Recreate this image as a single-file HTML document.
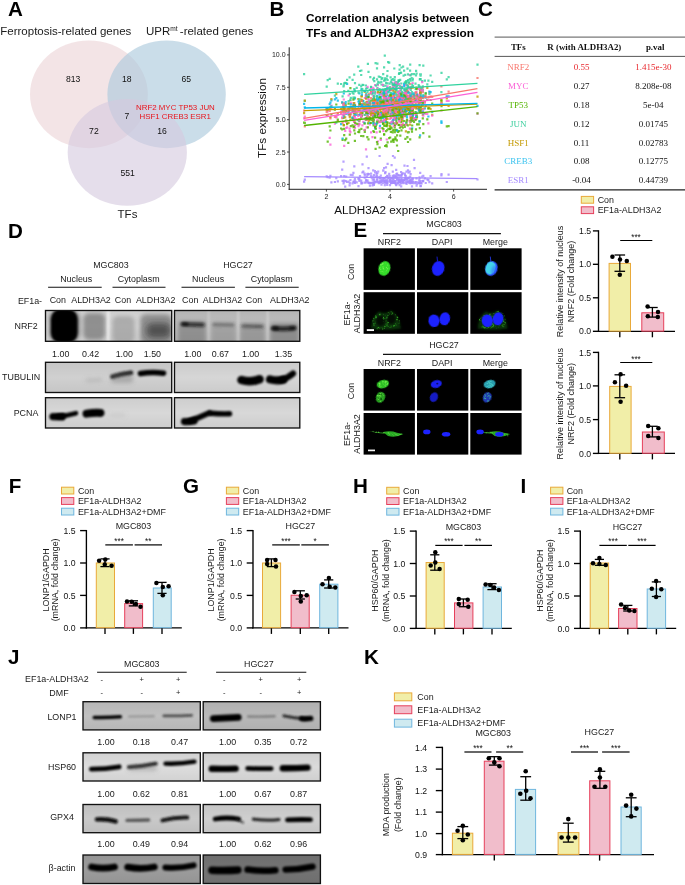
<!DOCTYPE html>
<html><head><meta charset="utf-8"><title>Figure</title>
<style>
html,body{margin:0;padding:0;background:#fff;}
body{width:685px;height:885px;overflow:hidden;font-family:"Liberation Sans",sans-serif;}
svg{display:block;font-family:"Liberation Sans",sans-serif;will-change:transform;-webkit-font-smoothing:antialiased;}
</style></head><body>
<svg width="685" height="885" viewBox="0 0 685 885">
<rect width="685" height="885" fill="#fff"/>
<g>
<ellipse cx="88.9" cy="94.3" rx="58.9" ry="53.9" fill="#ecd4d6" fill-opacity="0.62"/>
<ellipse cx="166.6" cy="94.3" rx="59.2" ry="53.9" fill="#a9c8dc" fill-opacity="0.62"/>
<ellipse cx="127.3" cy="152.4" rx="59.6" ry="53.4" fill="#d5c9de" fill-opacity="0.62"/>
<text x="65.80" y="35.12" font-size="11.5" text-anchor="middle" fill="#1a1a1a">Ferroptosis-related genes</text>
<text x="146" y="35.1" font-size="11.5" fill="#1a1a1a">UPR<tspan font-size="6.6" dy="-4.2">mt</tspan><tspan dy="4.2" dx="2.2">-related genes</tspan></text>
<text x="127.50" y="217.72" font-size="11.5" text-anchor="middle" fill="#1a1a1a">TFs</text>
<text x="73.20" y="82.08" font-size="8.6" text-anchor="middle" fill="#111">813</text>
<text x="126.80" y="82.08" font-size="8.6" text-anchor="middle" fill="#111">18</text>
<text x="186.30" y="82.08" font-size="8.6" text-anchor="middle" fill="#111">65</text>
<text x="126.90" y="118.78" font-size="8.6" text-anchor="middle" fill="#111">7</text>
<text x="93.90" y="134.28" font-size="8.6" text-anchor="middle" fill="#111">72</text>
<text x="162.00" y="134.28" font-size="8.6" text-anchor="middle" fill="#111">16</text>
<text x="127.60" y="176.48" font-size="8.6" text-anchor="middle" fill="#111">551</text>
<text x="175.40" y="109.73" font-size="7.9" text-anchor="middle" fill="#e8141c">NRF2 MYC TP53 JUN</text>
<text x="175.20" y="119.13" font-size="7.9" text-anchor="middle" fill="#e8141c">HSF1 CREB3 ESR1</text>
</g>
<text x="8" y="16" font-size="20.6" font-weight="bold" fill="#000">A</text>
<text x="269.5" y="16" font-size="20.6" font-weight="bold" fill="#000">B</text>
<text x="478" y="16.3" font-size="20.6" font-weight="bold" fill="#000">C</text>
<text x="8" y="237.6" font-size="20.6" font-weight="bold" fill="#000">D</text>
<text x="353.5" y="237.3" font-size="20.6" font-weight="bold" fill="#000">E</text>
<text x="8.8" y="493" font-size="20.6" font-weight="bold" fill="#000">F</text>
<text x="183" y="493" font-size="20.6" font-weight="bold" fill="#000">G</text>
<text x="353" y="493" font-size="20.6" font-weight="bold" fill="#000">H</text>
<text x="520.6" y="493" font-size="20.6" font-weight="bold" fill="#000">I</text>
<text x="8" y="664.2" font-size="20.6" font-weight="bold" fill="#000">J</text>
<text x="364" y="663.6" font-size="20.6" font-weight="bold" fill="#000">K</text>
<text x="306" y="21.9" font-size="11.8" font-weight="bold" fill="#000">Correlation analysis between</text>
<text x="306" y="36.6" font-size="11.8" font-weight="bold" fill="#000">TFs and ALDH3A2 expression</text>
<path d="M342.4 105.5h2.2v2.2h-2.2zM397.9 107.8h2.2v2.2h-2.2zM394.4 98.5h2.2v2.2h-2.2zM418.1 97.5h2.2v2.2h-2.2zM440.4 102.4h2.2v2.2h-2.2zM397.6 90.4h2.2v2.2h-2.2zM410.3 86.6h2.2v2.2h-2.2zM394.3 102.8h2.2v2.2h-2.2zM404.3 98.9h2.2v2.2h-2.2zM404.0 110.8h2.2v2.2h-2.2zM374.5 99.3h2.2v2.2h-2.2zM411.6 102.5h2.2v2.2h-2.2zM366.8 95.7h2.2v2.2h-2.2zM417.7 101.7h2.2v2.2h-2.2zM382.4 94.9h2.2v2.2h-2.2zM377.1 104.8h2.2v2.2h-2.2zM381.9 102.0h2.2v2.2h-2.2zM418.7 97.7h2.2v2.2h-2.2zM375.9 108.8h2.2v2.2h-2.2zM404.1 93.4h2.2v2.2h-2.2zM382.0 111.6h2.2v2.2h-2.2zM369.2 111.0h2.2v2.2h-2.2zM440.3 85.3h2.2v2.2h-2.2zM385.0 118.5h2.2v2.2h-2.2zM341.1 117.0h2.2v2.2h-2.2zM398.1 100.8h2.2v2.2h-2.2zM421.8 91.1h2.2v2.2h-2.2zM413.0 93.8h2.2v2.2h-2.2zM365.7 104.8h2.2v2.2h-2.2zM389.5 100.9h2.2v2.2h-2.2zM344.6 110.5h2.2v2.2h-2.2zM391.3 99.1h2.2v2.2h-2.2zM411.5 102.3h2.2v2.2h-2.2zM431.1 95.7h2.2v2.2h-2.2zM366.3 117.4h2.2v2.2h-2.2zM353.2 109.7h2.2v2.2h-2.2zM419.5 95.5h2.2v2.2h-2.2zM364.8 97.0h2.2v2.2h-2.2zM400.8 112.2h2.2v2.2h-2.2zM417.6 108.6h2.2v2.2h-2.2zM394.9 103.3h2.2v2.2h-2.2zM422.2 100.4h2.2v2.2h-2.2zM372.5 105.0h2.2v2.2h-2.2zM411.7 102.5h2.2v2.2h-2.2zM428.3 91.4h2.2v2.2h-2.2zM376.5 109.8h2.2v2.2h-2.2zM380.5 99.4h2.2v2.2h-2.2zM328.6 109.7h2.2v2.2h-2.2zM398.0 102.1h2.2v2.2h-2.2zM405.4 95.4h2.2v2.2h-2.2zM345.1 120.2h2.2v2.2h-2.2zM347.2 109.7h2.2v2.2h-2.2zM367.4 104.8h2.2v2.2h-2.2zM379.7 98.8h2.2v2.2h-2.2zM410.6 101.6h2.2v2.2h-2.2zM389.3 99.5h2.2v2.2h-2.2zM396.0 96.2h2.2v2.2h-2.2zM420.5 95.6h2.2v2.2h-2.2zM384.1 111.3h2.2v2.2h-2.2zM400.4 101.2h2.2v2.2h-2.2zM388.1 95.8h2.2v2.2h-2.2zM401.3 102.6h2.2v2.2h-2.2zM401.0 103.6h2.2v2.2h-2.2zM363.7 113.9h2.2v2.2h-2.2zM398.5 99.7h2.2v2.2h-2.2zM401.6 97.3h2.2v2.2h-2.2zM397.1 107.9h2.2v2.2h-2.2zM401.2 105.5h2.2v2.2h-2.2zM385.0 105.0h2.2v2.2h-2.2zM388.6 100.0h2.2v2.2h-2.2zM380.4 98.4h2.2v2.2h-2.2zM384.0 108.8h2.2v2.2h-2.2zM391.6 102.7h2.2v2.2h-2.2zM393.2 99.1h2.2v2.2h-2.2zM378.9 105.4h2.2v2.2h-2.2zM387.0 111.1h2.2v2.2h-2.2zM353.8 114.6h2.2v2.2h-2.2zM386.4 105.9h2.2v2.2h-2.2zM355.6 109.3h2.2v2.2h-2.2zM361.4 100.0h2.2v2.2h-2.2zM415.9 100.5h2.2v2.2h-2.2zM366.9 106.5h2.2v2.2h-2.2zM360.1 113.5h2.2v2.2h-2.2zM398.2 106.4h2.2v2.2h-2.2zM396.8 111.5h2.2v2.2h-2.2zM405.5 107.8h2.2v2.2h-2.2zM403.0 99.9h2.2v2.2h-2.2zM389.1 89.2h2.2v2.2h-2.2zM373.2 100.7h2.2v2.2h-2.2zM393.6 98.0h2.2v2.2h-2.2zM421.1 96.9h2.2v2.2h-2.2zM409.0 92.4h2.2v2.2h-2.2zM348.7 114.5h2.2v2.2h-2.2zM375.9 109.1h2.2v2.2h-2.2zM447.5 90.6h2.2v2.2h-2.2zM383.7 104.2h2.2v2.2h-2.2zM336.7 119.7h2.2v2.2h-2.2zM382.3 105.1h2.2v2.2h-2.2z" fill="#F8766D" fill-opacity="0.8"/>
<path d="M375.5 111.3h2.2v2.2h-2.2zM372.7 98.3h2.2v2.2h-2.2zM353.2 109.8h2.2v2.2h-2.2zM369.2 112.0h2.2v2.2h-2.2zM400.9 86.5h2.2v2.2h-2.2zM335.2 97.0h2.2v2.2h-2.2zM405.5 114.9h2.2v2.2h-2.2zM353.9 97.3h2.2v2.2h-2.2zM348.7 107.0h2.2v2.2h-2.2zM384.0 108.6h2.2v2.2h-2.2zM367.4 111.8h2.2v2.2h-2.2zM408.3 108.7h2.2v2.2h-2.2zM412.9 92.2h2.2v2.2h-2.2zM390.3 92.5h2.2v2.2h-2.2zM400.4 106.7h2.2v2.2h-2.2zM371.6 108.1h2.2v2.2h-2.2zM392.5 112.8h2.2v2.2h-2.2zM399.1 100.9h2.2v2.2h-2.2zM399.2 107.5h2.2v2.2h-2.2zM370.7 108.4h2.2v2.2h-2.2zM392.9 104.3h2.2v2.2h-2.2zM388.1 94.6h2.2v2.2h-2.2zM365.1 106.8h2.2v2.2h-2.2zM361.3 105.4h2.2v2.2h-2.2zM391.9 108.7h2.2v2.2h-2.2zM408.8 101.0h2.2v2.2h-2.2zM342.5 110.7h2.2v2.2h-2.2zM405.9 116.3h2.2v2.2h-2.2zM353.6 89.6h2.2v2.2h-2.2zM409.7 108.4h2.2v2.2h-2.2zM419.1 110.4h2.2v2.2h-2.2zM340.0 123.0h2.2v2.2h-2.2zM398.8 114.2h2.2v2.2h-2.2zM407.6 102.6h2.2v2.2h-2.2zM393.2 110.5h2.2v2.2h-2.2zM395.2 88.3h2.2v2.2h-2.2zM376.1 94.7h2.2v2.2h-2.2zM378.8 97.5h2.2v2.2h-2.2zM372.1 105.7h2.2v2.2h-2.2zM405.1 121.7h2.2v2.2h-2.2zM386.1 107.2h2.2v2.2h-2.2zM395.8 104.2h2.2v2.2h-2.2zM407.6 102.0h2.2v2.2h-2.2zM377.1 110.2h2.2v2.2h-2.2zM476.4 104.8h2.2v2.2h-2.2zM371.4 91.8h2.2v2.2h-2.2zM398.0 100.3h2.2v2.2h-2.2zM414.4 99.5h2.2v2.2h-2.2zM387.4 91.0h2.2v2.2h-2.2zM381.9 89.8h2.2v2.2h-2.2zM373.2 107.2h2.2v2.2h-2.2zM366.6 114.2h2.2v2.2h-2.2zM376.3 121.7h2.2v2.2h-2.2zM416.0 107.0h2.2v2.2h-2.2zM376.8 112.7h2.2v2.2h-2.2zM383.7 100.1h2.2v2.2h-2.2zM400.2 105.7h2.2v2.2h-2.2zM374.0 106.5h2.2v2.2h-2.2zM401.3 117.4h2.2v2.2h-2.2zM384.2 101.5h2.2v2.2h-2.2zM421.1 110.9h2.2v2.2h-2.2zM409.1 106.1h2.2v2.2h-2.2zM401.6 107.1h2.2v2.2h-2.2zM343.1 103.2h2.2v2.2h-2.2zM411.9 114.1h2.2v2.2h-2.2zM386.5 107.6h2.2v2.2h-2.2zM427.3 115.4h2.2v2.2h-2.2zM393.6 96.8h2.2v2.2h-2.2zM402.5 96.7h2.2v2.2h-2.2zM347.2 111.6h2.2v2.2h-2.2zM409.5 115.6h2.2v2.2h-2.2zM381.3 104.4h2.2v2.2h-2.2zM400.5 109.5h2.2v2.2h-2.2zM374.0 127.2h2.2v2.2h-2.2zM404.8 94.7h2.2v2.2h-2.2zM375.9 108.1h2.2v2.2h-2.2zM383.4 109.0h2.2v2.2h-2.2zM333.8 98.2h2.2v2.2h-2.2zM366.2 101.0h2.2v2.2h-2.2zM382.3 108.0h2.2v2.2h-2.2zM396.8 105.7h2.2v2.2h-2.2z" fill="#00B6EB" fill-opacity="0.8"/>
<path d="M404.9 91.5h2.2v2.2h-2.2zM413.5 97.3h2.2v2.2h-2.2zM398.8 126.5h2.2v2.2h-2.2zM404.3 137.7h2.2v2.2h-2.2zM393.6 116.7h2.2v2.2h-2.2zM372.1 116.2h2.2v2.2h-2.2zM389.0 122.2h2.2v2.2h-2.2zM395.3 120.0h2.2v2.2h-2.2zM379.7 137.5h2.2v2.2h-2.2zM400.1 87.1h2.2v2.2h-2.2zM389.8 130.9h2.2v2.2h-2.2zM384.0 92.8h2.2v2.2h-2.2zM397.9 130.0h2.2v2.2h-2.2zM393.4 111.9h2.2v2.2h-2.2zM382.0 122.2h2.2v2.2h-2.2zM341.1 128.2h2.2v2.2h-2.2zM363.5 109.1h2.2v2.2h-2.2zM406.9 140.9h2.2v2.2h-2.2zM352.4 126.1h2.2v2.2h-2.2zM340.0 127.4h2.2v2.2h-2.2zM388.1 137.1h2.2v2.2h-2.2zM397.5 123.9h2.2v2.2h-2.2zM380.5 117.2h2.2v2.2h-2.2zM400.5 118.3h2.2v2.2h-2.2zM329.3 129.4h2.2v2.2h-2.2zM358.1 131.1h2.2v2.2h-2.2zM342.7 124.1h2.2v2.2h-2.2zM376.1 104.7h2.2v2.2h-2.2zM382.4 107.4h2.2v2.2h-2.2zM393.6 108.4h2.2v2.2h-2.2zM376.8 102.7h2.2v2.2h-2.2zM372.8 118.9h2.2v2.2h-2.2zM360.8 114.9h2.2v2.2h-2.2zM383.4 111.5h2.2v2.2h-2.2zM385.0 116.9h2.2v2.2h-2.2zM343.1 127.8h2.2v2.2h-2.2zM371.6 117.1h2.2v2.2h-2.2zM394.3 136.2h2.2v2.2h-2.2zM352.8 112.0h2.2v2.2h-2.2zM395.1 102.9h2.2v2.2h-2.2zM363.6 128.9h2.2v2.2h-2.2zM386.5 141.2h2.2v2.2h-2.2zM418.7 127.0h2.2v2.2h-2.2zM376.8 106.6h2.2v2.2h-2.2zM389.3 125.6h2.2v2.2h-2.2zM395.2 128.7h2.2v2.2h-2.2zM368.4 118.3h2.2v2.2h-2.2zM402.5 94.0h2.2v2.2h-2.2zM388.9 127.7h2.2v2.2h-2.2zM348.7 133.5h2.2v2.2h-2.2zM397.4 114.5h2.2v2.2h-2.2zM393.7 131.1h2.2v2.2h-2.2zM408.8 120.1h2.2v2.2h-2.2zM382.3 127.9h2.2v2.2h-2.2zM414.9 128.3h2.2v2.2h-2.2zM393.2 128.7h2.2v2.2h-2.2zM360.1 116.6h2.2v2.2h-2.2zM366.2 136.0h2.2v2.2h-2.2zM349.3 87.1h2.2v2.2h-2.2zM418.1 106.9h2.2v2.2h-2.2zM409.0 111.9h2.2v2.2h-2.2zM404.0 107.8h2.2v2.2h-2.2zM393.6 116.1h2.2v2.2h-2.2zM385.6 145.4h2.2v2.2h-2.2zM416.0 123.3h2.2v2.2h-2.2z" fill="#53B400" fill-opacity="0.8"/>
<path d="M347.2 180.9h2.2v2.2h-2.2zM405.5 182.2h2.2v2.2h-2.2zM385.0 178.5h2.2v2.2h-2.2zM386.4 181.7h2.2v2.2h-2.2zM357.4 185.1h2.2v2.2h-2.2zM410.6 180.2h2.2v2.2h-2.2zM383.0 166.9h2.2v2.2h-2.2zM409.0 178.8h2.2v2.2h-2.2zM413.0 182.1h2.2v2.2h-2.2zM386.1 179.0h2.2v2.2h-2.2zM394.5 182.0h2.2v2.2h-2.2zM418.4 176.3h2.2v2.2h-2.2zM408.1 181.5h2.2v2.2h-2.2zM326.6 176.0h2.2v2.2h-2.2zM368.8 184.5h2.2v2.2h-2.2zM373.0 178.2h2.2v2.2h-2.2zM399.2 179.5h2.2v2.2h-2.2zM353.8 181.7h2.2v2.2h-2.2zM373.8 169.9h2.2v2.2h-2.2zM382.4 178.1h2.2v2.2h-2.2zM391.8 180.6h2.2v2.2h-2.2zM379.7 180.7h2.2v2.2h-2.2zM406.4 164.9h2.2v2.2h-2.2zM330.3 181.3h2.2v2.2h-2.2zM393.4 181.8h2.2v2.2h-2.2zM366.9 181.4h2.2v2.2h-2.2zM349.7 173.8h2.2v2.2h-2.2zM365.5 180.0h2.2v2.2h-2.2zM383.4 177.4h2.2v2.2h-2.2zM329.3 174.7h2.2v2.2h-2.2zM351.5 174.0h2.2v2.2h-2.2zM391.8 181.9h2.2v2.2h-2.2zM388.1 172.7h2.2v2.2h-2.2zM358.9 174.9h2.2v2.2h-2.2zM348.7 182.1h2.2v2.2h-2.2zM387.0 180.2h2.2v2.2h-2.2zM418.5 177.0h2.2v2.2h-2.2zM414.4 181.2h2.2v2.2h-2.2zM376.8 181.1h2.2v2.2h-2.2zM361.3 171.4h2.2v2.2h-2.2zM378.8 180.5h2.2v2.2h-2.2zM410.9 185.3h2.2v2.2h-2.2zM404.0 173.7h2.2v2.2h-2.2zM363.6 176.5h2.2v2.2h-2.2zM411.7 181.2h2.2v2.2h-2.2zM389.9 177.0h2.2v2.2h-2.2zM376.5 176.6h2.2v2.2h-2.2zM393.6 180.7h2.2v2.2h-2.2zM376.8 181.1h2.2v2.2h-2.2zM391.7 170.5h2.2v2.2h-2.2zM384.1 181.4h2.2v2.2h-2.2zM445.7 180.9h2.2v2.2h-2.2zM364.8 181.4h2.2v2.2h-2.2zM361.0 181.8h2.2v2.2h-2.2zM404.3 177.5h2.2v2.2h-2.2zM347.5 180.6h2.2v2.2h-2.2zM386.5 162.8h2.2v2.2h-2.2zM303.0 180.6h2.2v2.2h-2.2zM360.8 182.0h2.2v2.2h-2.2zM393.6 156.5h2.2v2.2h-2.2zM409.5 181.3h2.2v2.2h-2.2zM346.0 180.7h2.2v2.2h-2.2zM417.7 182.0h2.2v2.2h-2.2zM447.5 173.6h2.2v2.2h-2.2zM398.1 180.8h2.2v2.2h-2.2zM406.7 177.4h2.2v2.2h-2.2zM379.7 174.5h2.2v2.2h-2.2zM401.2 181.4h2.2v2.2h-2.2zM382.0 177.1h2.2v2.2h-2.2zM395.1 168.7h2.2v2.2h-2.2zM419.5 185.1h2.2v2.2h-2.2zM407.6 180.8h2.2v2.2h-2.2zM393.6 180.1h2.2v2.2h-2.2zM418.1 179.3h2.2v2.2h-2.2zM363.5 172.6h2.2v2.2h-2.2zM365.1 180.4h2.2v2.2h-2.2zM374.8 171.1h2.2v2.2h-2.2zM340.0 175.0h2.2v2.2h-2.2zM374.0 171.2h2.2v2.2h-2.2zM398.2 181.2h2.2v2.2h-2.2zM374.7 181.1h2.2v2.2h-2.2zM387.4 177.0h2.2v2.2h-2.2zM405.4 182.9h2.2v2.2h-2.2zM372.3 175.4h2.2v2.2h-2.2zM391.9 154.9h2.2v2.2h-2.2zM372.1 169.2h2.2v2.2h-2.2zM403.4 178.8h2.2v2.2h-2.2zM411.5 178.0h2.2v2.2h-2.2zM345.1 175.4h2.2v2.2h-2.2zM393.2 180.4h2.2v2.2h-2.2zM397.9 179.3h2.2v2.2h-2.2zM369.9 175.1h2.2v2.2h-2.2zM408.8 182.1h2.2v2.2h-2.2zM388.9 184.0h2.2v2.2h-2.2z" fill="#A58AFF" fill-opacity="0.8"/>
<path d="M326.6 108.8h2.2v2.2h-2.2zM400.2 115.5h2.2v2.2h-2.2zM403.4 103.2h2.2v2.2h-2.2zM373.0 110.6h2.2v2.2h-2.2zM409.4 109.7h2.2v2.2h-2.2zM352.8 103.9h2.2v2.2h-2.2zM394.5 103.7h2.2v2.2h-2.2zM346.0 123.1h2.2v2.2h-2.2zM368.8 101.6h2.2v2.2h-2.2zM394.3 102.8h2.2v2.2h-2.2zM411.6 108.9h2.2v2.2h-2.2zM335.2 93.0h2.2v2.2h-2.2zM380.2 111.9h2.2v2.2h-2.2zM377.7 106.1h2.2v2.2h-2.2zM358.2 102.9h2.2v2.2h-2.2zM400.0 106.2h2.2v2.2h-2.2zM419.1 107.1h2.2v2.2h-2.2zM360.3 95.2h2.2v2.2h-2.2zM353.9 104.1h2.2v2.2h-2.2zM402.5 113.1h2.2v2.2h-2.2zM363.6 90.7h2.2v2.2h-2.2zM354.1 105.5h2.2v2.2h-2.2zM366.9 111.5h2.2v2.2h-2.2zM403.4 96.9h2.2v2.2h-2.2zM365.7 100.7h2.2v2.2h-2.2zM476.4 95.5h2.2v2.2h-2.2zM366.3 103.3h2.2v2.2h-2.2zM342.7 124.1h2.2v2.2h-2.2zM375.5 101.4h2.2v2.2h-2.2zM333.8 108.2h2.2v2.2h-2.2zM413.0 106.5h2.2v2.2h-2.2zM411.5 110.4h2.2v2.2h-2.2zM399.2 107.0h2.2v2.2h-2.2zM353.1 120.9h2.2v2.2h-2.2zM345.1 119.6h2.2v2.2h-2.2zM361.4 99.6h2.2v2.2h-2.2zM398.0 103.3h2.2v2.2h-2.2zM386.1 110.5h2.2v2.2h-2.2zM378.8 102.9h2.2v2.2h-2.2zM422.2 99.8h2.2v2.2h-2.2zM343.1 111.0h2.2v2.2h-2.2zM370.7 110.4h2.2v2.2h-2.2zM421.7 113.7h2.2v2.2h-2.2zM358.1 118.5h2.2v2.2h-2.2zM393.4 118.4h2.2v2.2h-2.2zM361.0 102.9h2.2v2.2h-2.2zM362.2 102.7h2.2v2.2h-2.2zM406.9 112.6h2.2v2.2h-2.2zM419.6 96.7h2.2v2.2h-2.2zM388.1 97.3h2.2v2.2h-2.2zM410.6 118.5h2.2v2.2h-2.2zM413.5 98.1h2.2v2.2h-2.2zM380.5 111.4h2.2v2.2h-2.2zM351.5 106.2h2.2v2.2h-2.2zM379.8 112.4h2.2v2.2h-2.2zM405.1 105.9h2.2v2.2h-2.2zM440.3 98.9h2.2v2.2h-2.2zM398.7 99.9h2.2v2.2h-2.2zM445.7 97.2h2.2v2.2h-2.2zM364.8 106.9h2.2v2.2h-2.2zM414.5 99.0h2.2v2.2h-2.2zM369.8 91.2h2.2v2.2h-2.2zM384.0 94.6h2.2v2.2h-2.2zM389.1 102.7h2.2v2.2h-2.2zM396.8 100.8h2.2v2.2h-2.2zM384.4 118.7h2.2v2.2h-2.2zM393.6 88.4h2.2v2.2h-2.2zM409.0 123.6h2.2v2.2h-2.2zM397.9 117.0h2.2v2.2h-2.2zM352.3 110.0h2.2v2.2h-2.2zM366.8 106.3h2.2v2.2h-2.2zM398.5 99.0h2.2v2.2h-2.2zM411.7 86.5h2.2v2.2h-2.2zM336.7 112.5h2.2v2.2h-2.2zM408.8 97.1h2.2v2.2h-2.2zM389.5 100.1h2.2v2.2h-2.2zM404.1 96.4h2.2v2.2h-2.2zM415.5 117.6h2.2v2.2h-2.2zM378.5 106.9h2.2v2.2h-2.2zM386.1 101.2h2.2v2.2h-2.2zM385.7 123.9h2.2v2.2h-2.2zM383.7 121.5h2.2v2.2h-2.2zM400.8 100.6h2.2v2.2h-2.2zM393.7 108.1h2.2v2.2h-2.2zM386.5 117.7h2.2v2.2h-2.2zM399.2 108.7h2.2v2.2h-2.2zM405.5 109.6h2.2v2.2h-2.2zM384.4 100.2h2.2v2.2h-2.2zM393.2 102.7h2.2v2.2h-2.2zM390.1 104.1h2.2v2.2h-2.2z" fill="#C49A00" fill-opacity="0.8"/>
<path d="M378.8 101.7h2.2v2.2h-2.2zM378.7 88.9h2.2v2.2h-2.2zM343.1 82.3h2.2v2.2h-2.2zM411.6 95.7h2.2v2.2h-2.2zM348.7 92.7h2.2v2.2h-2.2zM403.4 88.8h2.2v2.2h-2.2zM382.0 83.9h2.2v2.2h-2.2zM416.0 96.1h2.2v2.2h-2.2zM384.9 89.5h2.2v2.2h-2.2zM403.0 92.1h2.2v2.2h-2.2zM358.1 99.8h2.2v2.2h-2.2zM303.0 73.1h2.2v2.2h-2.2zM373.8 92.6h2.2v2.2h-2.2zM389.0 88.7h2.2v2.2h-2.2zM374.7 98.5h2.2v2.2h-2.2zM368.8 88.7h2.2v2.2h-2.2zM414.4 82.5h2.2v2.2h-2.2zM386.1 89.2h2.2v2.2h-2.2zM379.7 99.9h2.2v2.2h-2.2zM383.7 89.6h2.2v2.2h-2.2zM384.9 92.8h2.2v2.2h-2.2zM383.0 66.3h2.2v2.2h-2.2zM362.2 83.9h2.2v2.2h-2.2zM360.1 73.9h2.2v2.2h-2.2zM414.5 87.8h2.2v2.2h-2.2zM411.9 85.0h2.2v2.2h-2.2zM411.5 79.4h2.2v2.2h-2.2zM353.2 87.9h2.2v2.2h-2.2zM351.4 91.5h2.2v2.2h-2.2zM419.5 74.6h2.2v2.2h-2.2zM342.4 85.2h2.2v2.2h-2.2zM410.9 90.9h2.2v2.2h-2.2zM395.1 85.6h2.2v2.2h-2.2zM382.4 84.7h2.2v2.2h-2.2zM346.0 78.8h2.2v2.2h-2.2zM343.1 89.9h2.2v2.2h-2.2zM426.2 83.2h2.2v2.2h-2.2zM400.2 82.4h2.2v2.2h-2.2zM355.6 86.8h2.2v2.2h-2.2zM429.5 74.4h2.2v2.2h-2.2zM399.0 94.7h2.2v2.2h-2.2zM396.8 81.8h2.2v2.2h-2.2zM381.6 88.4h2.2v2.2h-2.2zM393.6 91.5h2.2v2.2h-2.2zM419.1 73.3h2.2v2.2h-2.2zM418.1 85.4h2.2v2.2h-2.2zM379.2 97.3h2.2v2.2h-2.2zM377.1 80.8h2.2v2.2h-2.2zM344.6 103.3h2.2v2.2h-2.2zM389.5 76.3h2.2v2.2h-2.2zM390.6 78.9h2.2v2.2h-2.2zM369.9 85.8h2.2v2.2h-2.2zM417.7 98.6h2.2v2.2h-2.2zM401.7 91.8h2.2v2.2h-2.2zM419.7 73.3h2.2v2.2h-2.2zM365.7 116.5h2.2v2.2h-2.2zM392.8 102.9h2.2v2.2h-2.2zM415.9 93.2h2.2v2.2h-2.2zM400.2 104.0h2.2v2.2h-2.2zM400.4 86.6h2.2v2.2h-2.2zM342.7 84.4h2.2v2.2h-2.2zM373.2 80.0h2.2v2.2h-2.2zM406.7 84.5h2.2v2.2h-2.2zM394.4 81.0h2.2v2.2h-2.2zM341.1 109.0h2.2v2.2h-2.2zM374.5 62.0h2.2v2.2h-2.2zM424.6 92.1h2.2v2.2h-2.2zM421.1 80.0h2.2v2.2h-2.2zM396.0 83.5h2.2v2.2h-2.2zM393.6 84.0h2.2v2.2h-2.2zM398.1 79.6h2.2v2.2h-2.2z" fill="#2fd29e" fill-opacity="0.8"/>
<path d="M411.9 111.6h2.2v2.2h-2.2zM370.0 131.2h2.2v2.2h-2.2zM380.4 90.6h2.2v2.2h-2.2zM405.4 94.0h2.2v2.2h-2.2zM365.5 126.2h2.2v2.2h-2.2zM419.6 96.1h2.2v2.2h-2.2zM447.5 99.7h2.2v2.2h-2.2zM409.7 116.0h2.2v2.2h-2.2zM418.1 103.0h2.2v2.2h-2.2zM344.1 129.7h2.2v2.2h-2.2zM400.4 109.2h2.2v2.2h-2.2zM405.9 109.3h2.2v2.2h-2.2zM395.1 104.7h2.2v2.2h-2.2zM394.5 100.6h2.2v2.2h-2.2zM404.0 84.3h2.2v2.2h-2.2zM329.3 143.5h2.2v2.2h-2.2zM390.6 116.7h2.2v2.2h-2.2zM378.5 105.6h2.2v2.2h-2.2zM404.7 107.2h2.2v2.2h-2.2zM382.1 113.6h2.2v2.2h-2.2zM325.6 107.6h2.2v2.2h-2.2zM349.3 131.0h2.2v2.2h-2.2zM383.0 95.7h2.2v2.2h-2.2zM379.7 113.6h2.2v2.2h-2.2zM404.3 92.3h2.2v2.2h-2.2zM418.7 93.6h2.2v2.2h-2.2zM386.1 115.7h2.2v2.2h-2.2zM401.6 104.0h2.2v2.2h-2.2zM363.6 117.2h2.2v2.2h-2.2zM406.7 99.4h2.2v2.2h-2.2zM394.0 100.4h2.2v2.2h-2.2zM398.8 103.4h2.2v2.2h-2.2zM397.6 92.8h2.2v2.2h-2.2zM352.4 109.0h2.2v2.2h-2.2zM373.2 114.4h2.2v2.2h-2.2zM353.6 118.1h2.2v2.2h-2.2zM371.6 115.2h2.2v2.2h-2.2zM409.0 99.0h2.2v2.2h-2.2zM402.5 114.8h2.2v2.2h-2.2zM398.2 105.6h2.2v2.2h-2.2zM397.4 100.4h2.2v2.2h-2.2zM406.9 90.4h2.2v2.2h-2.2zM346.0 126.3h2.2v2.2h-2.2zM351.5 110.0h2.2v2.2h-2.2zM419.1 109.3h2.2v2.2h-2.2zM399.1 97.6h2.2v2.2h-2.2zM396.0 83.7h2.2v2.2h-2.2zM395.9 100.5h2.2v2.2h-2.2zM405.5 103.3h2.2v2.2h-2.2zM400.4 104.7h2.2v2.2h-2.2zM395.8 96.3h2.2v2.2h-2.2zM391.7 84.2h2.2v2.2h-2.2zM400.0 98.3h2.2v2.2h-2.2zM401.7 117.5h2.2v2.2h-2.2zM353.9 126.9h2.2v2.2h-2.2zM361.4 108.1h2.2v2.2h-2.2zM372.9 95.9h2.2v2.2h-2.2zM355.6 117.8h2.2v2.2h-2.2zM408.6 73.9h2.2v2.2h-2.2zM400.6 85.6h2.2v2.2h-2.2zM367.4 116.7h2.2v2.2h-2.2zM383.7 110.4h2.2v2.2h-2.2zM387.0 101.9h2.2v2.2h-2.2zM369.9 87.8h2.2v2.2h-2.2zM372.8 108.7h2.2v2.2h-2.2zM381.3 94.9h2.2v2.2h-2.2zM405.1 83.9h2.2v2.2h-2.2zM410.7 96.8h2.2v2.2h-2.2zM406.9 99.6h2.2v2.2h-2.2zM401.2 111.3h2.2v2.2h-2.2zM419.5 110.7h2.2v2.2h-2.2zM368.8 123.3h2.2v2.2h-2.2zM358.1 123.2h2.2v2.2h-2.2zM387.3 97.2h2.2v2.2h-2.2zM384.0 113.7h2.2v2.2h-2.2zM375.9 100.4h2.2v2.2h-2.2zM363.7 96.9h2.2v2.2h-2.2zM394.4 81.4h2.2v2.2h-2.2zM413.0 119.1h2.2v2.2h-2.2zM413.5 117.0h2.2v2.2h-2.2zM382.0 90.9h2.2v2.2h-2.2zM389.3 97.8h2.2v2.2h-2.2zM328.6 136.8h2.2v2.2h-2.2zM376.8 83.9h2.2v2.2h-2.2zM391.9 111.9h2.2v2.2h-2.2zM342.5 104.4h2.2v2.2h-2.2zM410.2 110.7h2.2v2.2h-2.2zM405.4 97.1h2.2v2.2h-2.2zM369.2 108.1h2.2v2.2h-2.2zM397.5 95.8h2.2v2.2h-2.2zM383.0 118.8h2.2v2.2h-2.2zM426.2 112.8h2.2v2.2h-2.2zM392.9 105.3h2.2v2.2h-2.2zM377.1 115.6h2.2v2.2h-2.2zM422.2 114.6h2.2v2.2h-2.2zM374.0 111.1h2.2v2.2h-2.2z" fill="#FB61D7" fill-opacity="0.8"/>
<path d="M426.2 118.2h2.2v2.2h-2.2zM403.7 125.9h2.2v2.2h-2.2zM393.2 138.5h2.2v2.2h-2.2zM394.3 111.5h2.2v2.2h-2.2zM370.0 99.6h2.2v2.2h-2.2zM398.7 104.5h2.2v2.2h-2.2zM364.9 117.3h2.2v2.2h-2.2zM357.2 130.9h2.2v2.2h-2.2zM365.7 109.6h2.2v2.2h-2.2zM386.4 121.8h2.2v2.2h-2.2zM369.2 118.4h2.2v2.2h-2.2zM384.9 124.7h2.2v2.2h-2.2zM414.4 110.9h2.2v2.2h-2.2zM349.7 125.1h2.2v2.2h-2.2zM390.5 126.7h2.2v2.2h-2.2zM353.2 129.3h2.2v2.2h-2.2zM401.6 113.2h2.2v2.2h-2.2zM348.5 113.3h2.2v2.2h-2.2zM423.8 112.1h2.2v2.2h-2.2zM400.8 116.2h2.2v2.2h-2.2zM407.6 105.3h2.2v2.2h-2.2zM398.1 109.3h2.2v2.2h-2.2zM409.1 138.2h2.2v2.2h-2.2zM388.6 107.4h2.2v2.2h-2.2zM389.9 112.5h2.2v2.2h-2.2zM440.4 105.1h2.2v2.2h-2.2zM384.0 144.9h2.2v2.2h-2.2zM383.0 133.3h2.2v2.2h-2.2zM420.5 88.8h2.2v2.2h-2.2zM399.0 108.5h2.2v2.2h-2.2zM360.3 127.8h2.2v2.2h-2.2zM406.3 136.4h2.2v2.2h-2.2zM406.2 136.1h2.2v2.2h-2.2zM391.6 131.2h2.2v2.2h-2.2zM374.0 136.6h2.2v2.2h-2.2zM419.1 89.0h2.2v2.2h-2.2zM393.6 126.3h2.2v2.2h-2.2zM401.0 107.5h2.2v2.2h-2.2zM379.8 99.8h2.2v2.2h-2.2zM409.5 120.8h2.2v2.2h-2.2zM422.2 132.0h2.2v2.2h-2.2zM396.4 110.6h2.2v2.2h-2.2zM397.1 149.9h2.2v2.2h-2.2zM369.8 92.3h2.2v2.2h-2.2zM391.9 104.2h2.2v2.2h-2.2zM379.3 106.3h2.2v2.2h-2.2zM372.7 98.3h2.2v2.2h-2.2zM371.4 118.4h2.2v2.2h-2.2zM421.1 104.2h2.2v2.2h-2.2zM409.7 97.4h2.2v2.2h-2.2zM395.9 99.9h2.2v2.2h-2.2zM355.6 122.7h2.2v2.2h-2.2zM364.8 118.9h2.2v2.2h-2.2zM411.6 116.2h2.2v2.2h-2.2zM345.1 137.6h2.2v2.2h-2.2zM381.3 127.0h2.2v2.2h-2.2zM395.5 129.3h2.2v2.2h-2.2zM421.7 117.2h2.2v2.2h-2.2zM353.6 104.9h2.2v2.2h-2.2zM361.0 99.6h2.2v2.2h-2.2zM410.6 104.3h2.2v2.2h-2.2zM371.6 114.3h2.2v2.2h-2.2zM408.8 100.5h2.2v2.2h-2.2zM397.6 111.1h2.2v2.2h-2.2zM399.2 134.6h2.2v2.2h-2.2zM389.5 104.5h2.2v2.2h-2.2zM325.6 114.1h2.2v2.2h-2.2zM447.5 125.1h2.2v2.2h-2.2zM365.5 109.1h2.2v2.2h-2.2zM372.3 129.9h2.2v2.2h-2.2zM400.4 98.6h2.2v2.2h-2.2zM370.7 118.7h2.2v2.2h-2.2zM384.1 124.6h2.2v2.2h-2.2zM374.8 127.6h2.2v2.2h-2.2zM389.0 128.1h2.2v2.2h-2.2zM358.2 120.0h2.2v2.2h-2.2zM383.7 113.3h2.2v2.2h-2.2zM429.5 98.9h2.2v2.2h-2.2zM366.8 126.2h2.2v2.2h-2.2z" fill="#53B400" fill-opacity="0.8"/>
<path d="M376.5 83.1h2.2v2.2h-2.2zM402.5 74.5h2.2v2.2h-2.2zM407.4 85.8h2.2v2.2h-2.2zM407.6 81.5h2.2v2.2h-2.2zM387.0 61.0h2.2v2.2h-2.2zM372.1 107.4h2.2v2.2h-2.2zM409.7 88.8h2.2v2.2h-2.2zM384.1 88.1h2.2v2.2h-2.2zM361.4 83.7h2.2v2.2h-2.2zM385.6 77.4h2.2v2.2h-2.2zM366.3 90.8h2.2v2.2h-2.2zM411.7 77.7h2.2v2.2h-2.2zM399.2 91.5h2.2v2.2h-2.2zM400.6 86.1h2.2v2.2h-2.2zM395.8 85.2h2.2v2.2h-2.2zM397.1 102.5h2.2v2.2h-2.2zM427.3 79.6h2.2v2.2h-2.2zM358.2 83.8h2.2v2.2h-2.2zM400.5 97.6h2.2v2.2h-2.2zM370.0 85.9h2.2v2.2h-2.2zM352.4 92.6h2.2v2.2h-2.2zM393.6 85.2h2.2v2.2h-2.2zM371.4 93.3h2.2v2.2h-2.2zM418.5 64.0h2.2v2.2h-2.2zM415.0 69.8h2.2v2.2h-2.2zM347.2 89.7h2.2v2.2h-2.2zM376.8 89.3h2.2v2.2h-2.2zM325.6 85.5h2.2v2.2h-2.2zM349.7 96.7h2.2v2.2h-2.2zM380.5 77.9h2.2v2.2h-2.2zM405.5 99.2h2.2v2.2h-2.2zM344.1 81.7h2.2v2.2h-2.2zM422.2 93.9h2.2v2.2h-2.2zM372.1 78.2h2.2v2.2h-2.2zM386.1 74.7h2.2v2.2h-2.2zM413.0 94.0h2.2v2.2h-2.2zM404.1 73.8h2.2v2.2h-2.2zM363.5 89.7h2.2v2.2h-2.2zM408.6 93.7h2.2v2.2h-2.2zM387.3 90.0h2.2v2.2h-2.2zM406.3 84.3h2.2v2.2h-2.2zM394.0 82.6h2.2v2.2h-2.2zM397.5 83.7h2.2v2.2h-2.2zM409.5 110.1h2.2v2.2h-2.2zM415.4 113.7h2.2v2.2h-2.2zM412.9 73.1h2.2v2.2h-2.2zM395.1 93.1h2.2v2.2h-2.2zM398.7 85.0h2.2v2.2h-2.2zM417.6 83.9h2.2v2.2h-2.2zM403.4 100.6h2.2v2.2h-2.2zM406.9 78.9h2.2v2.2h-2.2zM386.1 91.8h2.2v2.2h-2.2zM369.8 111.1h2.2v2.2h-2.2zM410.6 77.0h2.2v2.2h-2.2zM404.6 111.1h2.2v2.2h-2.2zM383.0 89.6h2.2v2.2h-2.2zM388.9 86.1h2.2v2.2h-2.2zM401.0 95.6h2.2v2.2h-2.2zM393.2 67.4h2.2v2.2h-2.2zM447.5 76.0h2.2v2.2h-2.2zM375.9 67.2h2.2v2.2h-2.2zM391.7 99.5h2.2v2.2h-2.2zM365.1 92.4h2.2v2.2h-2.2zM369.2 76.1h2.2v2.2h-2.2zM374.0 114.3h2.2v2.2h-2.2zM371.6 89.3h2.2v2.2h-2.2zM406.4 67.5h2.2v2.2h-2.2zM392.6 83.7h2.2v2.2h-2.2zM409.4 99.8h2.2v2.2h-2.2zM360.8 91.3h2.2v2.2h-2.2zM336.7 82.6h2.2v2.2h-2.2zM400.0 71.5h2.2v2.2h-2.2zM371.6 99.1h2.2v2.2h-2.2zM409.4 79.5h2.2v2.2h-2.2zM392.5 90.4h2.2v2.2h-2.2zM391.8 114.7h2.2v2.2h-2.2zM360.3 69.4h2.2v2.2h-2.2zM380.2 80.7h2.2v2.2h-2.2zM392.9 78.9h2.2v2.2h-2.2zM397.9 72.8h2.2v2.2h-2.2zM340.0 82.9h2.2v2.2h-2.2zM385.0 95.2h2.2v2.2h-2.2zM419.0 78.1h2.2v2.2h-2.2zM366.5 90.4h2.2v2.2h-2.2zM397.6 80.0h2.2v2.2h-2.2zM382.1 73.0h2.2v2.2h-2.2zM384.4 102.4h2.2v2.2h-2.2zM393.4 78.6h2.2v2.2h-2.2zM370.7 106.9h2.2v2.2h-2.2zM391.6 110.2h2.2v2.2h-2.2zM353.1 73.5h2.2v2.2h-2.2zM342.5 110.2h2.2v2.2h-2.2zM391.7 77.9h2.2v2.2h-2.2zM348.5 76.3h2.2v2.2h-2.2zM376.4 86.8h2.2v2.2h-2.2z" fill="#2fd29e" fill-opacity="0.8"/>
<path d="M378.5 100.4h2.2v2.2h-2.2zM395.9 114.2h2.2v2.2h-2.2zM407.4 86.4h2.2v2.2h-2.2zM360.1 105.6h2.2v2.2h-2.2zM352.3 118.2h2.2v2.2h-2.2zM394.4 114.4h2.2v2.2h-2.2zM411.1 127.3h2.2v2.2h-2.2zM410.3 118.3h2.2v2.2h-2.2zM360.3 88.2h2.2v2.2h-2.2zM344.1 102.0h2.2v2.2h-2.2zM398.1 99.1h2.2v2.2h-2.2zM396.4 104.7h2.2v2.2h-2.2zM367.6 107.1h2.2v2.2h-2.2zM352.4 103.8h2.2v2.2h-2.2zM386.1 111.9h2.2v2.2h-2.2zM423.8 107.3h2.2v2.2h-2.2zM408.6 108.3h2.2v2.2h-2.2zM355.6 113.8h2.2v2.2h-2.2zM403.0 84.8h2.2v2.2h-2.2zM382.0 120.5h2.2v2.2h-2.2zM349.3 112.6h2.2v2.2h-2.2zM342.7 92.4h2.2v2.2h-2.2zM389.0 98.1h2.2v2.2h-2.2zM410.9 93.1h2.2v2.2h-2.2zM399.2 112.3h2.2v2.2h-2.2zM383.0 108.8h2.2v2.2h-2.2zM388.9 96.8h2.2v2.2h-2.2zM391.7 112.1h2.2v2.2h-2.2zM382.4 106.6h2.2v2.2h-2.2zM345.1 112.7h2.2v2.2h-2.2zM379.7 101.2h2.2v2.2h-2.2zM366.9 103.2h2.2v2.2h-2.2zM419.0 134.3h2.2v2.2h-2.2zM376.8 113.5h2.2v2.2h-2.2zM348.5 109.4h2.2v2.2h-2.2zM372.9 108.4h2.2v2.2h-2.2zM415.9 93.7h2.2v2.2h-2.2zM378.1 102.2h2.2v2.2h-2.2zM400.1 113.8h2.2v2.2h-2.2zM378.4 93.6h2.2v2.2h-2.2zM410.2 101.6h2.2v2.2h-2.2zM389.5 104.1h2.2v2.2h-2.2zM379.2 112.7h2.2v2.2h-2.2zM303.7 106.3h2.2v2.2h-2.2zM344.6 100.9h2.2v2.2h-2.2zM397.5 101.5h2.2v2.2h-2.2zM385.6 109.5h2.2v2.2h-2.2zM419.7 105.8h2.2v2.2h-2.2zM393.6 108.4h2.2v2.2h-2.2zM368.2 106.4h2.2v2.2h-2.2zM372.1 109.4h2.2v2.2h-2.2zM347.5 113.2h2.2v2.2h-2.2zM342.4 114.3h2.2v2.2h-2.2zM383.7 99.3h2.2v2.2h-2.2zM384.1 104.2h2.2v2.2h-2.2zM386.1 86.8h2.2v2.2h-2.2zM393.4 105.5h2.2v2.2h-2.2zM406.9 97.9h2.2v2.2h-2.2zM413.0 94.6h2.2v2.2h-2.2zM358.9 109.8h2.2v2.2h-2.2zM400.1 110.5h2.2v2.2h-2.2zM410.6 112.8h2.2v2.2h-2.2zM404.1 101.6h2.2v2.2h-2.2zM406.9 97.8h2.2v2.2h-2.2zM346.0 82.8h2.2v2.2h-2.2zM393.7 118.1h2.2v2.2h-2.2zM385.0 95.8h2.2v2.2h-2.2zM360.1 103.5h2.2v2.2h-2.2zM419.6 90.7h2.2v2.2h-2.2zM405.4 104.0h2.2v2.2h-2.2zM363.7 106.1h2.2v2.2h-2.2zM386.4 98.5h2.2v2.2h-2.2zM395.3 115.8h2.2v2.2h-2.2zM365.5 105.5h2.2v2.2h-2.2zM406.2 91.5h2.2v2.2h-2.2zM419.5 98.3h2.2v2.2h-2.2zM382.1 116.2h2.2v2.2h-2.2zM406.3 105.0h2.2v2.2h-2.2zM383.0 101.0h2.2v2.2h-2.2zM369.8 108.1h2.2v2.2h-2.2zM429.5 91.0h2.2v2.2h-2.2zM409.0 101.7h2.2v2.2h-2.2zM398.7 97.1h2.2v2.2h-2.2zM395.5 105.4h2.2v2.2h-2.2zM413.5 95.1h2.2v2.2h-2.2zM365.7 104.1h2.2v2.2h-2.2zM385.7 97.8h2.2v2.2h-2.2zM357.2 119.0h2.2v2.2h-2.2zM431.1 110.8h2.2v2.2h-2.2zM325.6 107.6h2.2v2.2h-2.2zM384.4 106.8h2.2v2.2h-2.2zM378.9 124.8h2.2v2.2h-2.2zM394.3 118.3h2.2v2.2h-2.2zM420.5 101.4h2.2v2.2h-2.2zM397.1 99.9h2.2v2.2h-2.2z" fill="#00B6EB" fill-opacity="0.8"/>
<path d="M371.6 98.2h2.2v2.2h-2.2zM358.9 101.0h2.2v2.2h-2.2zM416.0 95.5h2.2v2.2h-2.2zM385.0 111.2h2.2v2.2h-2.2zM360.8 95.0h2.2v2.2h-2.2zM347.5 121.9h2.2v2.2h-2.2zM421.1 103.8h2.2v2.2h-2.2zM398.2 108.3h2.2v2.2h-2.2zM385.3 100.1h2.2v2.2h-2.2zM395.1 106.6h2.2v2.2h-2.2zM392.5 94.9h2.2v2.2h-2.2zM418.5 100.4h2.2v2.2h-2.2zM389.0 106.3h2.2v2.2h-2.2zM400.4 116.9h2.2v2.2h-2.2zM373.2 105.7h2.2v2.2h-2.2zM407.6 108.6h2.2v2.2h-2.2zM376.3 111.2h2.2v2.2h-2.2zM387.3 113.1h2.2v2.2h-2.2zM403.0 105.3h2.2v2.2h-2.2zM376.8 106.9h2.2v2.2h-2.2zM397.5 103.3h2.2v2.2h-2.2zM404.0 110.6h2.2v2.2h-2.2zM391.8 121.1h2.2v2.2h-2.2zM371.4 112.7h2.2v2.2h-2.2zM373.8 107.6h2.2v2.2h-2.2zM390.6 103.1h2.2v2.2h-2.2zM365.1 107.0h2.2v2.2h-2.2zM372.1 99.9h2.2v2.2h-2.2zM392.6 108.0h2.2v2.2h-2.2zM341.5 106.6h2.2v2.2h-2.2zM391.7 107.2h2.2v2.2h-2.2zM376.5 111.5h2.2v2.2h-2.2zM386.4 103.8h2.2v2.2h-2.2zM419.0 88.1h2.2v2.2h-2.2zM409.4 94.7h2.2v2.2h-2.2zM391.9 108.9h2.2v2.2h-2.2zM372.9 97.5h2.2v2.2h-2.2zM391.7 113.5h2.2v2.2h-2.2zM415.9 104.4h2.2v2.2h-2.2zM384.9 100.4h2.2v2.2h-2.2zM395.3 110.9h2.2v2.2h-2.2zM348.7 115.8h2.2v2.2h-2.2zM426.2 86.7h2.2v2.2h-2.2zM349.3 118.4h2.2v2.2h-2.2zM384.1 109.3h2.2v2.2h-2.2zM368.2 104.4h2.2v2.2h-2.2zM406.3 104.6h2.2v2.2h-2.2zM382.3 109.5h2.2v2.2h-2.2zM355.6 111.6h2.2v2.2h-2.2zM414.4 101.5h2.2v2.2h-2.2zM368.4 115.9h2.2v2.2h-2.2zM408.3 112.7h2.2v2.2h-2.2zM372.5 104.7h2.2v2.2h-2.2zM424.6 105.1h2.2v2.2h-2.2zM400.6 99.2h2.2v2.2h-2.2zM374.5 106.3h2.2v2.2h-2.2zM408.8 104.4h2.2v2.2h-2.2zM341.1 101.5h2.2v2.2h-2.2zM420.5 108.0h2.2v2.2h-2.2zM411.9 105.1h2.2v2.2h-2.2zM422.2 107.6h2.2v2.2h-2.2zM400.2 102.2h2.2v2.2h-2.2zM391.6 102.7h2.2v2.2h-2.2zM410.7 102.2h2.2v2.2h-2.2zM398.6 106.8h2.2v2.2h-2.2zM389.8 105.7h2.2v2.2h-2.2zM387.4 101.9h2.2v2.2h-2.2zM404.7 105.9h2.2v2.2h-2.2zM405.4 123.3h2.2v2.2h-2.2zM357.2 97.9h2.2v2.2h-2.2zM406.7 102.4h2.2v2.2h-2.2zM375.9 104.9h2.2v2.2h-2.2zM400.9 119.6h2.2v2.2h-2.2zM429.5 108.1h2.2v2.2h-2.2zM367.6 120.1h2.2v2.2h-2.2zM395.5 102.9h2.2v2.2h-2.2zM388.9 109.4h2.2v2.2h-2.2zM369.2 103.3h2.2v2.2h-2.2zM384.2 100.8h2.2v2.2h-2.2zM388.6 124.9h2.2v2.2h-2.2z" fill="#C49A00" fill-opacity="0.8"/>
<path d="M391.7 105.9h2.2v2.2h-2.2zM370.0 90.9h2.2v2.2h-2.2zM415.5 96.1h2.2v2.2h-2.2zM382.1 106.5h2.2v2.2h-2.2zM445.7 95.8h2.2v2.2h-2.2zM352.4 101.9h2.2v2.2h-2.2zM391.8 95.9h2.2v2.2h-2.2zM368.2 101.8h2.2v2.2h-2.2zM326.6 113.9h2.2v2.2h-2.2zM395.1 108.4h2.2v2.2h-2.2zM400.1 100.5h2.2v2.2h-2.2zM403.4 106.2h2.2v2.2h-2.2zM406.2 89.7h2.2v2.2h-2.2zM400.9 116.3h2.2v2.2h-2.2zM399.2 96.6h2.2v2.2h-2.2zM384.4 107.7h2.2v2.2h-2.2zM343.1 108.6h2.2v2.2h-2.2zM371.4 105.4h2.2v2.2h-2.2zM357.4 106.9h2.2v2.2h-2.2zM391.7 97.8h2.2v2.2h-2.2zM397.5 96.3h2.2v2.2h-2.2zM404.9 109.2h2.2v2.2h-2.2zM365.1 105.6h2.2v2.2h-2.2zM378.4 102.4h2.2v2.2h-2.2zM398.8 98.2h2.2v2.2h-2.2zM347.5 108.1h2.2v2.2h-2.2zM358.3 104.8h2.2v2.2h-2.2zM342.5 102.2h2.2v2.2h-2.2zM378.7 107.9h2.2v2.2h-2.2zM367.6 93.1h2.2v2.2h-2.2zM351.4 106.8h2.2v2.2h-2.2zM381.3 105.3h2.2v2.2h-2.2zM385.0 103.5h2.2v2.2h-2.2zM393.7 98.0h2.2v2.2h-2.2zM341.5 121.7h2.2v2.2h-2.2zM396.4 100.4h2.2v2.2h-2.2zM363.5 108.2h2.2v2.2h-2.2zM386.4 99.5h2.2v2.2h-2.2zM346.0 109.5h2.2v2.2h-2.2zM395.5 97.2h2.2v2.2h-2.2zM360.3 112.4h2.2v2.2h-2.2zM378.8 106.4h2.2v2.2h-2.2zM400.0 99.1h2.2v2.2h-2.2zM366.6 118.9h2.2v2.2h-2.2zM390.6 101.5h2.2v2.2h-2.2zM388.9 105.5h2.2v2.2h-2.2zM385.7 93.9h2.2v2.2h-2.2zM389.0 99.6h2.2v2.2h-2.2zM423.8 94.8h2.2v2.2h-2.2zM392.5 95.1h2.2v2.2h-2.2zM418.5 99.1h2.2v2.2h-2.2zM409.1 95.0h2.2v2.2h-2.2zM391.9 95.9h2.2v2.2h-2.2zM370.7 106.1h2.2v2.2h-2.2zM397.4 107.4h2.2v2.2h-2.2zM335.2 115.5h2.2v2.2h-2.2zM410.9 98.2h2.2v2.2h-2.2zM400.4 106.7h2.2v2.2h-2.2zM387.4 100.1h2.2v2.2h-2.2zM378.1 113.6h2.2v2.2h-2.2zM352.3 108.8h2.2v2.2h-2.2zM405.4 93.9h2.2v2.2h-2.2zM392.6 107.6h2.2v2.2h-2.2zM416.0 87.0h2.2v2.2h-2.2zM376.1 107.8h2.2v2.2h-2.2zM379.3 108.0h2.2v2.2h-2.2zM369.8 96.9h2.2v2.2h-2.2zM419.0 91.0h2.2v2.2h-2.2zM383.7 109.4h2.2v2.2h-2.2zM383.4 114.1h2.2v2.2h-2.2zM377.7 104.7h2.2v2.2h-2.2zM391.9 101.1h2.2v2.2h-2.2zM403.0 95.7h2.2v2.2h-2.2zM414.4 94.4h2.2v2.2h-2.2zM395.3 105.5h2.2v2.2h-2.2zM361.3 103.1h2.2v2.2h-2.2zM429.5 95.6h2.2v2.2h-2.2zM357.2 114.1h2.2v2.2h-2.2zM386.5 105.9h2.2v2.2h-2.2zM384.2 99.4h2.2v2.2h-2.2zM398.6 100.8h2.2v2.2h-2.2zM402.5 97.2h2.2v2.2h-2.2zM413.5 105.6h2.2v2.2h-2.2zM382.4 106.1h2.2v2.2h-2.2zM399.1 108.4h2.2v2.2h-2.2z" fill="#F8766D" fill-opacity="0.8"/>
<path d="M395.5 174.9h2.2v2.2h-2.2zM399.0 178.8h2.2v2.2h-2.2zM413.5 167.0h2.2v2.2h-2.2zM440.3 174.4h2.2v2.2h-2.2zM390.6 176.8h2.2v2.2h-2.2zM395.2 184.1h2.2v2.2h-2.2zM381.9 181.8h2.2v2.2h-2.2zM370.7 176.6h2.2v2.2h-2.2zM366.3 173.0h2.2v2.2h-2.2zM381.6 180.7h2.2v2.2h-2.2zM387.3 177.0h2.2v2.2h-2.2zM406.9 169.2h2.2v2.2h-2.2zM357.2 177.6h2.2v2.2h-2.2zM372.1 178.4h2.2v2.2h-2.2zM389.3 178.9h2.2v2.2h-2.2zM366.8 172.8h2.2v2.2h-2.2zM325.6 175.2h2.2v2.2h-2.2zM397.5 180.9h2.2v2.2h-2.2zM393.2 174.3h2.2v2.2h-2.2zM343.1 175.0h2.2v2.2h-2.2zM411.6 177.4h2.2v2.2h-2.2zM373.2 182.0h2.2v2.2h-2.2zM384.0 172.0h2.2v2.2h-2.2zM386.4 175.3h2.2v2.2h-2.2zM367.6 181.7h2.2v2.2h-2.2zM336.7 180.2h2.2v2.2h-2.2zM378.1 182.1h2.2v2.2h-2.2zM403.7 172.4h2.2v2.2h-2.2zM401.3 179.6h2.2v2.2h-2.2zM365.7 155.6h2.2v2.2h-2.2zM355.6 181.2h2.2v2.2h-2.2zM391.8 181.5h2.2v2.2h-2.2zM396.8 182.1h2.2v2.2h-2.2zM408.8 181.5h2.2v2.2h-2.2zM398.0 180.1h2.2v2.2h-2.2zM395.8 176.6h2.2v2.2h-2.2zM419.1 171.8h2.2v2.2h-2.2zM429.5 175.1h2.2v2.2h-2.2zM341.5 179.8h2.2v2.2h-2.2zM404.7 175.1h2.2v2.2h-2.2zM328.6 176.5h2.2v2.2h-2.2zM389.1 179.4h2.2v2.2h-2.2zM409.4 180.2h2.2v2.2h-2.2zM418.7 181.3h2.2v2.2h-2.2zM374.0 180.4h2.2v2.2h-2.2zM394.0 182.0h2.2v2.2h-2.2zM390.5 164.0h2.2v2.2h-2.2zM406.2 178.1h2.2v2.2h-2.2zM384.9 166.3h2.2v2.2h-2.2zM392.6 175.6h2.2v2.2h-2.2zM405.1 177.6h2.2v2.2h-2.2zM400.2 179.1h2.2v2.2h-2.2zM394.3 176.8h2.2v2.2h-2.2zM400.2 174.9h2.2v2.2h-2.2zM352.4 180.5h2.2v2.2h-2.2zM403.0 178.7h2.2v2.2h-2.2zM393.7 175.0h2.2v2.2h-2.2zM363.5 181.5h2.2v2.2h-2.2zM409.5 173.1h2.2v2.2h-2.2zM390.1 181.8h2.2v2.2h-2.2zM421.8 180.4h2.2v2.2h-2.2zM383.0 180.1h2.2v2.2h-2.2zM398.7 179.5h2.2v2.2h-2.2zM375.9 175.1h2.2v2.2h-2.2zM398.8 181.2h2.2v2.2h-2.2zM378.5 154.9h2.2v2.2h-2.2zM335.2 177.1h2.2v2.2h-2.2zM371.6 178.5h2.2v2.2h-2.2zM383.7 181.5h2.2v2.2h-2.2zM361.4 163.3h2.2v2.2h-2.2zM401.6 172.3h2.2v2.2h-2.2zM377.7 182.1h2.2v2.2h-2.2zM385.7 182.0h2.2v2.2h-2.2zM402.0 181.0h2.2v2.2h-2.2zM400.1 185.3h2.2v2.2h-2.2zM419.7 182.1h2.2v2.2h-2.2zM407.6 176.9h2.2v2.2h-2.2zM382.3 180.1h2.2v2.2h-2.2zM358.2 178.4h2.2v2.2h-2.2zM398.5 184.0h2.2v2.2h-2.2zM399.2 174.4h2.2v2.2h-2.2zM394.3 175.8h2.2v2.2h-2.2zM365.7 175.5h2.2v2.2h-2.2zM410.7 181.3h2.2v2.2h-2.2z" fill="#A58AFF" fill-opacity="0.8"/>
<path d="M393.2 115.2h2.2v2.2h-2.2zM399.2 97.8h2.2v2.2h-2.2zM385.0 107.5h2.2v2.2h-2.2zM363.5 128.7h2.2v2.2h-2.2zM366.3 101.9h2.2v2.2h-2.2zM408.8 127.6h2.2v2.2h-2.2zM399.2 99.0h2.2v2.2h-2.2zM419.5 96.3h2.2v2.2h-2.2zM419.7 111.3h2.2v2.2h-2.2zM409.1 120.4h2.2v2.2h-2.2zM363.5 107.2h2.2v2.2h-2.2zM422.2 108.6h2.2v2.2h-2.2zM404.1 106.2h2.2v2.2h-2.2zM400.8 98.7h2.2v2.2h-2.2zM347.5 94.4h2.2v2.2h-2.2zM391.9 105.4h2.2v2.2h-2.2zM372.1 110.5h2.2v2.2h-2.2zM376.8 140.4h2.2v2.2h-2.2zM398.1 82.9h2.2v2.2h-2.2zM368.4 112.9h2.2v2.2h-2.2zM372.7 120.4h2.2v2.2h-2.2zM404.6 123.9h2.2v2.2h-2.2zM393.6 117.7h2.2v2.2h-2.2zM375.5 131.3h2.2v2.2h-2.2zM398.7 90.0h2.2v2.2h-2.2zM427.3 122.2h2.2v2.2h-2.2zM409.4 95.0h2.2v2.2h-2.2zM341.5 113.5h2.2v2.2h-2.2zM380.5 114.8h2.2v2.2h-2.2zM352.8 117.4h2.2v2.2h-2.2zM428.3 95.7h2.2v2.2h-2.2zM354.1 124.0h2.2v2.2h-2.2zM393.2 124.4h2.2v2.2h-2.2zM351.4 118.6h2.2v2.2h-2.2zM364.9 148.3h2.2v2.2h-2.2zM379.3 98.9h2.2v2.2h-2.2zM393.6 97.7h2.2v2.2h-2.2zM393.4 86.3h2.2v2.2h-2.2zM414.9 113.8h2.2v2.2h-2.2zM414.5 117.6h2.2v2.2h-2.2zM395.3 100.0h2.2v2.2h-2.2zM383.7 118.6h2.2v2.2h-2.2zM377.7 102.8h2.2v2.2h-2.2zM378.7 127.0h2.2v2.2h-2.2zM303.7 115.6h2.2v2.2h-2.2zM365.1 112.4h2.2v2.2h-2.2zM415.9 105.8h2.2v2.2h-2.2zM417.6 87.9h2.2v2.2h-2.2zM406.3 119.4h2.2v2.2h-2.2zM391.3 81.5h2.2v2.2h-2.2zM410.6 113.2h2.2v2.2h-2.2zM398.5 99.3h2.2v2.2h-2.2zM445.7 99.9h2.2v2.2h-2.2zM429.5 95.8h2.2v2.2h-2.2zM381.9 114.8h2.2v2.2h-2.2zM403.7 102.3h2.2v2.2h-2.2zM362.2 120.8h2.2v2.2h-2.2zM391.8 121.3h2.2v2.2h-2.2zM403.0 110.9h2.2v2.2h-2.2zM333.8 122.5h2.2v2.2h-2.2zM373.0 99.6h2.2v2.2h-2.2zM410.3 100.4h2.2v2.2h-2.2zM390.5 105.2h2.2v2.2h-2.2zM366.9 98.4h2.2v2.2h-2.2zM385.0 97.3h2.2v2.2h-2.2zM345.1 126.9h2.2v2.2h-2.2zM411.6 113.9h2.2v2.2h-2.2zM387.4 97.2h2.2v2.2h-2.2zM383.0 110.8h2.2v2.2h-2.2zM403.4 91.6h2.2v2.2h-2.2zM326.6 110.2h2.2v2.2h-2.2zM374.0 83.9h2.2v2.2h-2.2zM358.9 108.1h2.2v2.2h-2.2zM360.8 112.8h2.2v2.2h-2.2zM392.6 125.0h2.2v2.2h-2.2zM340.0 110.6h2.2v2.2h-2.2zM386.4 85.3h2.2v2.2h-2.2z" fill="#FB61D7" fill-opacity="0.8"/>
<path d="M363.7 174.0h2.2v2.2h-2.2zM383.7 184.0h2.2v2.2h-2.2zM333.8 180.9h2.2v2.2h-2.2zM344.6 180.1h2.2v2.2h-2.2zM352.3 171.8h2.2v2.2h-2.2zM371.6 181.5h2.2v2.2h-2.2zM380.5 179.1h2.2v2.2h-2.2zM372.5 183.2h2.2v2.2h-2.2zM395.9 178.1h2.2v2.2h-2.2zM408.6 170.6h2.2v2.2h-2.2zM419.6 184.9h2.2v2.2h-2.2zM368.2 173.0h2.2v2.2h-2.2zM389.5 179.7h2.2v2.2h-2.2zM403.0 179.4h2.2v2.2h-2.2zM401.0 172.7h2.2v2.2h-2.2zM380.2 177.4h2.2v2.2h-2.2zM384.4 171.1h2.2v2.2h-2.2zM406.3 181.0h2.2v2.2h-2.2zM368.4 182.0h2.2v2.2h-2.2zM415.4 177.2h2.2v2.2h-2.2zM383.0 177.3h2.2v2.2h-2.2zM375.9 178.2h2.2v2.2h-2.2zM422.2 174.7h2.2v2.2h-2.2zM353.2 165.3h2.2v2.2h-2.2zM384.0 180.3h2.2v2.2h-2.2zM397.1 174.1h2.2v2.2h-2.2zM424.6 181.9h2.2v2.2h-2.2zM476.4 178.4h2.2v2.2h-2.2zM369.2 181.8h2.2v2.2h-2.2zM386.1 183.7h2.2v2.2h-2.2zM421.7 179.9h2.2v2.2h-2.2zM370.0 172.6h2.2v2.2h-2.2zM375.5 173.0h2.2v2.2h-2.2zM391.9 180.6h2.2v2.2h-2.2zM428.3 181.0h2.2v2.2h-2.2zM349.3 179.1h2.2v2.2h-2.2zM385.3 180.5h2.2v2.2h-2.2zM419.0 182.2h2.2v2.2h-2.2zM404.1 176.4h2.2v2.2h-2.2zM389.0 178.4h2.2v2.2h-2.2zM385.0 180.8h2.2v2.2h-2.2zM395.3 173.1h2.2v2.2h-2.2zM344.1 185.5h2.2v2.2h-2.2zM412.9 158.8h2.2v2.2h-2.2zM389.0 180.6h2.2v2.2h-2.2zM405.4 170.6h2.2v2.2h-2.2zM395.1 175.8h2.2v2.2h-2.2zM421.1 175.6h2.2v2.2h-2.2zM378.9 181.4h2.2v2.2h-2.2zM409.4 180.4h2.2v2.2h-2.2zM392.9 181.2h2.2v2.2h-2.2zM364.9 178.8h2.2v2.2h-2.2zM392.5 178.0h2.2v2.2h-2.2zM372.9 173.9h2.2v2.2h-2.2zM379.3 177.1h2.2v2.2h-2.2zM409.1 175.5h2.2v2.2h-2.2zM388.6 175.1h2.2v2.2h-2.2zM427.3 179.0h2.2v2.2h-2.2zM403.4 164.6h2.2v2.2h-2.2zM372.7 180.6h2.2v2.2h-2.2zM400.9 179.6h2.2v2.2h-2.2zM397.6 177.7h2.2v2.2h-2.2zM407.4 176.4h2.2v2.2h-2.2zM431.1 182.2h2.2v2.2h-2.2zM400.4 177.7h2.2v2.2h-2.2zM420.5 182.2h2.2v2.2h-2.2zM384.9 176.1h2.2v2.2h-2.2zM378.4 175.9h2.2v2.2h-2.2zM389.8 181.5h2.2v2.2h-2.2zM392.8 180.4h2.2v2.2h-2.2zM348.5 184.3h2.2v2.2h-2.2zM399.1 180.9h2.2v2.2h-2.2zM386.1 174.7h2.2v2.2h-2.2zM400.0 171.1h2.2v2.2h-2.2zM440.4 173.0h2.2v2.2h-2.2zM367.4 167.1h2.2v2.2h-2.2z" fill="#A58AFF" fill-opacity="0.8"/>
<path d="M404.7 113.3h2.2v2.2h-2.2zM412.9 120.8h2.2v2.2h-2.2zM403.0 123.9h2.2v2.2h-2.2zM384.4 111.0h2.2v2.2h-2.2zM362.2 135.0h2.2v2.2h-2.2zM402.0 111.5h2.2v2.2h-2.2zM391.8 120.1h2.2v2.2h-2.2zM419.7 99.5h2.2v2.2h-2.2zM410.3 116.6h2.2v2.2h-2.2zM387.4 108.5h2.2v2.2h-2.2zM390.1 140.5h2.2v2.2h-2.2zM386.1 123.8h2.2v2.2h-2.2zM417.6 95.2h2.2v2.2h-2.2zM389.1 136.4h2.2v2.2h-2.2zM374.7 124.8h2.2v2.2h-2.2zM408.3 96.9h2.2v2.2h-2.2zM378.4 116.1h2.2v2.2h-2.2zM386.1 129.0h2.2v2.2h-2.2zM378.1 117.0h2.2v2.2h-2.2zM385.0 130.0h2.2v2.2h-2.2zM385.3 144.1h2.2v2.2h-2.2zM398.5 111.4h2.2v2.2h-2.2zM398.6 105.3h2.2v2.2h-2.2zM391.8 138.5h2.2v2.2h-2.2zM333.8 108.2h2.2v2.2h-2.2zM407.6 131.1h2.2v2.2h-2.2zM406.9 131.3h2.2v2.2h-2.2zM417.7 123.2h2.2v2.2h-2.2zM372.5 124.3h2.2v2.2h-2.2zM422.2 123.1h2.2v2.2h-2.2zM341.5 138.7h2.2v2.2h-2.2zM392.9 106.3h2.2v2.2h-2.2zM390.6 105.3h2.2v2.2h-2.2zM351.4 116.9h2.2v2.2h-2.2zM372.1 120.5h2.2v2.2h-2.2zM401.3 115.9h2.2v2.2h-2.2zM380.2 120.6h2.2v2.2h-2.2zM378.5 146.4h2.2v2.2h-2.2zM400.2 121.1h2.2v2.2h-2.2zM418.4 120.3h2.2v2.2h-2.2zM415.0 103.8h2.2v2.2h-2.2zM410.2 119.3h2.2v2.2h-2.2zM353.9 132.4h2.2v2.2h-2.2zM361.4 112.0h2.2v2.2h-2.2zM398.2 112.6h2.2v2.2h-2.2zM328.6 125.3h2.2v2.2h-2.2zM394.5 110.6h2.2v2.2h-2.2zM392.8 101.7h2.2v2.2h-2.2zM398.0 118.6h2.2v2.2h-2.2zM335.2 103.4h2.2v2.2h-2.2zM373.2 122.5h2.2v2.2h-2.2zM400.6 124.3h2.2v2.2h-2.2zM415.9 115.7h2.2v2.2h-2.2zM382.4 92.8h2.2v2.2h-2.2zM342.4 116.7h2.2v2.2h-2.2zM411.7 119.7h2.2v2.2h-2.2zM399.1 107.6h2.2v2.2h-2.2zM401.7 126.5h2.2v2.2h-2.2zM385.0 104.5h2.2v2.2h-2.2zM404.8 108.7h2.2v2.2h-2.2zM419.0 92.2h2.2v2.2h-2.2zM366.5 111.6h2.2v2.2h-2.2zM405.1 101.0h2.2v2.2h-2.2zM383.0 133.4h2.2v2.2h-2.2zM376.4 143.1h2.2v2.2h-2.2zM361.3 105.7h2.2v2.2h-2.2zM415.4 114.8h2.2v2.2h-2.2zM377.1 114.0h2.2v2.2h-2.2zM384.4 101.4h2.2v2.2h-2.2zM379.7 119.5h2.2v2.2h-2.2zM375.5 123.3h2.2v2.2h-2.2zM410.7 128.3h2.2v2.2h-2.2zM363.7 130.8h2.2v2.2h-2.2zM404.1 110.0h2.2v2.2h-2.2zM406.7 124.3h2.2v2.2h-2.2zM376.3 114.8h2.2v2.2h-2.2zM408.1 112.0h2.2v2.2h-2.2zM357.4 123.1h2.2v2.2h-2.2zM373.0 104.3h2.2v2.2h-2.2zM385.7 125.0h2.2v2.2h-2.2zM384.2 97.7h2.2v2.2h-2.2zM395.9 144.4h2.2v2.2h-2.2zM391.7 129.3h2.2v2.2h-2.2zM405.4 88.4h2.2v2.2h-2.2zM367.4 138.3h2.2v2.2h-2.2zM330.3 113.4h2.2v2.2h-2.2zM387.3 127.7h2.2v2.2h-2.2zM396.8 130.7h2.2v2.2h-2.2zM408.6 109.7h2.2v2.2h-2.2zM358.3 128.7h2.2v2.2h-2.2zM414.5 118.9h2.2v2.2h-2.2zM351.5 124.2h2.2v2.2h-2.2zM372.1 113.7h2.2v2.2h-2.2zM407.4 108.7h2.2v2.2h-2.2zM365.1 111.8h2.2v2.2h-2.2zM404.6 81.3h2.2v2.2h-2.2zM395.8 139.2h2.2v2.2h-2.2zM403.4 95.4h2.2v2.2h-2.2z" fill="#53B400" fill-opacity="0.8"/>
<path d="M380.5 92.8h2.2v2.2h-2.2zM421.8 96.6h2.2v2.2h-2.2zM415.5 100.1h2.2v2.2h-2.2zM368.4 102.4h2.2v2.2h-2.2zM418.7 111.0h2.2v2.2h-2.2zM387.3 111.6h2.2v2.2h-2.2zM401.2 104.3h2.2v2.2h-2.2zM409.4 105.1h2.2v2.2h-2.2zM363.6 89.9h2.2v2.2h-2.2zM418.1 109.7h2.2v2.2h-2.2zM410.7 108.2h2.2v2.2h-2.2zM403.4 106.2h2.2v2.2h-2.2zM368.8 121.9h2.2v2.2h-2.2zM366.3 106.7h2.2v2.2h-2.2zM372.5 108.5h2.2v2.2h-2.2zM391.8 104.4h2.2v2.2h-2.2zM372.1 122.3h2.2v2.2h-2.2zM357.4 100.4h2.2v2.2h-2.2zM396.0 129.4h2.2v2.2h-2.2zM395.9 117.5h2.2v2.2h-2.2zM411.5 116.5h2.2v2.2h-2.2zM363.5 121.7h2.2v2.2h-2.2zM391.3 120.8h2.2v2.2h-2.2zM394.9 115.9h2.2v2.2h-2.2zM365.7 112.2h2.2v2.2h-2.2zM403.0 82.8h2.2v2.2h-2.2zM328.6 103.0h2.2v2.2h-2.2zM385.0 106.6h2.2v2.2h-2.2zM400.8 104.1h2.2v2.2h-2.2zM381.6 116.8h2.2v2.2h-2.2zM417.7 107.8h2.2v2.2h-2.2zM398.0 97.7h2.2v2.2h-2.2zM364.9 93.7h2.2v2.2h-2.2zM370.0 107.4h2.2v2.2h-2.2zM389.0 97.5h2.2v2.2h-2.2zM404.6 96.1h2.2v2.2h-2.2zM380.4 100.9h2.2v2.2h-2.2zM389.1 88.8h2.2v2.2h-2.2zM397.4 108.0h2.2v2.2h-2.2zM403.4 88.4h2.2v2.2h-2.2zM385.0 113.0h2.2v2.2h-2.2zM414.9 104.8h2.2v2.2h-2.2zM362.2 100.0h2.2v2.2h-2.2zM341.5 137.4h2.2v2.2h-2.2zM411.6 114.0h2.2v2.2h-2.2zM447.5 95.2h2.2v2.2h-2.2zM376.5 111.1h2.2v2.2h-2.2zM343.1 115.6h2.2v2.2h-2.2zM379.7 95.9h2.2v2.2h-2.2zM415.0 115.8h2.2v2.2h-2.2zM404.3 95.9h2.2v2.2h-2.2zM390.5 122.6h2.2v2.2h-2.2zM382.3 106.6h2.2v2.2h-2.2zM351.4 116.3h2.2v2.2h-2.2zM384.9 104.2h2.2v2.2h-2.2zM408.8 110.8h2.2v2.2h-2.2zM372.3 114.1h2.2v2.2h-2.2zM445.7 95.2h2.2v2.2h-2.2zM426.2 98.9h2.2v2.2h-2.2zM398.6 109.2h2.2v2.2h-2.2zM417.6 103.6h2.2v2.2h-2.2zM388.6 107.1h2.2v2.2h-2.2zM352.8 110.6h2.2v2.2h-2.2zM409.4 112.6h2.2v2.2h-2.2zM392.6 101.4h2.2v2.2h-2.2zM394.5 104.2h2.2v2.2h-2.2zM391.6 111.1h2.2v2.2h-2.2zM374.5 107.3h2.2v2.2h-2.2zM379.3 105.5h2.2v2.2h-2.2zM393.6 96.8h2.2v2.2h-2.2zM373.0 104.4h2.2v2.2h-2.2zM360.8 93.6h2.2v2.2h-2.2zM404.7 106.9h2.2v2.2h-2.2zM374.8 122.8h2.2v2.2h-2.2zM399.0 92.9h2.2v2.2h-2.2zM364.8 95.1h2.2v2.2h-2.2zM329.3 101.5h2.2v2.2h-2.2zM394.0 103.2h2.2v2.2h-2.2zM405.4 109.7h2.2v2.2h-2.2zM440.4 121.7h2.2v2.2h-2.2zM378.7 97.9h2.2v2.2h-2.2zM411.7 100.9h2.2v2.2h-2.2zM386.4 109.3h2.2v2.2h-2.2zM326.6 108.0h2.2v2.2h-2.2zM415.4 111.5h2.2v2.2h-2.2z" fill="#00B6EB" fill-opacity="0.8"/>
<path d="M376.8 105.6h2.2v2.2h-2.2zM410.7 105.2h2.2v2.2h-2.2zM351.5 110.3h2.2v2.2h-2.2zM402.0 101.1h2.2v2.2h-2.2zM376.4 104.7h2.2v2.2h-2.2zM395.9 98.8h2.2v2.2h-2.2zM376.8 101.7h2.2v2.2h-2.2zM419.5 92.5h2.2v2.2h-2.2zM358.2 104.3h2.2v2.2h-2.2zM390.1 101.4h2.2v2.2h-2.2zM349.3 99.4h2.2v2.2h-2.2zM411.9 95.2h2.2v2.2h-2.2zM365.5 105.0h2.2v2.2h-2.2zM383.0 112.0h2.2v2.2h-2.2zM400.6 106.8h2.2v2.2h-2.2zM476.4 76.9h2.2v2.2h-2.2zM411.1 101.0h2.2v2.2h-2.2zM360.1 105.1h2.2v2.2h-2.2zM384.9 104.0h2.2v2.2h-2.2zM414.9 91.4h2.2v2.2h-2.2zM342.7 107.7h2.2v2.2h-2.2zM340.0 111.8h2.2v2.2h-2.2zM372.8 112.4h2.2v2.2h-2.2zM400.1 91.9h2.2v2.2h-2.2zM353.1 111.1h2.2v2.2h-2.2zM372.1 106.1h2.2v2.2h-2.2zM389.0 106.5h2.2v2.2h-2.2zM406.7 95.0h2.2v2.2h-2.2zM303.7 125.3h2.2v2.2h-2.2zM407.6 99.7h2.2v2.2h-2.2zM393.4 93.8h2.2v2.2h-2.2zM384.0 103.3h2.2v2.2h-2.2zM407.6 94.7h2.2v2.2h-2.2zM419.7 89.4h2.2v2.2h-2.2zM333.8 115.8h2.2v2.2h-2.2zM375.5 101.2h2.2v2.2h-2.2zM406.9 99.1h2.2v2.2h-2.2zM354.1 107.9h2.2v2.2h-2.2zM395.8 107.0h2.2v2.2h-2.2zM374.7 104.7h2.2v2.2h-2.2zM408.1 100.5h2.2v2.2h-2.2zM415.4 103.6h2.2v2.2h-2.2zM393.2 102.1h2.2v2.2h-2.2zM419.1 102.0h2.2v2.2h-2.2zM394.0 101.4h2.2v2.2h-2.2zM405.9 108.0h2.2v2.2h-2.2zM378.5 112.2h2.2v2.2h-2.2zM399.0 107.0h2.2v2.2h-2.2zM330.3 107.3h2.2v2.2h-2.2zM383.0 97.1h2.2v2.2h-2.2zM398.7 102.7h2.2v2.2h-2.2zM362.2 105.3h2.2v2.2h-2.2zM363.5 107.2h2.2v2.2h-2.2zM386.1 111.7h2.2v2.2h-2.2zM409.4 86.6h2.2v2.2h-2.2zM427.3 96.3h2.2v2.2h-2.2zM393.6 102.4h2.2v2.2h-2.2zM390.5 110.1h2.2v2.2h-2.2zM379.2 103.8h2.2v2.2h-2.2zM407.4 96.3h2.2v2.2h-2.2zM419.6 97.9h2.2v2.2h-2.2zM365.7 101.2h2.2v2.2h-2.2zM391.8 104.0h2.2v2.2h-2.2zM379.7 98.6h2.2v2.2h-2.2zM363.6 106.9h2.2v2.2h-2.2zM329.3 117.2h2.2v2.2h-2.2zM394.3 100.4h2.2v2.2h-2.2zM372.1 103.2h2.2v2.2h-2.2zM408.6 101.2h2.2v2.2h-2.2zM389.9 87.2h2.2v2.2h-2.2zM358.1 118.1h2.2v2.2h-2.2zM372.7 101.2h2.2v2.2h-2.2zM373.0 105.1h2.2v2.2h-2.2zM385.6 109.0h2.2v2.2h-2.2zM399.2 94.5h2.2v2.2h-2.2zM400.5 97.4h2.2v2.2h-2.2z" fill="#F8766D" fill-opacity="0.8"/>
<path d="M440.4 101.1h2.2v2.2h-2.2zM383.0 114.0h2.2v2.2h-2.2zM409.5 104.0h2.2v2.2h-2.2zM385.0 116.3h2.2v2.2h-2.2zM401.3 100.0h2.2v2.2h-2.2zM400.1 109.4h2.2v2.2h-2.2zM421.8 103.6h2.2v2.2h-2.2zM390.3 100.5h2.2v2.2h-2.2zM382.4 101.0h2.2v2.2h-2.2zM394.9 101.3h2.2v2.2h-2.2zM372.8 98.7h2.2v2.2h-2.2zM381.3 106.9h2.2v2.2h-2.2zM347.2 107.3h2.2v2.2h-2.2zM399.1 105.9h2.2v2.2h-2.2zM353.8 110.3h2.2v2.2h-2.2zM401.7 101.6h2.2v2.2h-2.2zM409.7 100.3h2.2v2.2h-2.2zM383.4 102.9h2.2v2.2h-2.2zM363.5 109.2h2.2v2.2h-2.2zM403.7 115.1h2.2v2.2h-2.2zM391.8 103.8h2.2v2.2h-2.2zM378.9 99.8h2.2v2.2h-2.2zM369.9 111.7h2.2v2.2h-2.2zM427.3 106.8h2.2v2.2h-2.2zM340.0 107.8h2.2v2.2h-2.2zM303.0 112.0h2.2v2.2h-2.2zM357.4 109.3h2.2v2.2h-2.2zM404.3 97.9h2.2v2.2h-2.2zM342.4 103.2h2.2v2.2h-2.2zM380.4 107.7h2.2v2.2h-2.2zM407.6 103.1h2.2v2.2h-2.2zM401.6 97.3h2.2v2.2h-2.2zM372.1 111.2h2.2v2.2h-2.2zM410.3 111.1h2.2v2.2h-2.2zM363.5 110.0h2.2v2.2h-2.2zM382.4 102.6h2.2v2.2h-2.2zM385.0 115.2h2.2v2.2h-2.2zM367.4 108.6h2.2v2.2h-2.2zM391.3 104.8h2.2v2.2h-2.2zM329.3 116.0h2.2v2.2h-2.2zM406.2 90.8h2.2v2.2h-2.2zM372.3 109.5h2.2v2.2h-2.2zM370.0 113.8h2.2v2.2h-2.2zM379.7 110.9h2.2v2.2h-2.2zM423.8 101.0h2.2v2.2h-2.2zM372.7 112.8h2.2v2.2h-2.2zM349.7 105.8h2.2v2.2h-2.2zM396.0 99.7h2.2v2.2h-2.2zM383.7 106.6h2.2v2.2h-2.2zM397.4 94.1h2.2v2.2h-2.2zM379.2 104.8h2.2v2.2h-2.2zM381.6 111.9h2.2v2.2h-2.2zM410.2 107.6h2.2v2.2h-2.2zM389.5 107.8h2.2v2.2h-2.2zM418.7 109.8h2.2v2.2h-2.2zM378.4 107.8h2.2v2.2h-2.2zM407.4 108.2h2.2v2.2h-2.2zM387.0 106.9h2.2v2.2h-2.2zM360.1 98.5h2.2v2.2h-2.2zM384.9 112.0h2.2v2.2h-2.2zM419.7 111.4h2.2v2.2h-2.2zM366.6 106.8h2.2v2.2h-2.2zM389.3 114.4h2.2v2.2h-2.2zM393.6 108.4h2.2v2.2h-2.2zM391.9 89.3h2.2v2.2h-2.2zM379.7 103.1h2.2v2.2h-2.2zM396.4 111.2h2.2v2.2h-2.2zM401.0 104.4h2.2v2.2h-2.2zM366.2 108.4h2.2v2.2h-2.2zM374.7 109.9h2.2v2.2h-2.2zM431.1 113.8h2.2v2.2h-2.2zM418.4 98.6h2.2v2.2h-2.2zM402.0 111.4h2.2v2.2h-2.2zM397.1 108.1h2.2v2.2h-2.2zM417.7 107.6h2.2v2.2h-2.2zM395.1 117.2h2.2v2.2h-2.2zM364.9 97.5h2.2v2.2h-2.2zM415.4 86.6h2.2v2.2h-2.2zM404.9 104.6h2.2v2.2h-2.2zM398.0 107.9h2.2v2.2h-2.2zM390.5 104.8h2.2v2.2h-2.2zM382.0 106.7h2.2v2.2h-2.2zM378.1 120.8h2.2v2.2h-2.2zM384.0 99.8h2.2v2.2h-2.2zM401.2 113.0h2.2v2.2h-2.2z" fill="#C49A00" fill-opacity="0.8"/>
<path d="M367.6 94.0h2.2v2.2h-2.2zM383.4 90.6h2.2v2.2h-2.2zM329.3 105.9h2.2v2.2h-2.2zM381.9 92.3h2.2v2.2h-2.2zM408.8 78.0h2.2v2.2h-2.2zM378.9 102.4h2.2v2.2h-2.2zM386.4 69.9h2.2v2.2h-2.2zM401.6 95.0h2.2v2.2h-2.2zM352.8 97.4h2.2v2.2h-2.2zM400.9 91.0h2.2v2.2h-2.2zM385.0 81.8h2.2v2.2h-2.2zM440.3 91.1h2.2v2.2h-2.2zM403.7 81.4h2.2v2.2h-2.2zM352.3 96.6h2.2v2.2h-2.2zM398.0 106.4h2.2v2.2h-2.2zM397.4 79.2h2.2v2.2h-2.2zM363.6 113.8h2.2v2.2h-2.2zM401.2 101.3h2.2v2.2h-2.2zM363.5 102.0h2.2v2.2h-2.2zM411.1 83.2h2.2v2.2h-2.2zM395.9 100.1h2.2v2.2h-2.2zM413.5 104.1h2.2v2.2h-2.2zM394.3 107.0h2.2v2.2h-2.2zM345.1 82.0h2.2v2.2h-2.2zM335.2 121.5h2.2v2.2h-2.2zM394.3 97.6h2.2v2.2h-2.2zM398.5 68.6h2.2v2.2h-2.2zM404.7 95.9h2.2v2.2h-2.2zM398.2 93.0h2.2v2.2h-2.2zM398.8 92.9h2.2v2.2h-2.2zM400.1 88.7h2.2v2.2h-2.2zM401.3 94.1h2.2v2.2h-2.2zM357.2 65.5h2.2v2.2h-2.2zM431.1 80.8h2.2v2.2h-2.2zM385.3 88.7h2.2v2.2h-2.2zM364.8 84.4h2.2v2.2h-2.2zM390.5 109.8h2.2v2.2h-2.2zM379.8 89.0h2.2v2.2h-2.2zM404.8 80.8h2.2v2.2h-2.2zM385.7 94.4h2.2v2.2h-2.2zM358.3 98.2h2.2v2.2h-2.2zM421.7 85.2h2.2v2.2h-2.2zM361.0 87.9h2.2v2.2h-2.2zM409.5 74.3h2.2v2.2h-2.2zM391.9 84.4h2.2v2.2h-2.2zM376.8 99.2h2.2v2.2h-2.2zM353.9 82.0h2.2v2.2h-2.2zM384.0 77.3h2.2v2.2h-2.2zM428.3 92.8h2.2v2.2h-2.2zM366.2 86.9h2.2v2.2h-2.2zM476.4 63.5h2.2v2.2h-2.2zM389.5 91.7h2.2v2.2h-2.2zM398.6 64.0h2.2v2.2h-2.2zM377.7 75.6h2.2v2.2h-2.2zM388.1 61.6h2.2v2.2h-2.2zM375.9 78.3h2.2v2.2h-2.2zM382.4 94.0h2.2v2.2h-2.2zM408.3 91.9h2.2v2.2h-2.2zM366.8 62.7h2.2v2.2h-2.2zM400.1 101.5h2.2v2.2h-2.2zM378.1 97.1h2.2v2.2h-2.2zM366.9 102.8h2.2v2.2h-2.2zM389.0 97.3h2.2v2.2h-2.2zM415.5 72.4h2.2v2.2h-2.2zM398.0 72.3h2.2v2.2h-2.2zM421.8 89.1h2.2v2.2h-2.2zM389.8 80.8h2.2v2.2h-2.2zM383.0 79.6h2.2v2.2h-2.2zM372.1 91.0h2.2v2.2h-2.2zM353.8 90.3h2.2v2.2h-2.2zM391.8 83.6h2.2v2.2h-2.2zM361.3 88.3h2.2v2.2h-2.2zM374.0 90.8h2.2v2.2h-2.2zM372.3 97.8h2.2v2.2h-2.2zM405.4 114.1h2.2v2.2h-2.2zM333.8 94.6h2.2v2.2h-2.2zM385.0 88.0h2.2v2.2h-2.2zM395.5 94.4h2.2v2.2h-2.2zM393.7 76.1h2.2v2.2h-2.2zM403.0 69.5h2.2v2.2h-2.2zM351.5 78.8h2.2v2.2h-2.2zM326.6 79.1h2.2v2.2h-2.2zM445.7 78.3h2.2v2.2h-2.2zM372.7 96.4h2.2v2.2h-2.2zM374.8 84.6h2.2v2.2h-2.2zM376.1 95.9h2.2v2.2h-2.2zM390.3 102.0h2.2v2.2h-2.2zM386.5 78.9h2.2v2.2h-2.2zM388.6 82.6h2.2v2.2h-2.2zM400.8 94.1h2.2v2.2h-2.2zM368.2 99.8h2.2v2.2h-2.2zM396.4 90.6h2.2v2.2h-2.2zM410.2 85.7h2.2v2.2h-2.2z" fill="#2fd29e" fill-opacity="0.8"/>
<path d="M358.2 119.2h2.2v2.2h-2.2zM419.0 98.1h2.2v2.2h-2.2zM407.4 95.7h2.2v2.2h-2.2zM388.9 100.4h2.2v2.2h-2.2zM385.3 93.6h2.2v2.2h-2.2zM399.0 87.5h2.2v2.2h-2.2zM411.7 106.7h2.2v2.2h-2.2zM389.0 117.8h2.2v2.2h-2.2zM374.8 102.1h2.2v2.2h-2.2zM393.6 111.0h2.2v2.2h-2.2zM372.3 94.7h2.2v2.2h-2.2zM347.2 109.3h2.2v2.2h-2.2zM378.8 98.1h2.2v2.2h-2.2zM392.5 98.8h2.2v2.2h-2.2zM418.5 88.1h2.2v2.2h-2.2zM368.2 98.4h2.2v2.2h-2.2zM385.0 91.0h2.2v2.2h-2.2zM476.4 112.6h2.2v2.2h-2.2zM391.8 86.3h2.2v2.2h-2.2zM423.8 101.6h2.2v2.2h-2.2zM415.4 90.9h2.2v2.2h-2.2zM361.3 124.3h2.2v2.2h-2.2zM383.4 109.5h2.2v2.2h-2.2zM348.7 129.9h2.2v2.2h-2.2zM376.5 92.1h2.2v2.2h-2.2zM384.4 101.8h2.2v2.2h-2.2zM415.0 100.8h2.2v2.2h-2.2zM391.8 96.2h2.2v2.2h-2.2zM371.4 136.0h2.2v2.2h-2.2zM400.2 100.3h2.2v2.2h-2.2zM348.5 127.5h2.2v2.2h-2.2zM341.1 116.2h2.2v2.2h-2.2zM376.3 107.3h2.2v2.2h-2.2zM395.2 100.2h2.2v2.2h-2.2zM395.9 122.6h2.2v2.2h-2.2zM371.6 113.9h2.2v2.2h-2.2zM409.4 92.5h2.2v2.2h-2.2zM382.3 119.9h2.2v2.2h-2.2zM374.7 104.6h2.2v2.2h-2.2zM353.8 116.1h2.2v2.2h-2.2zM386.4 88.9h2.2v2.2h-2.2zM361.0 106.8h2.2v2.2h-2.2zM385.7 138.4h2.2v2.2h-2.2zM366.6 95.3h2.2v2.2h-2.2zM384.1 103.0h2.2v2.2h-2.2zM360.3 115.5h2.2v2.2h-2.2zM353.2 120.5h2.2v2.2h-2.2zM408.8 105.0h2.2v2.2h-2.2zM384.9 99.5h2.2v2.2h-2.2zM411.5 81.9h2.2v2.2h-2.2zM390.1 105.9h2.2v2.2h-2.2zM343.1 144.7h2.2v2.2h-2.2zM414.4 113.4h2.2v2.2h-2.2zM401.0 106.0h2.2v2.2h-2.2zM389.9 96.0h2.2v2.2h-2.2zM389.5 105.7h2.2v2.2h-2.2zM392.8 104.6h2.2v2.2h-2.2zM385.6 101.4h2.2v2.2h-2.2zM412.9 116.9h2.2v2.2h-2.2zM384.9 109.2h2.2v2.2h-2.2zM440.4 109.2h2.2v2.2h-2.2zM402.0 122.2h2.2v2.2h-2.2zM369.8 92.1h2.2v2.2h-2.2zM335.2 116.2h2.2v2.2h-2.2zM330.3 104.4h2.2v2.2h-2.2zM353.1 114.8h2.2v2.2h-2.2zM389.8 121.3h2.2v2.2h-2.2zM418.4 93.8h2.2v2.2h-2.2zM389.5 107.6h2.2v2.2h-2.2zM364.8 118.2h2.2v2.2h-2.2zM349.7 102.0h2.2v2.2h-2.2zM365.7 109.6h2.2v2.2h-2.2zM342.7 98.4h2.2v2.2h-2.2zM416.0 98.6h2.2v2.2h-2.2zM420.5 89.4h2.2v2.2h-2.2zM384.0 109.4h2.2v2.2h-2.2zM384.4 104.7h2.2v2.2h-2.2zM373.8 123.5h2.2v2.2h-2.2zM403.4 97.5h2.2v2.2h-2.2zM382.4 110.3h2.2v2.2h-2.2zM398.6 120.2h2.2v2.2h-2.2zM358.3 122.7h2.2v2.2h-2.2z" fill="#FB61D7" fill-opacity="0.8"/>
<path d="M409.7 95.4h2.2v2.2h-2.2zM401.7 110.5h2.2v2.2h-2.2zM325.6 110.7h2.2v2.2h-2.2zM364.9 94.3h2.2v2.2h-2.2zM415.0 92.0h2.2v2.2h-2.2zM404.7 103.1h2.2v2.2h-2.2zM372.9 108.0h2.2v2.2h-2.2zM366.2 115.1h2.2v2.2h-2.2zM424.6 95.1h2.2v2.2h-2.2zM369.9 110.6h2.2v2.2h-2.2zM379.8 90.4h2.2v2.2h-2.2zM372.3 102.2h2.2v2.2h-2.2zM414.5 91.3h2.2v2.2h-2.2zM408.8 99.3h2.2v2.2h-2.2zM394.5 97.9h2.2v2.2h-2.2zM387.3 106.9h2.2v2.2h-2.2zM374.0 104.2h2.2v2.2h-2.2zM382.3 101.8h2.2v2.2h-2.2zM403.7 100.5h2.2v2.2h-2.2zM384.9 110.8h2.2v2.2h-2.2zM426.2 98.8h2.2v2.2h-2.2zM384.4 104.5h2.2v2.2h-2.2zM381.6 102.7h2.2v2.2h-2.2zM406.9 99.5h2.2v2.2h-2.2zM349.7 113.3h2.2v2.2h-2.2zM373.8 100.6h2.2v2.2h-2.2zM374.8 105.7h2.2v2.2h-2.2zM422.2 103.1h2.2v2.2h-2.2zM405.1 98.5h2.2v2.2h-2.2zM395.9 99.9h2.2v2.2h-2.2zM386.1 102.1h2.2v2.2h-2.2zM371.6 102.2h2.2v2.2h-2.2zM374.0 101.7h2.2v2.2h-2.2zM408.8 82.8h2.2v2.2h-2.2zM393.6 101.7h2.2v2.2h-2.2zM358.9 112.9h2.2v2.2h-2.2zM389.5 116.2h2.2v2.2h-2.2zM392.8 99.2h2.2v2.2h-2.2zM407.4 107.3h2.2v2.2h-2.2zM366.5 96.6h2.2v2.2h-2.2zM371.6 101.7h2.2v2.2h-2.2zM393.6 104.2h2.2v2.2h-2.2zM403.4 104.5h2.2v2.2h-2.2zM409.5 100.8h2.2v2.2h-2.2zM391.8 99.9h2.2v2.2h-2.2zM352.8 114.6h2.2v2.2h-2.2zM412.9 100.2h2.2v2.2h-2.2zM353.6 108.4h2.2v2.2h-2.2zM348.5 113.7h2.2v2.2h-2.2zM408.3 97.6h2.2v2.2h-2.2zM400.2 104.9h2.2v2.2h-2.2zM368.8 116.6h2.2v2.2h-2.2zM383.0 99.0h2.2v2.2h-2.2zM410.2 100.2h2.2v2.2h-2.2zM380.2 104.6h2.2v2.2h-2.2zM368.4 103.6h2.2v2.2h-2.2zM400.2 106.5h2.2v2.2h-2.2zM390.3 88.7h2.2v2.2h-2.2zM376.3 104.8h2.2v2.2h-2.2zM406.4 97.3h2.2v2.2h-2.2zM392.9 93.1h2.2v2.2h-2.2zM343.1 113.5h2.2v2.2h-2.2zM398.0 105.2h2.2v2.2h-2.2zM421.7 86.6h2.2v2.2h-2.2zM386.1 110.2h2.2v2.2h-2.2zM361.0 103.2h2.2v2.2h-2.2zM372.1 101.0h2.2v2.2h-2.2zM409.5 100.3h2.2v2.2h-2.2zM395.1 99.2h2.2v2.2h-2.2zM385.3 100.1h2.2v2.2h-2.2zM418.4 101.9h2.2v2.2h-2.2zM360.8 99.9h2.2v2.2h-2.2zM389.8 98.7h2.2v2.2h-2.2zM404.8 90.6h2.2v2.2h-2.2zM353.9 109.4h2.2v2.2h-2.2zM409.4 96.3h2.2v2.2h-2.2zM344.1 106.7h2.2v2.2h-2.2zM395.2 101.9h2.2v2.2h-2.2zM406.3 90.5h2.2v2.2h-2.2zM404.6 89.4h2.2v2.2h-2.2zM303.0 109.5h2.2v2.2h-2.2z" fill="#F8766D" fill-opacity="0.8"/>
<path d="M402.0 108.4h2.2v2.2h-2.2zM389.5 97.7h2.2v2.2h-2.2zM404.0 99.1h2.2v2.2h-2.2zM389.3 102.2h2.2v2.2h-2.2zM373.8 115.0h2.2v2.2h-2.2zM414.5 98.2h2.2v2.2h-2.2zM358.2 113.8h2.2v2.2h-2.2zM389.9 113.2h2.2v2.2h-2.2zM385.3 99.4h2.2v2.2h-2.2zM351.5 109.3h2.2v2.2h-2.2zM341.1 101.2h2.2v2.2h-2.2zM422.2 95.3h2.2v2.2h-2.2zM390.1 97.0h2.2v2.2h-2.2zM418.5 120.3h2.2v2.2h-2.2zM330.3 99.2h2.2v2.2h-2.2zM398.2 108.4h2.2v2.2h-2.2zM387.0 104.5h2.2v2.2h-2.2zM393.6 108.7h2.2v2.2h-2.2zM418.4 108.8h2.2v2.2h-2.2zM400.2 106.2h2.2v2.2h-2.2zM390.6 99.1h2.2v2.2h-2.2zM391.8 92.7h2.2v2.2h-2.2zM392.8 92.3h2.2v2.2h-2.2zM404.9 98.2h2.2v2.2h-2.2zM401.0 112.9h2.2v2.2h-2.2zM358.1 102.2h2.2v2.2h-2.2zM397.6 114.0h2.2v2.2h-2.2zM375.9 97.7h2.2v2.2h-2.2zM397.9 100.3h2.2v2.2h-2.2zM376.4 99.1h2.2v2.2h-2.2zM380.2 114.7h2.2v2.2h-2.2zM366.5 95.5h2.2v2.2h-2.2zM374.7 112.1h2.2v2.2h-2.2zM403.7 99.3h2.2v2.2h-2.2zM408.1 104.5h2.2v2.2h-2.2zM353.8 113.2h2.2v2.2h-2.2zM384.4 104.6h2.2v2.2h-2.2zM394.3 87.7h2.2v2.2h-2.2zM369.9 107.1h2.2v2.2h-2.2zM358.3 92.2h2.2v2.2h-2.2zM395.1 104.5h2.2v2.2h-2.2zM382.4 99.8h2.2v2.2h-2.2zM419.5 95.1h2.2v2.2h-2.2zM395.1 100.6h2.2v2.2h-2.2zM361.0 104.0h2.2v2.2h-2.2zM372.8 101.9h2.2v2.2h-2.2zM400.4 94.8h2.2v2.2h-2.2zM409.5 95.1h2.2v2.2h-2.2zM398.5 98.2h2.2v2.2h-2.2zM353.1 103.7h2.2v2.2h-2.2zM336.7 99.5h2.2v2.2h-2.2zM377.7 97.6h2.2v2.2h-2.2zM421.7 110.6h2.2v2.2h-2.2zM391.8 101.9h2.2v2.2h-2.2zM361.4 109.7h2.2v2.2h-2.2zM401.7 111.5h2.2v2.2h-2.2zM424.6 96.6h2.2v2.2h-2.2zM363.5 109.6h2.2v2.2h-2.2zM366.8 106.5h2.2v2.2h-2.2zM384.0 115.7h2.2v2.2h-2.2zM383.0 91.8h2.2v2.2h-2.2zM407.4 91.2h2.2v2.2h-2.2zM422.2 112.3h2.2v2.2h-2.2zM371.6 102.0h2.2v2.2h-2.2zM379.8 112.0h2.2v2.2h-2.2zM406.4 99.5h2.2v2.2h-2.2zM406.7 98.2h2.2v2.2h-2.2zM440.3 120.3h2.2v2.2h-2.2zM354.1 107.4h2.2v2.2h-2.2zM400.6 98.3h2.2v2.2h-2.2zM393.2 114.4h2.2v2.2h-2.2zM391.9 119.0h2.2v2.2h-2.2zM384.9 120.8h2.2v2.2h-2.2zM389.8 103.6h2.2v2.2h-2.2zM349.7 103.2h2.2v2.2h-2.2zM391.7 104.8h2.2v2.2h-2.2zM303.0 102.8h2.2v2.2h-2.2zM400.0 113.1h2.2v2.2h-2.2zM428.3 90.4h2.2v2.2h-2.2z" fill="#00B6EB" fill-opacity="0.8"/>
<path d="M389.9 92.4h2.2v2.2h-2.2zM365.5 102.9h2.2v2.2h-2.2zM408.1 98.5h2.2v2.2h-2.2zM380.4 83.4h2.2v2.2h-2.2zM409.0 69.6h2.2v2.2h-2.2zM410.7 73.1h2.2v2.2h-2.2zM384.4 84.5h2.2v2.2h-2.2zM399.1 78.7h2.2v2.2h-2.2zM353.6 96.6h2.2v2.2h-2.2zM372.9 76.7h2.2v2.2h-2.2zM402.0 65.5h2.2v2.2h-2.2zM387.4 87.1h2.2v2.2h-2.2zM394.5 83.1h2.2v2.2h-2.2zM349.3 98.7h2.2v2.2h-2.2zM303.7 99.8h2.2v2.2h-2.2zM364.9 87.6h2.2v2.2h-2.2zM395.9 81.3h2.2v2.2h-2.2zM406.2 80.3h2.2v2.2h-2.2zM376.3 62.6h2.2v2.2h-2.2zM393.6 83.6h2.2v2.2h-2.2zM330.3 105.3h2.2v2.2h-2.2zM373.0 95.0h2.2v2.2h-2.2zM358.9 69.9h2.2v2.2h-2.2zM391.8 87.0h2.2v2.2h-2.2zM393.2 110.1h2.2v2.2h-2.2zM422.2 64.5h2.2v2.2h-2.2zM382.3 98.7h2.2v2.2h-2.2zM395.2 88.7h2.2v2.2h-2.2zM367.4 70.7h2.2v2.2h-2.2zM382.3 100.3h2.2v2.2h-2.2zM363.7 107.1h2.2v2.2h-2.2zM379.3 75.9h2.2v2.2h-2.2zM354.1 111.4h2.2v2.2h-2.2zM386.4 82.3h2.2v2.2h-2.2zM418.4 85.5h2.2v2.2h-2.2zM368.4 109.6h2.2v2.2h-2.2zM405.4 97.6h2.2v2.2h-2.2zM404.9 82.2h2.2v2.2h-2.2zM366.6 96.0h2.2v2.2h-2.2zM381.3 77.1h2.2v2.2h-2.2zM341.5 95.2h2.2v2.2h-2.2zM399.2 71.9h2.2v2.2h-2.2zM372.8 109.6h2.2v2.2h-2.2zM414.9 74.3h2.2v2.2h-2.2zM357.4 91.5h2.2v2.2h-2.2zM419.5 78.1h2.2v2.2h-2.2zM378.5 88.1h2.2v2.2h-2.2zM423.8 79.5h2.2v2.2h-2.2zM404.3 89.8h2.2v2.2h-2.2zM408.8 98.9h2.2v2.2h-2.2zM389.1 98.3h2.2v2.2h-2.2zM419.6 93.4h2.2v2.2h-2.2zM410.3 93.4h2.2v2.2h-2.2zM379.7 98.0h2.2v2.2h-2.2zM390.1 93.5h2.2v2.2h-2.2zM440.4 71.8h2.2v2.2h-2.2zM391.3 82.5h2.2v2.2h-2.2zM360.1 85.3h2.2v2.2h-2.2zM405.1 80.1h2.2v2.2h-2.2zM384.2 79.0h2.2v2.2h-2.2zM404.0 88.5h2.2v2.2h-2.2zM407.4 87.0h2.2v2.2h-2.2zM395.3 87.6h2.2v2.2h-2.2zM391.9 102.1h2.2v2.2h-2.2zM389.3 87.9h2.2v2.2h-2.2zM378.4 81.5h2.2v2.2h-2.2zM328.6 77.7h2.2v2.2h-2.2zM420.5 87.0h2.2v2.2h-2.2zM394.9 99.3h2.2v2.2h-2.2zM405.9 87.6h2.2v2.2h-2.2zM418.7 78.3h2.2v2.2h-2.2zM372.5 88.3h2.2v2.2h-2.2zM406.9 73.2h2.2v2.2h-2.2zM375.5 95.3h2.2v2.2h-2.2zM383.7 54.5h2.2v2.2h-2.2zM384.0 104.6h2.2v2.2h-2.2zM409.1 63.6h2.2v2.2h-2.2zM365.7 102.0h2.2v2.2h-2.2zM400.4 66.4h2.2v2.2h-2.2zM407.6 81.5h2.2v2.2h-2.2zM347.5 100.0h2.2v2.2h-2.2z" fill="#2fd29e" fill-opacity="0.8"/>
<path d="M381.3 179.5h2.2v2.2h-2.2zM400.1 182.2h2.2v2.2h-2.2zM391.6 178.0h2.2v2.2h-2.2zM382.4 180.1h2.2v2.2h-2.2zM342.7 180.5h2.2v2.2h-2.2zM419.5 180.0h2.2v2.2h-2.2zM400.5 179.1h2.2v2.2h-2.2zM398.6 180.4h2.2v2.2h-2.2zM379.8 181.0h2.2v2.2h-2.2zM342.5 182.2h2.2v2.2h-2.2zM414.5 181.0h2.2v2.2h-2.2zM411.1 182.0h2.2v2.2h-2.2zM398.0 174.5h2.2v2.2h-2.2zM391.7 174.7h2.2v2.2h-2.2zM380.4 183.5h2.2v2.2h-2.2zM384.4 180.0h2.2v2.2h-2.2zM376.1 179.2h2.2v2.2h-2.2zM382.3 169.3h2.2v2.2h-2.2zM406.9 180.3h2.2v2.2h-2.2zM407.4 171.6h2.2v2.2h-2.2zM404.9 178.2h2.2v2.2h-2.2zM423.8 177.3h2.2v2.2h-2.2zM385.6 180.3h2.2v2.2h-2.2zM415.0 181.7h2.2v2.2h-2.2zM358.1 177.4h2.2v2.2h-2.2zM374.5 175.5h2.2v2.2h-2.2zM303.7 178.6h2.2v2.2h-2.2zM404.8 181.9h2.2v2.2h-2.2zM353.6 178.8h2.2v2.2h-2.2zM393.6 175.3h2.2v2.2h-2.2zM400.6 178.8h2.2v2.2h-2.2zM353.9 177.9h2.2v2.2h-2.2zM410.3 182.0h2.2v2.2h-2.2zM379.2 179.9h2.2v2.2h-2.2zM394.4 179.9h2.2v2.2h-2.2zM402.5 182.1h2.2v2.2h-2.2zM414.9 182.0h2.2v2.2h-2.2zM384.2 180.8h2.2v2.2h-2.2zM360.1 179.6h2.2v2.2h-2.2zM400.8 179.5h2.2v2.2h-2.2zM376.3 172.0h2.2v2.2h-2.2zM416.0 181.2h2.2v2.2h-2.2zM396.4 182.2h2.2v2.2h-2.2zM351.4 182.2h2.2v2.2h-2.2zM389.5 180.4h2.2v2.2h-2.2zM409.7 180.9h2.2v2.2h-2.2zM391.3 180.0h2.2v2.2h-2.2zM422.2 179.8h2.2v2.2h-2.2zM408.3 180.1h2.2v2.2h-2.2zM352.8 181.1h2.2v2.2h-2.2zM395.9 179.2h2.2v2.2h-2.2zM360.3 182.2h2.2v2.2h-2.2zM415.5 184.6h2.2v2.2h-2.2zM378.7 177.2h2.2v2.2h-2.2zM401.7 179.8h2.2v2.2h-2.2zM377.1 170.4h2.2v2.2h-2.2zM404.6 181.1h2.2v2.2h-2.2zM353.1 181.4h2.2v2.2h-2.2zM415.9 182.7h2.2v2.2h-2.2zM385.0 181.2h2.2v2.2h-2.2zM343.1 179.4h2.2v2.2h-2.2zM411.9 180.6h2.2v2.2h-2.2zM366.6 173.6h2.2v2.2h-2.2zM417.6 181.6h2.2v2.2h-2.2zM426.2 178.4h2.2v2.2h-2.2zM382.1 169.5h2.2v2.2h-2.2zM396.0 172.6h2.2v2.2h-2.2zM376.4 180.3h2.2v2.2h-2.2zM371.4 184.2h2.2v2.2h-2.2zM410.2 178.4h2.2v2.2h-2.2zM341.1 168.5h2.2v2.2h-2.2zM397.4 178.7h2.2v2.2h-2.2zM390.3 182.1h2.2v2.2h-2.2zM366.5 179.5h2.2v2.2h-2.2zM394.9 183.4h2.2v2.2h-2.2zM360.1 180.3h2.2v2.2h-2.2zM400.4 174.1h2.2v2.2h-2.2zM354.1 180.3h2.2v2.2h-2.2zM372.8 183.7h2.2v2.2h-2.2zM366.2 179.2h2.2v2.2h-2.2zM358.3 179.8h2.2v2.2h-2.2zM369.8 181.9h2.2v2.2h-2.2zM342.4 160.5h2.2v2.2h-2.2zM372.1 182.1h2.2v2.2h-2.2zM362.2 170.5h2.2v2.2h-2.2zM405.9 179.4h2.2v2.2h-2.2z" fill="#A58AFF" fill-opacity="0.8"/>
<path d="M400.1 106.9h2.2v2.2h-2.2zM395.2 113.8h2.2v2.2h-2.2zM404.6 99.6h2.2v2.2h-2.2zM363.7 103.5h2.2v2.2h-2.2zM348.5 112.9h2.2v2.2h-2.2zM397.6 110.8h2.2v2.2h-2.2zM303.7 99.6h2.2v2.2h-2.2zM406.4 107.9h2.2v2.2h-2.2zM447.5 104.9h2.2v2.2h-2.2zM352.4 104.6h2.2v2.2h-2.2zM365.5 111.3h2.2v2.2h-2.2zM377.1 111.8h2.2v2.2h-2.2zM385.6 113.3h2.2v2.2h-2.2zM344.1 116.2h2.2v2.2h-2.2zM408.1 103.1h2.2v2.2h-2.2zM394.4 90.7h2.2v2.2h-2.2zM393.6 103.6h2.2v2.2h-2.2zM412.9 103.9h2.2v2.2h-2.2zM408.6 105.3h2.2v2.2h-2.2zM342.5 110.0h2.2v2.2h-2.2zM394.0 108.9h2.2v2.2h-2.2zM360.1 111.3h2.2v2.2h-2.2zM378.7 104.5h2.2v2.2h-2.2zM372.1 105.0h2.2v2.2h-2.2zM414.9 107.3h2.2v2.2h-2.2zM419.5 91.6h2.2v2.2h-2.2zM393.6 101.6h2.2v2.2h-2.2zM399.0 104.0h2.2v2.2h-2.2zM358.3 110.6h2.2v2.2h-2.2zM344.6 104.4h2.2v2.2h-2.2zM393.2 110.0h2.2v2.2h-2.2zM392.9 108.5h2.2v2.2h-2.2zM395.8 100.7h2.2v2.2h-2.2zM325.6 108.6h2.2v2.2h-2.2zM389.9 94.8h2.2v2.2h-2.2zM371.6 111.7h2.2v2.2h-2.2zM353.2 101.9h2.2v2.2h-2.2zM375.9 105.6h2.2v2.2h-2.2zM382.1 100.3h2.2v2.2h-2.2zM404.8 130.2h2.2v2.2h-2.2zM365.7 101.1h2.2v2.2h-2.2zM376.1 102.2h2.2v2.2h-2.2zM374.0 113.1h2.2v2.2h-2.2zM361.3 106.6h2.2v2.2h-2.2zM403.0 101.1h2.2v2.2h-2.2zM381.9 100.2h2.2v2.2h-2.2zM410.9 116.6h2.2v2.2h-2.2zM343.1 107.8h2.2v2.2h-2.2zM417.6 101.1h2.2v2.2h-2.2zM418.1 105.8h2.2v2.2h-2.2zM383.0 95.2h2.2v2.2h-2.2zM374.0 98.7h2.2v2.2h-2.2zM376.8 91.0h2.2v2.2h-2.2zM405.9 99.5h2.2v2.2h-2.2zM407.4 97.5h2.2v2.2h-2.2zM400.5 123.7h2.2v2.2h-2.2zM411.1 104.9h2.2v2.2h-2.2zM389.0 94.3h2.2v2.2h-2.2zM391.8 98.8h2.2v2.2h-2.2zM386.1 106.7h2.2v2.2h-2.2zM395.9 122.0h2.2v2.2h-2.2zM376.4 111.3h2.2v2.2h-2.2zM398.8 107.8h2.2v2.2h-2.2zM415.0 106.5h2.2v2.2h-2.2zM383.0 103.1h2.2v2.2h-2.2zM409.5 117.6h2.2v2.2h-2.2zM428.3 106.9h2.2v2.2h-2.2zM405.4 105.5h2.2v2.2h-2.2zM330.3 98.1h2.2v2.2h-2.2zM374.8 105.6h2.2v2.2h-2.2zM386.4 108.2h2.2v2.2h-2.2zM398.1 105.4h2.2v2.2h-2.2zM409.1 100.7h2.2v2.2h-2.2zM395.9 101.7h2.2v2.2h-2.2zM392.8 114.4h2.2v2.2h-2.2zM353.6 111.5h2.2v2.2h-2.2zM400.4 110.7h2.2v2.2h-2.2zM379.3 109.2h2.2v2.2h-2.2zM328.6 107.6h2.2v2.2h-2.2zM406.9 102.6h2.2v2.2h-2.2zM366.5 104.1h2.2v2.2h-2.2zM351.4 107.5h2.2v2.2h-2.2zM419.5 96.6h2.2v2.2h-2.2zM394.3 111.1h2.2v2.2h-2.2zM382.3 100.7h2.2v2.2h-2.2z" fill="#C49A00" fill-opacity="0.8"/>
<path d="M405.9 118.7h2.2v2.2h-2.2zM419.5 100.2h2.2v2.2h-2.2zM395.1 108.0h2.2v2.2h-2.2zM366.9 122.3h2.2v2.2h-2.2zM400.4 129.3h2.2v2.2h-2.2zM406.4 106.3h2.2v2.2h-2.2zM409.5 105.1h2.2v2.2h-2.2zM391.9 104.3h2.2v2.2h-2.2zM421.8 101.6h2.2v2.2h-2.2zM440.3 99.4h2.2v2.2h-2.2zM384.9 104.2h2.2v2.2h-2.2zM400.2 125.6h2.2v2.2h-2.2zM365.7 117.5h2.2v2.2h-2.2zM382.3 115.0h2.2v2.2h-2.2zM405.4 96.1h2.2v2.2h-2.2zM386.1 121.3h2.2v2.2h-2.2zM428.3 135.6h2.2v2.2h-2.2zM303.7 121.7h2.2v2.2h-2.2zM373.8 114.8h2.2v2.2h-2.2zM392.6 122.2h2.2v2.2h-2.2zM381.9 122.8h2.2v2.2h-2.2zM391.3 108.7h2.2v2.2h-2.2zM419.6 105.6h2.2v2.2h-2.2zM346.0 122.4h2.2v2.2h-2.2zM347.2 141.7h2.2v2.2h-2.2zM375.9 140.9h2.2v2.2h-2.2zM431.1 102.4h2.2v2.2h-2.2zM403.0 119.9h2.2v2.2h-2.2zM418.5 136.2h2.2v2.2h-2.2zM366.6 117.7h2.2v2.2h-2.2zM401.2 110.1h2.2v2.2h-2.2zM405.5 120.5h2.2v2.2h-2.2zM352.3 98.5h2.2v2.2h-2.2zM358.9 102.7h2.2v2.2h-2.2zM372.9 130.9h2.2v2.2h-2.2zM368.2 107.1h2.2v2.2h-2.2zM378.7 96.0h2.2v2.2h-2.2zM353.8 139.7h2.2v2.2h-2.2zM381.6 114.0h2.2v2.2h-2.2zM378.9 91.4h2.2v2.2h-2.2zM366.3 112.1h2.2v2.2h-2.2zM363.5 122.6h2.2v2.2h-2.2zM386.4 99.8h2.2v2.2h-2.2zM419.5 109.5h2.2v2.2h-2.2zM407.4 107.3h2.2v2.2h-2.2zM396.0 134.3h2.2v2.2h-2.2zM374.5 147.8h2.2v2.2h-2.2zM326.6 140.5h2.2v2.2h-2.2zM389.5 94.0h2.2v2.2h-2.2zM394.4 138.0h2.2v2.2h-2.2zM382.1 100.8h2.2v2.2h-2.2zM344.1 139.1h2.2v2.2h-2.2zM400.9 102.3h2.2v2.2h-2.2zM360.1 134.9h2.2v2.2h-2.2zM394.9 122.3h2.2v2.2h-2.2zM400.0 93.2h2.2v2.2h-2.2zM368.8 117.3h2.2v2.2h-2.2zM409.4 86.9h2.2v2.2h-2.2zM303.0 121.5h2.2v2.2h-2.2zM410.9 130.5h2.2v2.2h-2.2zM476.4 112.2h2.2v2.2h-2.2zM398.0 123.8h2.2v2.2h-2.2zM411.5 108.8h2.2v2.2h-2.2zM343.1 134.0h2.2v2.2h-2.2zM353.1 125.5h2.2v2.2h-2.2zM342.5 106.4h2.2v2.2h-2.2zM374.0 125.9h2.2v2.2h-2.2zM400.1 115.6h2.2v2.2h-2.2zM445.7 125.2h2.2v2.2h-2.2zM354.1 121.7h2.2v2.2h-2.2zM399.2 109.2h2.2v2.2h-2.2zM383.7 104.3h2.2v2.2h-2.2zM391.8 139.6h2.2v2.2h-2.2zM427.3 107.5h2.2v2.2h-2.2zM347.5 102.6h2.2v2.2h-2.2zM424.6 92.6h2.2v2.2h-2.2zM409.4 100.9h2.2v2.2h-2.2zM383.0 124.5h2.2v2.2h-2.2zM390.3 105.2h2.2v2.2h-2.2zM375.9 120.6h2.2v2.2h-2.2zM367.6 95.9h2.2v2.2h-2.2zM376.5 119.9h2.2v2.2h-2.2zM415.5 88.0h2.2v2.2h-2.2zM392.5 140.9h2.2v2.2h-2.2zM387.0 110.3h2.2v2.2h-2.2zM411.9 111.4h2.2v2.2h-2.2zM369.9 121.8h2.2v2.2h-2.2zM413.0 104.9h2.2v2.2h-2.2zM403.4 94.4h2.2v2.2h-2.2zM394.0 124.0h2.2v2.2h-2.2zM377.7 113.1h2.2v2.2h-2.2zM378.8 130.6h2.2v2.2h-2.2zM336.7 118.6h2.2v2.2h-2.2zM411.1 124.4h2.2v2.2h-2.2zM379.2 116.9h2.2v2.2h-2.2zM344.6 110.0h2.2v2.2h-2.2zM391.7 103.7h2.2v2.2h-2.2zM380.4 101.3h2.2v2.2h-2.2z" fill="#53B400" fill-opacity="0.8"/>
<path d="M389.1 110.2h2.2v2.2h-2.2zM388.1 96.9h2.2v2.2h-2.2zM440.3 102.6h2.2v2.2h-2.2zM382.3 129.7h2.2v2.2h-2.2zM378.9 112.9h2.2v2.2h-2.2zM357.4 125.0h2.2v2.2h-2.2zM379.8 120.4h2.2v2.2h-2.2zM400.5 104.8h2.2v2.2h-2.2zM386.5 109.5h2.2v2.2h-2.2zM394.3 122.2h2.2v2.2h-2.2zM421.1 81.0h2.2v2.2h-2.2zM410.9 107.9h2.2v2.2h-2.2zM360.1 106.9h2.2v2.2h-2.2zM378.4 121.0h2.2v2.2h-2.2zM406.4 95.9h2.2v2.2h-2.2zM400.1 124.3h2.2v2.2h-2.2zM372.5 90.3h2.2v2.2h-2.2zM390.3 113.3h2.2v2.2h-2.2zM409.5 102.7h2.2v2.2h-2.2zM394.9 110.7h2.2v2.2h-2.2zM393.6 103.9h2.2v2.2h-2.2zM391.7 101.8h2.2v2.2h-2.2zM389.0 102.0h2.2v2.2h-2.2zM415.5 96.8h2.2v2.2h-2.2zM394.3 109.6h2.2v2.2h-2.2zM380.2 93.5h2.2v2.2h-2.2zM343.1 110.8h2.2v2.2h-2.2zM303.0 117.2h2.2v2.2h-2.2zM375.9 106.6h2.2v2.2h-2.2zM365.7 105.4h2.2v2.2h-2.2zM395.5 104.2h2.2v2.2h-2.2zM404.9 101.7h2.2v2.2h-2.2zM388.6 105.7h2.2v2.2h-2.2zM397.9 93.6h2.2v2.2h-2.2zM431.1 114.5h2.2v2.2h-2.2zM398.0 86.9h2.2v2.2h-2.2zM372.1 86.7h2.2v2.2h-2.2zM408.3 87.5h2.2v2.2h-2.2zM384.2 97.2h2.2v2.2h-2.2zM379.2 113.7h2.2v2.2h-2.2zM395.1 81.7h2.2v2.2h-2.2zM408.1 113.2h2.2v2.2h-2.2zM424.6 112.5h2.2v2.2h-2.2zM374.5 109.4h2.2v2.2h-2.2zM421.7 89.1h2.2v2.2h-2.2zM366.2 101.6h2.2v2.2h-2.2zM398.0 120.3h2.2v2.2h-2.2zM386.1 107.8h2.2v2.2h-2.2zM406.2 105.1h2.2v2.2h-2.2zM342.4 103.3h2.2v2.2h-2.2zM382.4 96.5h2.2v2.2h-2.2zM378.1 115.0h2.2v2.2h-2.2zM386.1 102.1h2.2v2.2h-2.2zM372.1 110.4h2.2v2.2h-2.2zM409.5 114.6h2.2v2.2h-2.2zM376.4 118.5h2.2v2.2h-2.2zM366.5 85.8h2.2v2.2h-2.2zM400.9 97.4h2.2v2.2h-2.2zM381.6 83.8h2.2v2.2h-2.2zM396.4 103.9h2.2v2.2h-2.2zM407.6 105.6h2.2v2.2h-2.2zM367.6 110.7h2.2v2.2h-2.2zM357.2 114.8h2.2v2.2h-2.2zM407.4 105.4h2.2v2.2h-2.2zM366.8 107.9h2.2v2.2h-2.2zM404.8 92.2h2.2v2.2h-2.2zM417.7 94.5h2.2v2.2h-2.2zM393.7 116.3h2.2v2.2h-2.2zM379.7 138.9h2.2v2.2h-2.2zM396.8 91.2h2.2v2.2h-2.2zM400.2 109.6h2.2v2.2h-2.2zM401.3 112.0h2.2v2.2h-2.2zM407.6 101.7h2.2v2.2h-2.2zM403.0 114.2h2.2v2.2h-2.2zM352.3 119.2h2.2v2.2h-2.2zM421.8 111.6h2.2v2.2h-2.2zM397.1 96.9h2.2v2.2h-2.2zM360.1 114.9h2.2v2.2h-2.2zM391.6 120.5h2.2v2.2h-2.2zM370.7 106.4h2.2v2.2h-2.2zM376.1 87.8h2.2v2.2h-2.2zM344.6 120.6h2.2v2.2h-2.2zM411.1 112.0h2.2v2.2h-2.2zM400.1 103.1h2.2v2.2h-2.2zM336.7 113.9h2.2v2.2h-2.2z" fill="#FB61D7" fill-opacity="0.8"/>
<line x1="304.14" y1="118.36" x2="477.45" y2="88.57" stroke="#F8766D" stroke-width="1.3" stroke-linecap="butt"/>
<line x1="304.14" y1="110.59" x2="477.45" y2="104.11" stroke="#C49A00" stroke-width="1.3" stroke-linecap="butt"/>
<line x1="304.14" y1="125.48" x2="477.45" y2="106.70" stroke="#53B400" stroke-width="1.3" stroke-linecap="butt"/>
<line x1="304.14" y1="94.40" x2="477.45" y2="83.39" stroke="#2fd29e" stroke-width="1.3" stroke-linecap="butt"/>
<line x1="304.14" y1="108.00" x2="477.45" y2="103.46" stroke="#00B6EB" stroke-width="1.3" stroke-linecap="butt"/>
<line x1="304.14" y1="176.63" x2="477.45" y2="178.57" stroke="#A58AFF" stroke-width="1.3" stroke-linecap="butt"/>
<line x1="304.14" y1="120.30" x2="477.45" y2="92.46" stroke="#FB61D7" stroke-width="1.3" stroke-linecap="butt"/>
<line x1="289.20" y1="47.30" x2="289.20" y2="189.80" stroke="#222" stroke-width="1.0" stroke-linecap="butt"/>
<line x1="288.70" y1="189.30" x2="487.00" y2="189.30" stroke="#222" stroke-width="1.0" stroke-linecap="butt"/>
<line x1="287.00" y1="184.40" x2="289.20" y2="184.40" stroke="#222" stroke-width="0.8" stroke-linecap="butt"/>
<text x="285.60" y="186.91" font-size="7.0" text-anchor="end" fill="#222">0.0</text>
<line x1="287.00" y1="152.03" x2="289.20" y2="152.03" stroke="#222" stroke-width="0.8" stroke-linecap="butt"/>
<text x="285.60" y="154.53" font-size="7.0" text-anchor="end" fill="#222">2.5</text>
<line x1="287.00" y1="119.65" x2="289.20" y2="119.65" stroke="#222" stroke-width="0.8" stroke-linecap="butt"/>
<text x="285.60" y="122.16" font-size="7.0" text-anchor="end" fill="#222">5.0</text>
<line x1="287.00" y1="87.28" x2="289.20" y2="87.28" stroke="#222" stroke-width="0.8" stroke-linecap="butt"/>
<text x="285.60" y="89.78" font-size="7.0" text-anchor="end" fill="#222">7.5</text>
<line x1="287.00" y1="54.90" x2="289.20" y2="54.90" stroke="#222" stroke-width="0.8" stroke-linecap="butt"/>
<text x="285.60" y="57.41" font-size="7.0" text-anchor="end" fill="#222">10.0</text>
<line x1="326.40" y1="189.30" x2="326.40" y2="191.60" stroke="#222" stroke-width="0.8" stroke-linecap="butt"/>
<text x="326.40" y="198.71" font-size="7.0" text-anchor="middle" fill="#222">2</text>
<line x1="390.00" y1="189.30" x2="390.00" y2="191.60" stroke="#222" stroke-width="0.8" stroke-linecap="butt"/>
<text x="390.00" y="198.71" font-size="7.0" text-anchor="middle" fill="#222">4</text>
<line x1="453.60" y1="189.30" x2="453.60" y2="191.60" stroke="#222" stroke-width="0.8" stroke-linecap="butt"/>
<text x="453.60" y="198.71" font-size="7.0" text-anchor="middle" fill="#222">6</text>
<text x="390.00" y="213.99" font-size="11.7" text-anchor="middle" fill="#111">ALDH3A2 expression</text>
<text x="262.20" y="122.19" font-size="11.7" text-anchor="middle" fill="#111" transform="rotate(-90 262.20 118.00)">TFs expression</text>
<line x1="494.60" y1="37.10" x2="685.00" y2="37.10" stroke="#444" stroke-width="0.9" stroke-linecap="butt"/>
<line x1="494.60" y1="56.40" x2="685.00" y2="56.40" stroke="#444" stroke-width="0.9" stroke-linecap="butt"/>
<line x1="494.60" y1="189.90" x2="685.00" y2="189.90" stroke="#222" stroke-width="1.1" stroke-linecap="butt"/>
<text x="518.30" y="50.39" font-size="8.9" text-anchor="middle" fill="#111" font-family="Liberation Serif" font-weight="bold">TFs</text>
<text x="584.30" y="50.39" font-size="8.9" text-anchor="middle" fill="#111" font-family="Liberation Serif" font-weight="bold">R (with ALDH3A2)</text>
<text x="655.20" y="50.39" font-size="8.9" text-anchor="middle" fill="#111" font-family="Liberation Serif" font-weight="bold">p.val</text>
<text x="518.30" y="70.42" font-size="9" text-anchor="middle" fill="#F8766D" font-family="Liberation Serif">NRF2</text>
<text x="581.50" y="70.42" font-size="9" text-anchor="middle" fill="#e8272d" font-family="Liberation Serif">0.55</text>
<text x="653.30" y="70.42" font-size="9" text-anchor="middle" fill="#e8272d" font-family="Liberation Serif">1.415e-30</text>
<text x="518.30" y="89.20" font-size="9" text-anchor="middle" fill="#FB61D7" font-family="Liberation Serif">MYC</text>
<text x="581.50" y="89.20" font-size="9" text-anchor="middle" fill="#111" font-family="Liberation Serif">0.27</text>
<text x="653.30" y="89.20" font-size="9" text-anchor="middle" fill="#111" font-family="Liberation Serif">8.208e-08</text>
<text x="518.30" y="107.98" font-size="9" text-anchor="middle" fill="#53B400" font-family="Liberation Serif">TP53</text>
<text x="581.50" y="107.98" font-size="9" text-anchor="middle" fill="#111" font-family="Liberation Serif">0.18</text>
<text x="653.30" y="107.98" font-size="9" text-anchor="middle" fill="#111" font-family="Liberation Serif">5e-04</text>
<text x="518.30" y="126.76" font-size="9" text-anchor="middle" fill="#3ecf9f" font-family="Liberation Serif">JUN</text>
<text x="581.50" y="126.76" font-size="9" text-anchor="middle" fill="#111" font-family="Liberation Serif">0.12</text>
<text x="653.30" y="126.76" font-size="9" text-anchor="middle" fill="#111" font-family="Liberation Serif">0.01745</text>
<text x="518.30" y="145.54" font-size="9" text-anchor="middle" fill="#C49A00" font-family="Liberation Serif">HSF1</text>
<text x="581.50" y="145.54" font-size="9" text-anchor="middle" fill="#111" font-family="Liberation Serif">0.11</text>
<text x="653.30" y="145.54" font-size="9" text-anchor="middle" fill="#111" font-family="Liberation Serif">0.02783</text>
<text x="518.30" y="164.32" font-size="9" text-anchor="middle" fill="#3cc3ef" font-family="Liberation Serif">CREB3</text>
<text x="581.50" y="164.32" font-size="9" text-anchor="middle" fill="#111" font-family="Liberation Serif">0.08</text>
<text x="653.30" y="164.32" font-size="9" text-anchor="middle" fill="#111" font-family="Liberation Serif">0.12775</text>
<text x="518.30" y="183.10" font-size="9" text-anchor="middle" fill="#A58AFF" font-family="Liberation Serif">ESR1</text>
<text x="581.50" y="183.10" font-size="9" text-anchor="middle" fill="#111" font-family="Liberation Serif">-0.04</text>
<text x="653.30" y="183.10" font-size="9" text-anchor="middle" fill="#111" font-family="Liberation Serif">0.44739</text>
<rect x="581.30" y="196.40" width="12.30" height="6.80" fill="#F1EEA8" stroke="#E9A93A" stroke-width="1.0"/>
<text x="597.70" y="203.09" font-size="8.9" text-anchor="start" fill="#1a1a1a">Con</text>
<rect x="581.30" y="206.80" width="12.30" height="6.80" fill="#F1BDCB" stroke="#E6405B" stroke-width="1.0"/>
<text x="597.70" y="213.49" font-size="8.9" text-anchor="start" fill="#1a1a1a">EF1a-ALDH3A2</text>
<rect x="61.50" y="487.20" width="12.30" height="6.80" fill="#F1EEA8" stroke="#E9A93A" stroke-width="1.0"/>
<text x="77.90" y="493.89" font-size="8.9" text-anchor="start" fill="#1a1a1a">Con</text>
<rect x="61.50" y="497.60" width="12.30" height="6.80" fill="#F1BDCB" stroke="#E6405B" stroke-width="1.0"/>
<text x="77.90" y="504.29" font-size="8.9" text-anchor="start" fill="#1a1a1a">EF1a-ALDH3A2</text>
<rect x="61.50" y="508.20" width="12.30" height="6.80" fill="#CFEAF0" stroke="#6FB6DE" stroke-width="1.0"/>
<text x="77.90" y="514.89" font-size="8.9" text-anchor="start" fill="#1a1a1a">EF1a-ALDH3A2+DMF</text>
<rect x="226.40" y="487.20" width="12.30" height="6.80" fill="#F1EEA8" stroke="#E9A93A" stroke-width="1.0"/>
<text x="242.80" y="493.89" font-size="8.9" text-anchor="start" fill="#1a1a1a">Con</text>
<rect x="226.40" y="497.60" width="12.30" height="6.80" fill="#F1BDCB" stroke="#E6405B" stroke-width="1.0"/>
<text x="242.80" y="504.29" font-size="8.9" text-anchor="start" fill="#1a1a1a">EF1a-ALDH3A2</text>
<rect x="226.40" y="508.20" width="12.30" height="6.80" fill="#CFEAF0" stroke="#6FB6DE" stroke-width="1.0"/>
<text x="242.80" y="514.89" font-size="8.9" text-anchor="start" fill="#1a1a1a">EF1a-ALDH3A2+DMF</text>
<rect x="386.70" y="487.30" width="12.30" height="6.80" fill="#F1EEA8" stroke="#E9A93A" stroke-width="1.0"/>
<text x="403.10" y="493.99" font-size="8.9" text-anchor="start" fill="#1a1a1a">Con</text>
<rect x="386.70" y="497.70" width="12.30" height="6.80" fill="#F1BDCB" stroke="#E6405B" stroke-width="1.0"/>
<text x="403.10" y="504.39" font-size="8.9" text-anchor="start" fill="#1a1a1a">EF1a-ALDH3A2</text>
<rect x="386.70" y="508.30" width="12.30" height="6.80" fill="#CFEAF0" stroke="#6FB6DE" stroke-width="1.0"/>
<text x="403.10" y="514.99" font-size="8.9" text-anchor="start" fill="#1a1a1a">EF1a-ALDH3A2+DMF</text>
<rect x="550.60" y="487.20" width="12.30" height="6.80" fill="#F1EEA8" stroke="#E9A93A" stroke-width="1.0"/>
<text x="566.70" y="493.89" font-size="8.9" text-anchor="start" fill="#1a1a1a">Con</text>
<rect x="550.60" y="497.60" width="12.30" height="6.80" fill="#F1BDCB" stroke="#E6405B" stroke-width="1.0"/>
<text x="566.70" y="504.29" font-size="8.9" text-anchor="start" fill="#1a1a1a">EF1a-ALDH3A2</text>
<rect x="550.60" y="508.20" width="12.30" height="6.80" fill="#CFEAF0" stroke="#6FB6DE" stroke-width="1.0"/>
<text x="566.70" y="514.89" font-size="8.9" text-anchor="start" fill="#1a1a1a">EF1a-ALDH3A2+DMF</text>
<rect x="394.40" y="692.90" width="17.40" height="7.90" fill="#F1EEA8" stroke="#E9A93A" stroke-width="1.0"/>
<text x="417.30" y="700.14" font-size="8.9" text-anchor="start" fill="#1a1a1a">Con</text>
<rect x="394.40" y="705.80" width="17.40" height="7.90" fill="#F1BDCB" stroke="#E6405B" stroke-width="1.0"/>
<text x="417.30" y="713.04" font-size="8.9" text-anchor="start" fill="#1a1a1a">EF1a-ALDH3A2</text>
<rect x="394.40" y="719.20" width="17.40" height="7.90" fill="#CFEAF0" stroke="#6FB6DE" stroke-width="1.0"/>
<text x="417.30" y="726.44" font-size="8.9" text-anchor="start" fill="#1a1a1a">EF1a-ALDH3A2+DMF</text>
<line x1="598.50" y1="230.25" x2="598.50" y2="331.95" stroke="#000" stroke-width="1.35" stroke-linecap="butt"/>
<line x1="597.85" y1="331.30" x2="675.00" y2="331.30" stroke="#000" stroke-width="1.35" stroke-linecap="butt"/>
<line x1="592.90" y1="230.90" x2="598.50" y2="230.90" stroke="#000" stroke-width="1.35" stroke-linecap="butt"/>
<text x="591.20" y="234.01" font-size="8.7" text-anchor="end" fill="#111">1.5</text>
<line x1="592.90" y1="264.30" x2="598.50" y2="264.30" stroke="#000" stroke-width="1.35" stroke-linecap="butt"/>
<text x="591.20" y="267.41" font-size="8.7" text-anchor="end" fill="#111">1.0</text>
<line x1="592.90" y1="297.80" x2="598.50" y2="297.80" stroke="#000" stroke-width="1.35" stroke-linecap="butt"/>
<text x="591.20" y="300.91" font-size="8.7" text-anchor="end" fill="#111">0.5</text>
<line x1="592.90" y1="331.30" x2="598.50" y2="331.30" stroke="#000" stroke-width="1.35" stroke-linecap="butt"/>
<text x="591.20" y="334.41" font-size="8.7" text-anchor="end" fill="#111">0.0</text>
<line x1="619.80" y1="331.30" x2="619.80" y2="337.30" stroke="#000" stroke-width="1.35" stroke-linecap="butt"/>
<line x1="652.40" y1="331.30" x2="652.40" y2="337.30" stroke="#000" stroke-width="1.35" stroke-linecap="butt"/>
<rect x="609.10" y="263.40" width="21.40" height="67.70" fill="#F1EEA8" stroke="#E9A93A" stroke-width="1.0"/>
<rect x="641.80" y="312.80" width="21.90" height="18.30" fill="#F1BDCB" stroke="#E6405B" stroke-width="1.0"/>
<line x1="619.80" y1="255.00" x2="619.80" y2="271.30" stroke="#000" stroke-width="1.3" stroke-linecap="butt"/>
<line x1="614.50" y1="255.00" x2="625.10" y2="255.00" stroke="#000" stroke-width="1.3" stroke-linecap="butt"/>
<line x1="614.50" y1="271.30" x2="625.10" y2="271.30" stroke="#000" stroke-width="1.3" stroke-linecap="butt"/>
<line x1="652.40" y1="307.50" x2="652.40" y2="317.10" stroke="#000" stroke-width="1.3" stroke-linecap="butt"/>
<line x1="647.10" y1="307.50" x2="657.70" y2="307.50" stroke="#000" stroke-width="1.3" stroke-linecap="butt"/>
<line x1="647.10" y1="317.10" x2="657.70" y2="317.10" stroke="#000" stroke-width="1.3" stroke-linecap="butt"/>
<circle cx="612.4" cy="256.8" r="2.25" fill="#000"/>
<circle cx="620.0" cy="259.5" r="2.25" fill="#000"/>
<circle cx="626.8" cy="261.1" r="2.25" fill="#000"/>
<circle cx="619.8" cy="274.8" r="2.25" fill="#000"/>
<circle cx="647.6" cy="306.5" r="2.25" fill="#000"/>
<circle cx="658.0" cy="312.0" r="2.25" fill="#000"/>
<circle cx="647.8" cy="316.3" r="2.25" fill="#000"/>
<circle cx="657.8" cy="317.1" r="2.25" fill="#000"/>
<line x1="620.20" y1="240.50" x2="652.30" y2="240.50" stroke="#000" stroke-width="1.2" stroke-linecap="butt"/>
<text x="636.00" y="239.74" font-size="8.2" text-anchor="middle" fill="#111">***</text>
<text x="559.60" y="284.72" font-size="9.0" text-anchor="middle" fill="#1a1a1a" transform="rotate(-90 559.60 281.50)">Relative intensity of nucleus</text>
<text x="570.30" y="284.72" font-size="9.0" text-anchor="middle" fill="#1a1a1a" transform="rotate(-90 570.30 281.50)">NRF2 (Fold change)</text>
<line x1="598.50" y1="351.75" x2="598.50" y2="454.05" stroke="#000" stroke-width="1.35" stroke-linecap="butt"/>
<line x1="597.85" y1="453.40" x2="675.00" y2="453.40" stroke="#000" stroke-width="1.35" stroke-linecap="butt"/>
<line x1="592.90" y1="352.40" x2="598.50" y2="352.40" stroke="#000" stroke-width="1.35" stroke-linecap="butt"/>
<text x="591.20" y="355.51" font-size="8.7" text-anchor="end" fill="#111">1.5</text>
<line x1="592.90" y1="385.90" x2="598.50" y2="385.90" stroke="#000" stroke-width="1.35" stroke-linecap="butt"/>
<text x="591.20" y="389.01" font-size="8.7" text-anchor="end" fill="#111">1.0</text>
<line x1="592.90" y1="419.60" x2="598.50" y2="419.60" stroke="#000" stroke-width="1.35" stroke-linecap="butt"/>
<text x="591.20" y="422.71" font-size="8.7" text-anchor="end" fill="#111">0.5</text>
<line x1="592.90" y1="453.40" x2="598.50" y2="453.40" stroke="#000" stroke-width="1.35" stroke-linecap="butt"/>
<text x="591.20" y="456.51" font-size="8.7" text-anchor="end" fill="#111">0.0</text>
<line x1="619.80" y1="453.40" x2="619.80" y2="459.40" stroke="#000" stroke-width="1.35" stroke-linecap="butt"/>
<line x1="652.40" y1="453.40" x2="652.40" y2="459.40" stroke="#000" stroke-width="1.35" stroke-linecap="butt"/>
<rect x="609.70" y="386.40" width="21.40" height="66.80" fill="#F1EEA8" stroke="#E9A93A" stroke-width="1.0"/>
<rect x="642.40" y="432.00" width="21.90" height="21.20" fill="#F1BDCB" stroke="#E6405B" stroke-width="1.0"/>
<line x1="619.80" y1="374.80" x2="619.80" y2="397.70" stroke="#000" stroke-width="1.3" stroke-linecap="butt"/>
<line x1="614.50" y1="374.80" x2="625.10" y2="374.80" stroke="#000" stroke-width="1.3" stroke-linecap="butt"/>
<line x1="614.50" y1="397.70" x2="625.10" y2="397.70" stroke="#000" stroke-width="1.3" stroke-linecap="butt"/>
<line x1="652.40" y1="426.30" x2="652.40" y2="436.90" stroke="#000" stroke-width="1.3" stroke-linecap="butt"/>
<line x1="647.10" y1="426.30" x2="657.70" y2="426.30" stroke="#000" stroke-width="1.3" stroke-linecap="butt"/>
<line x1="647.10" y1="436.90" x2="657.70" y2="436.90" stroke="#000" stroke-width="1.3" stroke-linecap="butt"/>
<circle cx="620.6" cy="374.2" r="2.25" fill="#000"/>
<circle cx="614.9" cy="382.3" r="2.25" fill="#000"/>
<circle cx="626.1" cy="385.8" r="2.25" fill="#000"/>
<circle cx="620.6" cy="401.8" r="2.25" fill="#000"/>
<circle cx="648.2" cy="425.9" r="2.25" fill="#000"/>
<circle cx="658.4" cy="428.3" r="2.25" fill="#000"/>
<circle cx="648.2" cy="436.1" r="2.25" fill="#000"/>
<circle cx="658.4" cy="437.9" r="2.25" fill="#000"/>
<line x1="620.20" y1="362.50" x2="652.30" y2="362.50" stroke="#000" stroke-width="1.2" stroke-linecap="butt"/>
<text x="636.00" y="361.74" font-size="8.2" text-anchor="middle" fill="#111">***</text>
<text x="559.60" y="407.02" font-size="9.0" text-anchor="middle" fill="#1a1a1a" transform="rotate(-90 559.60 403.80)">Relative intensity of nucleus</text>
<text x="570.30" y="407.02" font-size="9.0" text-anchor="middle" fill="#1a1a1a" transform="rotate(-90 570.30 403.80)">NRF2 (Fold change)</text>
<line x1="86.40" y1="529.95" x2="86.40" y2="628.55" stroke="#000" stroke-width="1.35" stroke-linecap="butt"/>
<line x1="85.75" y1="627.90" x2="181.80" y2="627.90" stroke="#000" stroke-width="1.35" stroke-linecap="butt"/>
<line x1="80.10" y1="530.60" x2="86.40" y2="530.60" stroke="#000" stroke-width="1.35" stroke-linecap="butt"/>
<text x="75.60" y="533.71" font-size="8.7" text-anchor="end" fill="#111">1.5</text>
<line x1="80.10" y1="563.00" x2="86.40" y2="563.00" stroke="#000" stroke-width="1.35" stroke-linecap="butt"/>
<text x="75.60" y="566.11" font-size="8.7" text-anchor="end" fill="#111">1.0</text>
<line x1="80.10" y1="595.40" x2="86.40" y2="595.40" stroke="#000" stroke-width="1.35" stroke-linecap="butt"/>
<text x="75.60" y="598.51" font-size="8.7" text-anchor="end" fill="#111">0.5</text>
<line x1="80.10" y1="627.90" x2="86.40" y2="627.90" stroke="#000" stroke-width="1.35" stroke-linecap="butt"/>
<text x="75.60" y="631.01" font-size="8.7" text-anchor="end" fill="#111">0.0</text>
<line x1="105.00" y1="627.90" x2="105.00" y2="633.90" stroke="#000" stroke-width="1.35" stroke-linecap="butt"/>
<line x1="133.40" y1="627.90" x2="133.40" y2="633.90" stroke="#000" stroke-width="1.35" stroke-linecap="butt"/>
<line x1="162.00" y1="627.90" x2="162.00" y2="633.90" stroke="#000" stroke-width="1.35" stroke-linecap="butt"/>
<rect x="96.30" y="563.00" width="18.20" height="64.70" fill="#F1EEA8" stroke="#E9A93A" stroke-width="1.0"/>
<rect x="124.70" y="603.60" width="17.90" height="24.10" fill="#F1BDCB" stroke="#E6405B" stroke-width="1.0"/>
<rect x="153.30" y="588.00" width="17.90" height="39.70" fill="#CFEAF0" stroke="#6FB6DE" stroke-width="1.0"/>
<line x1="105.00" y1="558.90" x2="105.00" y2="566.60" stroke="#000" stroke-width="1.3" stroke-linecap="butt"/>
<line x1="100.40" y1="558.90" x2="109.60" y2="558.90" stroke="#000" stroke-width="1.3" stroke-linecap="butt"/>
<line x1="100.40" y1="566.60" x2="109.60" y2="566.60" stroke="#000" stroke-width="1.3" stroke-linecap="butt"/>
<line x1="133.40" y1="600.80" x2="133.40" y2="605.90" stroke="#000" stroke-width="1.3" stroke-linecap="butt"/>
<line x1="128.80" y1="600.80" x2="138.00" y2="600.80" stroke="#000" stroke-width="1.3" stroke-linecap="butt"/>
<line x1="128.80" y1="605.90" x2="138.00" y2="605.90" stroke="#000" stroke-width="1.3" stroke-linecap="butt"/>
<line x1="162.00" y1="582.40" x2="162.00" y2="593.40" stroke="#000" stroke-width="1.3" stroke-linecap="butt"/>
<line x1="157.40" y1="582.40" x2="166.60" y2="582.40" stroke="#000" stroke-width="1.3" stroke-linecap="butt"/>
<line x1="157.40" y1="593.40" x2="166.60" y2="593.40" stroke="#000" stroke-width="1.3" stroke-linecap="butt"/>
<circle cx="99.1" cy="560.7" r="2.25" fill="#000"/>
<circle cx="105.3" cy="559.4" r="2.25" fill="#000"/>
<circle cx="104.8" cy="564.5" r="2.25" fill="#000"/>
<circle cx="111.6" cy="565.8" r="2.25" fill="#000"/>
<circle cx="127.0" cy="601.6" r="2.25" fill="#000"/>
<circle cx="131.6" cy="601.8" r="2.25" fill="#000"/>
<circle cx="135.9" cy="604.1" r="2.25" fill="#000"/>
<circle cx="140.5" cy="606.7" r="2.25" fill="#000"/>
<circle cx="156.4" cy="582.9" r="2.25" fill="#000"/>
<circle cx="168.6" cy="586.3" r="2.25" fill="#000"/>
<circle cx="162.8" cy="587.0" r="2.25" fill="#000"/>
<circle cx="162.8" cy="595.2" r="2.25" fill="#000"/>
<line x1="105.30" y1="544.90" x2="132.90" y2="544.90" stroke="#000" stroke-width="1.2" stroke-linecap="butt"/>
<line x1="134.60" y1="544.90" x2="162.00" y2="544.90" stroke="#000" stroke-width="1.2" stroke-linecap="butt"/>
<text x="119.10" y="543.74" font-size="8.2" text-anchor="middle" fill="#111">***</text>
<text x="148.30" y="543.74" font-size="8.2" text-anchor="middle" fill="#111">**</text>
<text x="133.40" y="529.39" font-size="8.9" text-anchor="middle" fill="#1a1a1a">MGC803</text>
<text x="45.50" y="583.09" font-size="8.9" text-anchor="middle" fill="#1a1a1a" transform="rotate(-90 45.50 579.90)">LONP1/GAPDH</text>
<text x="54.50" y="583.09" font-size="8.9" text-anchor="middle" fill="#1a1a1a" transform="rotate(-90 54.50 579.90)">(mRNA, fold change)</text>
<line x1="253.00" y1="529.95" x2="253.00" y2="628.55" stroke="#000" stroke-width="1.35" stroke-linecap="butt"/>
<line x1="252.35" y1="627.90" x2="348.50" y2="627.90" stroke="#000" stroke-width="1.35" stroke-linecap="butt"/>
<line x1="246.70" y1="530.60" x2="253.00" y2="530.60" stroke="#000" stroke-width="1.35" stroke-linecap="butt"/>
<text x="242.20" y="533.71" font-size="8.7" text-anchor="end" fill="#111">1.5</text>
<line x1="246.70" y1="563.00" x2="253.00" y2="563.00" stroke="#000" stroke-width="1.35" stroke-linecap="butt"/>
<text x="242.20" y="566.11" font-size="8.7" text-anchor="end" fill="#111">1.0</text>
<line x1="246.70" y1="595.40" x2="253.00" y2="595.40" stroke="#000" stroke-width="1.35" stroke-linecap="butt"/>
<text x="242.20" y="598.51" font-size="8.7" text-anchor="end" fill="#111">0.5</text>
<line x1="246.70" y1="627.90" x2="253.00" y2="627.90" stroke="#000" stroke-width="1.35" stroke-linecap="butt"/>
<text x="242.20" y="631.01" font-size="8.7" text-anchor="end" fill="#111">0.0</text>
<line x1="271.40" y1="627.90" x2="271.40" y2="633.90" stroke="#000" stroke-width="1.35" stroke-linecap="butt"/>
<line x1="300.30" y1="627.90" x2="300.30" y2="633.90" stroke="#000" stroke-width="1.35" stroke-linecap="butt"/>
<line x1="328.70" y1="627.90" x2="328.70" y2="633.90" stroke="#000" stroke-width="1.35" stroke-linecap="butt"/>
<rect x="262.50" y="563.00" width="18.10" height="64.70" fill="#F1EEA8" stroke="#E9A93A" stroke-width="1.0"/>
<rect x="291.10" y="595.20" width="18.10" height="32.50" fill="#F1BDCB" stroke="#E6405B" stroke-width="1.0"/>
<rect x="319.70" y="584.20" width="18.20" height="43.50" fill="#CFEAF0" stroke="#6FB6DE" stroke-width="1.0"/>
<line x1="271.40" y1="558.90" x2="271.40" y2="566.60" stroke="#000" stroke-width="1.3" stroke-linecap="butt"/>
<line x1="266.80" y1="558.90" x2="276.00" y2="558.90" stroke="#000" stroke-width="1.3" stroke-linecap="butt"/>
<line x1="266.80" y1="566.60" x2="276.00" y2="566.60" stroke="#000" stroke-width="1.3" stroke-linecap="butt"/>
<line x1="300.30" y1="590.80" x2="300.30" y2="599.00" stroke="#000" stroke-width="1.3" stroke-linecap="butt"/>
<line x1="295.70" y1="590.80" x2="304.90" y2="590.80" stroke="#000" stroke-width="1.3" stroke-linecap="butt"/>
<line x1="295.70" y1="599.00" x2="304.90" y2="599.00" stroke="#000" stroke-width="1.3" stroke-linecap="butt"/>
<line x1="328.70" y1="579.90" x2="328.70" y2="588.00" stroke="#000" stroke-width="1.3" stroke-linecap="butt"/>
<line x1="324.10" y1="579.90" x2="333.30" y2="579.90" stroke="#000" stroke-width="1.3" stroke-linecap="butt"/>
<line x1="324.10" y1="588.00" x2="333.30" y2="588.00" stroke="#000" stroke-width="1.3" stroke-linecap="butt"/>
<circle cx="267.1" cy="560.0" r="2.25" fill="#000"/>
<circle cx="275.5" cy="560.0" r="2.25" fill="#000"/>
<circle cx="267.1" cy="564.0" r="2.25" fill="#000"/>
<circle cx="276.0" cy="566.6" r="2.25" fill="#000"/>
<circle cx="294.4" cy="592.1" r="2.25" fill="#000"/>
<circle cx="306.7" cy="595.2" r="2.25" fill="#000"/>
<circle cx="300.8" cy="596.0" r="2.25" fill="#000"/>
<circle cx="300.8" cy="601.6" r="2.25" fill="#000"/>
<circle cx="328.9" cy="578.1" r="2.25" fill="#000"/>
<circle cx="322.5" cy="584.2" r="2.25" fill="#000"/>
<circle cx="329.7" cy="586.8" r="2.25" fill="#000"/>
<circle cx="335.3" cy="587.5" r="2.25" fill="#000"/>
<line x1="272.20" y1="544.90" x2="299.80" y2="544.90" stroke="#000" stroke-width="1.2" stroke-linecap="butt"/>
<line x1="301.30" y1="544.90" x2="328.90" y2="544.90" stroke="#000" stroke-width="1.2" stroke-linecap="butt"/>
<text x="286.00" y="543.74" font-size="8.2" text-anchor="middle" fill="#111">***</text>
<text x="315.10" y="543.74" font-size="8.2" text-anchor="middle" fill="#111">*</text>
<text x="300.30" y="529.39" font-size="8.9" text-anchor="middle" fill="#1a1a1a">HGC27</text>
<text x="210.90" y="583.09" font-size="8.9" text-anchor="middle" fill="#1a1a1a" transform="rotate(-90 210.90 579.90)">LONP1/GAPDH</text>
<text x="221.00" y="583.09" font-size="8.9" text-anchor="middle" fill="#1a1a1a" transform="rotate(-90 221.00 579.90)">(mRNA, fold change)</text>
<line x1="416.10" y1="530.45" x2="416.10" y2="629.05" stroke="#000" stroke-width="1.35" stroke-linecap="butt"/>
<line x1="415.45" y1="628.40" x2="511.80" y2="628.40" stroke="#000" stroke-width="1.35" stroke-linecap="butt"/>
<line x1="409.80" y1="531.10" x2="416.10" y2="531.10" stroke="#000" stroke-width="1.35" stroke-linecap="butt"/>
<text x="405.30" y="534.21" font-size="8.7" text-anchor="end" fill="#111">1.5</text>
<line x1="409.80" y1="563.50" x2="416.10" y2="563.50" stroke="#000" stroke-width="1.35" stroke-linecap="butt"/>
<text x="405.30" y="566.61" font-size="8.7" text-anchor="end" fill="#111">1.0</text>
<line x1="409.80" y1="596.00" x2="416.10" y2="596.00" stroke="#000" stroke-width="1.35" stroke-linecap="butt"/>
<text x="405.30" y="599.11" font-size="8.7" text-anchor="end" fill="#111">0.5</text>
<line x1="409.80" y1="628.40" x2="416.10" y2="628.40" stroke="#000" stroke-width="1.35" stroke-linecap="butt"/>
<text x="405.30" y="631.51" font-size="8.7" text-anchor="end" fill="#111">0.0</text>
<line x1="434.80" y1="628.40" x2="434.80" y2="634.40" stroke="#000" stroke-width="1.35" stroke-linecap="butt"/>
<line x1="463.40" y1="628.40" x2="463.40" y2="634.40" stroke="#000" stroke-width="1.35" stroke-linecap="butt"/>
<line x1="492.00" y1="628.40" x2="492.00" y2="634.40" stroke="#000" stroke-width="1.35" stroke-linecap="butt"/>
<rect x="426.10" y="562.50" width="18.10" height="65.70" fill="#F1EEA8" stroke="#E9A93A" stroke-width="1.0"/>
<rect x="454.50" y="602.90" width="18.40" height="25.30" fill="#F1BDCB" stroke="#E6405B" stroke-width="1.0"/>
<rect x="483.10" y="587.00" width="18.40" height="41.20" fill="#CFEAF0" stroke="#6FB6DE" stroke-width="1.0"/>
<line x1="434.80" y1="554.80" x2="434.80" y2="570.20" stroke="#000" stroke-width="1.3" stroke-linecap="butt"/>
<line x1="430.20" y1="554.80" x2="439.40" y2="554.80" stroke="#000" stroke-width="1.3" stroke-linecap="butt"/>
<line x1="430.20" y1="570.20" x2="439.40" y2="570.20" stroke="#000" stroke-width="1.3" stroke-linecap="butt"/>
<line x1="463.40" y1="599.00" x2="463.40" y2="606.70" stroke="#000" stroke-width="1.3" stroke-linecap="butt"/>
<line x1="458.80" y1="599.00" x2="468.00" y2="599.00" stroke="#000" stroke-width="1.3" stroke-linecap="butt"/>
<line x1="458.80" y1="606.70" x2="468.00" y2="606.70" stroke="#000" stroke-width="1.3" stroke-linecap="butt"/>
<line x1="492.00" y1="583.70" x2="492.00" y2="589.60" stroke="#000" stroke-width="1.3" stroke-linecap="butt"/>
<line x1="487.40" y1="583.70" x2="496.60" y2="583.70" stroke="#000" stroke-width="1.3" stroke-linecap="butt"/>
<line x1="487.40" y1="589.60" x2="496.60" y2="589.60" stroke="#000" stroke-width="1.3" stroke-linecap="butt"/>
<circle cx="435.3" cy="552.3" r="2.25" fill="#000"/>
<circle cx="435.3" cy="562.5" r="2.25" fill="#000"/>
<circle cx="430.7" cy="565.6" r="2.25" fill="#000"/>
<circle cx="439.6" cy="569.1" r="2.25" fill="#000"/>
<circle cx="458.8" cy="599.0" r="2.25" fill="#000"/>
<circle cx="467.7" cy="599.8" r="2.25" fill="#000"/>
<circle cx="458.8" cy="604.1" r="2.25" fill="#000"/>
<circle cx="468.3" cy="606.7" r="2.25" fill="#000"/>
<circle cx="485.6" cy="584.5" r="2.25" fill="#000"/>
<circle cx="490.2" cy="585.0" r="2.25" fill="#000"/>
<circle cx="494.1" cy="587.5" r="2.25" fill="#000"/>
<circle cx="498.9" cy="590.1" r="2.25" fill="#000"/>
<line x1="435.30" y1="545.40" x2="462.60" y2="545.40" stroke="#000" stroke-width="1.2" stroke-linecap="butt"/>
<line x1="464.40" y1="545.40" x2="492.00" y2="545.40" stroke="#000" stroke-width="1.2" stroke-linecap="butt"/>
<text x="448.95" y="544.24" font-size="8.2" text-anchor="middle" fill="#111">***</text>
<text x="478.20" y="544.24" font-size="8.2" text-anchor="middle" fill="#111">**</text>
<text x="463.40" y="529.89" font-size="8.9" text-anchor="middle" fill="#1a1a1a">MGC803</text>
<text x="375.30" y="583.79" font-size="8.9" text-anchor="middle" fill="#1a1a1a" transform="rotate(-90 375.30 580.60)">HSP60/GAPDH</text>
<text x="385.40" y="583.79" font-size="8.9" text-anchor="middle" fill="#1a1a1a" transform="rotate(-90 385.40 580.60)">(mRNA, fold change)</text>
<line x1="580.30" y1="530.45" x2="580.30" y2="629.05" stroke="#000" stroke-width="1.35" stroke-linecap="butt"/>
<line x1="579.65" y1="628.40" x2="676.20" y2="628.40" stroke="#000" stroke-width="1.35" stroke-linecap="butt"/>
<line x1="574.00" y1="531.10" x2="580.30" y2="531.10" stroke="#000" stroke-width="1.35" stroke-linecap="butt"/>
<text x="569.50" y="534.21" font-size="8.7" text-anchor="end" fill="#111">1.5</text>
<line x1="574.00" y1="563.50" x2="580.30" y2="563.50" stroke="#000" stroke-width="1.35" stroke-linecap="butt"/>
<text x="569.50" y="566.61" font-size="8.7" text-anchor="end" fill="#111">1.0</text>
<line x1="574.00" y1="596.00" x2="580.30" y2="596.00" stroke="#000" stroke-width="1.35" stroke-linecap="butt"/>
<text x="569.50" y="599.11" font-size="8.7" text-anchor="end" fill="#111">0.5</text>
<line x1="574.00" y1="628.40" x2="580.30" y2="628.40" stroke="#000" stroke-width="1.35" stroke-linecap="butt"/>
<text x="569.50" y="631.51" font-size="8.7" text-anchor="end" fill="#111">0.0</text>
<line x1="599.40" y1="628.40" x2="599.40" y2="634.40" stroke="#000" stroke-width="1.35" stroke-linecap="butt"/>
<line x1="627.80" y1="628.40" x2="627.80" y2="634.40" stroke="#000" stroke-width="1.35" stroke-linecap="butt"/>
<line x1="656.40" y1="628.40" x2="656.40" y2="634.40" stroke="#000" stroke-width="1.35" stroke-linecap="butt"/>
<rect x="590.20" y="563.00" width="18.40" height="65.20" fill="#F1EEA8" stroke="#E9A93A" stroke-width="1.0"/>
<rect x="618.60" y="608.50" width="18.40" height="19.70" fill="#F1BDCB" stroke="#E6405B" stroke-width="1.0"/>
<rect x="647.20" y="589.00" width="18.40" height="39.20" fill="#CFEAF0" stroke="#6FB6DE" stroke-width="1.0"/>
<line x1="599.40" y1="559.40" x2="599.40" y2="565.30" stroke="#000" stroke-width="1.3" stroke-linecap="butt"/>
<line x1="594.80" y1="559.40" x2="604.00" y2="559.40" stroke="#000" stroke-width="1.3" stroke-linecap="butt"/>
<line x1="594.80" y1="565.30" x2="604.00" y2="565.30" stroke="#000" stroke-width="1.3" stroke-linecap="butt"/>
<line x1="627.80" y1="605.40" x2="627.80" y2="611.00" stroke="#000" stroke-width="1.3" stroke-linecap="butt"/>
<line x1="623.20" y1="605.40" x2="632.40" y2="605.40" stroke="#000" stroke-width="1.3" stroke-linecap="butt"/>
<line x1="623.20" y1="611.00" x2="632.40" y2="611.00" stroke="#000" stroke-width="1.3" stroke-linecap="butt"/>
<line x1="656.40" y1="581.90" x2="656.40" y2="596.50" stroke="#000" stroke-width="1.3" stroke-linecap="butt"/>
<line x1="651.80" y1="581.90" x2="661.00" y2="581.90" stroke="#000" stroke-width="1.3" stroke-linecap="butt"/>
<line x1="651.80" y1="596.50" x2="661.00" y2="596.50" stroke="#000" stroke-width="1.3" stroke-linecap="butt"/>
<circle cx="599.4" cy="558.1" r="2.25" fill="#000"/>
<circle cx="593.0" cy="563.3" r="2.25" fill="#000"/>
<circle cx="599.4" cy="564.0" r="2.25" fill="#000"/>
<circle cx="605.8" cy="565.0" r="2.25" fill="#000"/>
<circle cx="621.1" cy="604.6" r="2.25" fill="#000"/>
<circle cx="625.0" cy="608.0" r="2.25" fill="#000"/>
<circle cx="629.3" cy="610.5" r="2.25" fill="#000"/>
<circle cx="634.4" cy="611.0" r="2.25" fill="#000"/>
<circle cx="656.1" cy="581.1" r="2.25" fill="#000"/>
<circle cx="651.8" cy="588.8" r="2.25" fill="#000"/>
<circle cx="661.3" cy="589.3" r="2.25" fill="#000"/>
<circle cx="656.1" cy="597.0" r="2.25" fill="#000"/>
<line x1="599.40" y1="545.40" x2="626.80" y2="545.40" stroke="#000" stroke-width="1.2" stroke-linecap="butt"/>
<line x1="628.30" y1="545.40" x2="655.60" y2="545.40" stroke="#000" stroke-width="1.2" stroke-linecap="butt"/>
<text x="613.10" y="544.24" font-size="8.2" text-anchor="middle" fill="#111">***</text>
<text x="641.95" y="544.24" font-size="8.2" text-anchor="middle" fill="#111">***</text>
<text x="627.50" y="529.89" font-size="8.9" text-anchor="middle" fill="#1a1a1a">HGC27</text>
<text x="540.10" y="583.79" font-size="8.9" text-anchor="middle" fill="#1a1a1a" transform="rotate(-90 540.10 580.60)">HSP60/GAPDH</text>
<text x="550.00" y="583.79" font-size="8.9" text-anchor="middle" fill="#1a1a1a" transform="rotate(-90 550.00 580.60)">(mRNA, fold change)</text>
<line x1="442.40" y1="746.75" x2="442.40" y2="855.25" stroke="#000" stroke-width="1.35" stroke-linecap="butt"/>
<line x1="441.75" y1="854.60" x2="654.00" y2="854.60" stroke="#000" stroke-width="1.35" stroke-linecap="butt"/>
<line x1="435.80" y1="747.40" x2="442.40" y2="747.40" stroke="#000" stroke-width="1.35" stroke-linecap="butt"/>
<text x="427.20" y="750.51" font-size="8.7" text-anchor="end" fill="#111">1.4</text>
<line x1="435.80" y1="769.10" x2="442.40" y2="769.10" stroke="#000" stroke-width="1.35" stroke-linecap="butt"/>
<text x="427.20" y="772.21" font-size="8.7" text-anchor="end" fill="#111">1.3</text>
<line x1="435.80" y1="790.60" x2="442.40" y2="790.60" stroke="#000" stroke-width="1.35" stroke-linecap="butt"/>
<text x="427.20" y="793.71" font-size="8.7" text-anchor="end" fill="#111">1.2</text>
<line x1="435.80" y1="812.10" x2="442.40" y2="812.10" stroke="#000" stroke-width="1.35" stroke-linecap="butt"/>
<text x="427.20" y="815.21" font-size="8.7" text-anchor="end" fill="#111">1.1</text>
<line x1="435.80" y1="833.60" x2="442.40" y2="833.60" stroke="#000" stroke-width="1.35" stroke-linecap="butt"/>
<text x="427.20" y="836.71" font-size="8.7" text-anchor="end" fill="#111">1.0</text>
<line x1="435.80" y1="854.60" x2="442.40" y2="854.60" stroke="#000" stroke-width="1.35" stroke-linecap="butt"/>
<text x="427.20" y="857.71" font-size="8.7" text-anchor="end" fill="#111">0.9</text>
<line x1="494.30" y1="854.60" x2="494.30" y2="860.60" stroke="#000" stroke-width="1.35" stroke-linecap="butt"/>
<line x1="599.60" y1="854.60" x2="599.60" y2="860.60" stroke="#000" stroke-width="1.35" stroke-linecap="butt"/>
<rect x="452.40" y="833.20" width="20.40" height="21.20" fill="#F1EEA8" stroke="#E9A93A" stroke-width="1.0"/>
<rect x="484.30" y="761.20" width="19.70" height="93.20" fill="#F1BDCB" stroke="#E6405B" stroke-width="1.0"/>
<rect x="515.40" y="789.40" width="20.20" height="65.00" fill="#CFEAF0" stroke="#6FB6DE" stroke-width="1.0"/>
<rect x="558.10" y="832.60" width="20.80" height="21.80" fill="#F1EEA8" stroke="#E9A93A" stroke-width="1.0"/>
<rect x="589.70" y="780.80" width="20.20" height="73.60" fill="#F1BDCB" stroke="#E6405B" stroke-width="1.0"/>
<rect x="621.00" y="807.00" width="20.20" height="47.40" fill="#CFEAF0" stroke="#6FB6DE" stroke-width="1.0"/>
<line x1="462.80" y1="826.60" x2="462.80" y2="838.60" stroke="#000" stroke-width="1.3" stroke-linecap="butt"/>
<line x1="457.40" y1="826.60" x2="468.20" y2="826.60" stroke="#000" stroke-width="1.3" stroke-linecap="butt"/>
<line x1="457.40" y1="838.60" x2="468.20" y2="838.60" stroke="#000" stroke-width="1.3" stroke-linecap="butt"/>
<line x1="494.30" y1="756.70" x2="494.30" y2="765.10" stroke="#000" stroke-width="1.3" stroke-linecap="butt"/>
<line x1="488.90" y1="756.70" x2="499.70" y2="756.70" stroke="#000" stroke-width="1.3" stroke-linecap="butt"/>
<line x1="488.90" y1="765.10" x2="499.70" y2="765.10" stroke="#000" stroke-width="1.3" stroke-linecap="butt"/>
<line x1="525.70" y1="776.70" x2="525.70" y2="800.20" stroke="#000" stroke-width="1.3" stroke-linecap="butt"/>
<line x1="520.30" y1="776.70" x2="531.10" y2="776.70" stroke="#000" stroke-width="1.3" stroke-linecap="butt"/>
<line x1="520.30" y1="800.20" x2="531.10" y2="800.20" stroke="#000" stroke-width="1.3" stroke-linecap="butt"/>
<line x1="568.30" y1="823.20" x2="568.30" y2="842.10" stroke="#000" stroke-width="1.3" stroke-linecap="butt"/>
<line x1="562.90" y1="823.20" x2="573.70" y2="823.20" stroke="#000" stroke-width="1.3" stroke-linecap="butt"/>
<line x1="562.90" y1="842.10" x2="573.70" y2="842.10" stroke="#000" stroke-width="1.3" stroke-linecap="butt"/>
<line x1="599.90" y1="771.30" x2="599.90" y2="788.30" stroke="#000" stroke-width="1.3" stroke-linecap="butt"/>
<line x1="594.50" y1="771.30" x2="605.30" y2="771.30" stroke="#000" stroke-width="1.3" stroke-linecap="butt"/>
<line x1="594.50" y1="788.30" x2="605.30" y2="788.30" stroke="#000" stroke-width="1.3" stroke-linecap="butt"/>
<line x1="631.20" y1="797.80" x2="631.20" y2="816.70" stroke="#000" stroke-width="1.3" stroke-linecap="butt"/>
<line x1="625.80" y1="797.80" x2="636.60" y2="797.80" stroke="#000" stroke-width="1.3" stroke-linecap="butt"/>
<line x1="625.80" y1="816.70" x2="636.60" y2="816.70" stroke="#000" stroke-width="1.3" stroke-linecap="butt"/>
<circle cx="462.8" cy="825.7" r="2.3" fill="#000"/>
<circle cx="457.6" cy="830.7" r="2.3" fill="#000"/>
<circle cx="467.8" cy="834.5" r="2.3" fill="#000"/>
<circle cx="462.8" cy="840.2" r="2.3" fill="#000"/>
<circle cx="488.8" cy="758.3" r="2.3" fill="#000"/>
<circle cx="499.5" cy="758.3" r="2.3" fill="#000"/>
<circle cx="494.3" cy="762.4" r="2.3" fill="#000"/>
<circle cx="499.5" cy="766.2" r="2.3" fill="#000"/>
<circle cx="525.7" cy="771.3" r="2.3" fill="#000"/>
<circle cx="520.3" cy="793.7" r="2.3" fill="#000"/>
<circle cx="526.2" cy="790.8" r="2.3" fill="#000"/>
<circle cx="530.5" cy="798.3" r="2.3" fill="#000"/>
<circle cx="568.3" cy="819.1" r="2.3" fill="#000"/>
<circle cx="561.6" cy="837.5" r="2.3" fill="#000"/>
<circle cx="568.3" cy="837.5" r="2.3" fill="#000"/>
<circle cx="575.1" cy="837.5" r="2.3" fill="#000"/>
<circle cx="599.9" cy="769.4" r="2.3" fill="#000"/>
<circle cx="599.9" cy="777.5" r="2.3" fill="#000"/>
<circle cx="594.5" cy="786.7" r="2.3" fill="#000"/>
<circle cx="605.3" cy="786.7" r="2.3" fill="#000"/>
<circle cx="631.2" cy="794.8" r="2.3" fill="#000"/>
<circle cx="626.1" cy="805.6" r="2.3" fill="#000"/>
<circle cx="636.4" cy="808.6" r="2.3" fill="#000"/>
<circle cx="631.2" cy="816.4" r="2.3" fill="#000"/>
<line x1="464.40" y1="752.00" x2="491.50" y2="752.00" stroke="#000" stroke-width="1.2" stroke-linecap="butt"/>
<text x="477.95" y="750.64" font-size="8.2" text-anchor="middle" fill="#111">***</text>
<line x1="496.10" y1="752.00" x2="523.20" y2="752.00" stroke="#000" stroke-width="1.2" stroke-linecap="butt"/>
<text x="509.65" y="750.64" font-size="8.2" text-anchor="middle" fill="#111">**</text>
<line x1="571.00" y1="752.00" x2="598.00" y2="752.00" stroke="#000" stroke-width="1.2" stroke-linecap="butt"/>
<text x="584.50" y="750.64" font-size="8.2" text-anchor="middle" fill="#111">***</text>
<line x1="602.10" y1="752.00" x2="629.60" y2="752.00" stroke="#000" stroke-width="1.2" stroke-linecap="butt"/>
<text x="615.85" y="750.64" font-size="8.2" text-anchor="middle" fill="#111">***</text>
<text x="493.20" y="735.69" font-size="8.9" text-anchor="middle" fill="#1a1a1a">MGC803</text>
<text x="599.40" y="735.49" font-size="8.9" text-anchor="middle" fill="#1a1a1a">HGC27</text>
<text x="386.30" y="807.89" font-size="8.9" text-anchor="middle" fill="#1a1a1a" transform="rotate(-90 386.30 804.70)">MDA production</text>
<text x="397.60" y="807.89" font-size="8.9" text-anchor="middle" fill="#1a1a1a" transform="rotate(-90 397.60 804.70)">(Fold change)</text>
<defs>
<filter id="b1" filterUnits="userSpaceOnUse" x="0" y="200" width="685" height="685"><feGaussianBlur stdDeviation="1.3"/></filter>
<filter id="b15" filterUnits="userSpaceOnUse" x="0" y="200" width="685" height="685"><feGaussianBlur stdDeviation="1.7"/></filter>
<filter id="b2" filterUnits="userSpaceOnUse" x="0" y="200" width="685" height="685"><feGaussianBlur stdDeviation="2.2"/></filter>
<filter id="b3" filterUnits="userSpaceOnUse" x="0" y="200" width="685" height="685"><feGaussianBlur stdDeviation="3.2"/></filter>
<filter id="c1" filterUnits="userSpaceOnUse" x="0" y="200" width="685" height="685"><feGaussianBlur stdDeviation="0.6"/></filter>
<filter id="c2" filterUnits="userSpaceOnUse" x="0" y="200" width="685" height="685"><feGaussianBlur stdDeviation="1.2"/></filter>
<linearGradient id="gv" x1="0" y1="0" x2="0" y2="1"><stop offset="0" stop-color="#000" stop-opacity="0.05"/><stop offset="0.5" stop-color="#000" stop-opacity="0"/><stop offset="1" stop-color="#000" stop-opacity="0.05"/></linearGradient>
</defs>
<text x="110.90" y="268.09" font-size="8.9" text-anchor="middle" fill="#1a1a1a">MGC803</text>
<text x="238.00" y="268.09" font-size="8.9" text-anchor="middle" fill="#1a1a1a">HGC27</text>
<text x="76.20" y="282.09" font-size="8.9" text-anchor="middle" fill="#1a1a1a">Nucleus</text>
<text x="138.70" y="282.09" font-size="8.9" text-anchor="middle" fill="#1a1a1a">Cytoplasm</text>
<text x="208.10" y="282.09" font-size="8.9" text-anchor="middle" fill="#1a1a1a">Nucleus</text>
<text x="271.70" y="282.09" font-size="8.9" text-anchor="middle" fill="#1a1a1a">Cytoplasm</text>
<line x1="48.10" y1="287.30" x2="101.70" y2="287.30" stroke="#111" stroke-width="1.1" stroke-linecap="butt"/>
<line x1="112.50" y1="287.30" x2="165.50" y2="287.30" stroke="#111" stroke-width="1.1" stroke-linecap="butt"/>
<line x1="181.50" y1="287.30" x2="234.90" y2="287.30" stroke="#111" stroke-width="1.1" stroke-linecap="butt"/>
<line x1="245.40" y1="287.30" x2="298.70" y2="287.30" stroke="#111" stroke-width="1.1" stroke-linecap="butt"/>
<text x="17.90" y="303.79" font-size="8.9" text-anchor="start" fill="#1a1a1a">EF1a-</text>
<text x="57.80" y="303.09" font-size="8.9" text-anchor="middle" fill="#1a1a1a">Con</text>
<text x="91.00" y="303.09" font-size="8.9" text-anchor="middle" fill="#1a1a1a">ALDH3A2</text>
<text x="123.00" y="303.09" font-size="8.9" text-anchor="middle" fill="#1a1a1a">Con</text>
<text x="155.70" y="303.09" font-size="8.9" text-anchor="middle" fill="#1a1a1a">ALDH3A2</text>
<text x="190.20" y="303.09" font-size="8.9" text-anchor="middle" fill="#1a1a1a">Con</text>
<text x="222.50" y="303.09" font-size="8.9" text-anchor="middle" fill="#1a1a1a">ALDH3A2</text>
<text x="254.00" y="303.09" font-size="8.9" text-anchor="middle" fill="#1a1a1a">Con</text>
<text x="289.80" y="303.09" font-size="8.9" text-anchor="middle" fill="#1a1a1a">ALDH3A2</text>
<text x="14.50" y="328.69" font-size="8.9" text-anchor="start" fill="#1a1a1a">NRF2</text>
<text x="2.10" y="380.19" font-size="8.9" text-anchor="start" fill="#1a1a1a">TUBULIN</text>
<text x="13.70" y="416.19" font-size="8.9" text-anchor="start" fill="#1a1a1a">PCNA</text>
<text x="60.70" y="356.79" font-size="8.9" text-anchor="middle" fill="#1a1a1a">1.00</text>
<text x="90.60" y="356.79" font-size="8.9" text-anchor="middle" fill="#1a1a1a">0.42</text>
<text x="124.30" y="356.79" font-size="8.9" text-anchor="middle" fill="#1a1a1a">1.00</text>
<text x="152.40" y="356.79" font-size="8.9" text-anchor="middle" fill="#1a1a1a">1.50</text>
<text x="192.80" y="356.79" font-size="8.9" text-anchor="middle" fill="#1a1a1a">1.00</text>
<text x="220.40" y="356.79" font-size="8.9" text-anchor="middle" fill="#1a1a1a">0.67</text>
<text x="250.60" y="356.79" font-size="8.9" text-anchor="middle" fill="#1a1a1a">1.00</text>
<text x="283.50" y="356.79" font-size="8.9" text-anchor="middle" fill="#1a1a1a">1.35</text>
<clipPath id="cp1"><rect x="45.5" y="310.5" width="126.20" height="30.80"/></clipPath>
<rect x="45.50" y="310.50" width="126.20" height="30.80" fill="#d9d9d9" stroke="none" stroke-width="1"/>
<g clip-path="url(#cp1)">
<rect x="45.50" y="310.50" width="126.20" height="30.80" fill="url(#gv)" stroke="none" stroke-width="1"/>
<rect x="51" y="309" width="26.5" height="34.0" rx="10" fill="#000" fill-opacity="1" filter="url(#b1)"/>
<rect x="49.5" y="310" width="30.0" height="32.0" rx="9" fill="#000" fill-opacity="0.5" filter="url(#b2)"/>
<rect x="83" y="313" width="22.5" height="27.0" rx="6" fill="#747474" fill-opacity="0.72" filter="url(#b2)"/>
<rect x="107" y="308" width="2.5" height="36.0" rx="1" fill="#fff" fill-opacity="0.6" filter="url(#b1)"/>
<rect x="112" y="316" width="23.0" height="27.0" rx="6" fill="#9a9a9a" fill-opacity="0.7" filter="url(#b2)"/>
<rect x="140" y="314" width="32.0" height="30.0" rx="6" fill="#7a7a7a" fill-opacity="0.75" filter="url(#b2)"/>
<rect x="146" y="323" width="25.0" height="15.0" rx="6" fill="#2a2a2a" fill-opacity="0.6" filter="url(#b3)"/>
</g>
<rect x="45.50" y="310.50" width="126.20" height="30.80" fill="none" stroke="#111" stroke-width="1.35"/>
<clipPath id="cp2"><rect x="174.5" y="310.5" width="125.30" height="30.80"/></clipPath>
<rect x="174.50" y="310.50" width="125.30" height="30.80" fill="#bebebe" stroke="none" stroke-width="1"/>
<g clip-path="url(#cp2)">
<rect x="174.50" y="310.50" width="125.30" height="30.80" fill="url(#gv)" stroke="none" stroke-width="1"/>
<rect x="178" y="321" width="28.0" height="24.0" rx="3" fill="#6c6c6c" fill-opacity="0.55" filter="url(#b2)"/>
<rect x="211" y="322" width="25.0" height="23.0" rx="3" fill="#808080" fill-opacity="0.45" filter="url(#b2)"/>
<rect x="240" y="323" width="25.0" height="22.0" rx="3" fill="#787878" fill-opacity="0.5" filter="url(#b2)"/>
<rect x="270" y="323" width="29.0" height="22.0" rx="3" fill="#666" fill-opacity="0.55" filter="url(#b2)"/>
<rect x="207.8" y="308" width="1.6" height="36.0" rx="1" fill="#fff" fill-opacity="0.32" filter="url(#b1)"/>
<rect x="237.2" y="308" width="2.0" height="36.0" rx="1" fill="#fff" fill-opacity="0.32" filter="url(#b1)"/>
<rect x="266.8" y="308" width="1.8" height="36.0" rx="1" fill="#fff" fill-opacity="0.36" filter="url(#b1)"/>
<path d="M183.0 324.3Q193.0 324.6 203.0 324.9" fill="none" stroke="#111" stroke-opacity="0.85" stroke-width="3.6" stroke-linecap="round" filter="url(#b15)"/>
<path d="M182.5 324.0Q184.8 324.1 187.0 324.2" fill="none" stroke="#000" stroke-opacity="0.6" stroke-width="3.4" stroke-linecap="round" filter="url(#b1)"/>
<path d="M214.0 324.6Q223.5 324.8 233.0 324.9" fill="none" stroke="#444" stroke-opacity="0.55" stroke-width="3.0" stroke-linecap="round" filter="url(#b15)"/>
<path d="M243.0 326.0Q252.5 326.2 262.0 326.5" fill="none" stroke="#2a2a2a" stroke-opacity="0.65" stroke-width="3.2" stroke-linecap="round" filter="url(#b15)"/>
<path d="M273.5 328.4Q283.8 329.3 294.0 328.2" fill="none" stroke="#0a0a0a" stroke-opacity="0.9" stroke-width="4.2" stroke-linecap="round" filter="url(#b15)"/>
<path d="M273.0 328.4Q275.0 328.4 277.0 328.4" fill="none" stroke="#000" stroke-opacity="0.6" stroke-width="3.6" stroke-linecap="round" filter="url(#b1)"/>
<path d="M291.0 328.0Q292.8 328.0 294.5 328.0" fill="none" stroke="#000" stroke-opacity="0.5" stroke-width="3.4" stroke-linecap="round" filter="url(#b1)"/>
</g>
<rect x="174.50" y="310.50" width="125.30" height="30.80" fill="none" stroke="#111" stroke-width="1.35"/>
<clipPath id="cp3"><rect x="45.5" y="362.3" width="126.20" height="30.20"/></clipPath>
<rect x="45.50" y="362.30" width="126.20" height="30.20" fill="#d0d0d0" stroke="none" stroke-width="1"/>
<g clip-path="url(#cp3)">
<rect x="45.50" y="362.30" width="126.20" height="30.20" fill="url(#gv)" stroke="none" stroke-width="1"/>
<path d="M87.0 380.0Q94.0 380.6 101.0 379.5" fill="none" stroke="#888" stroke-opacity="0.35" stroke-width="3" stroke-linecap="round" filter="url(#b2)"/>
<path d="M112.5 376.6Q121.8 374.1 131.0 372.8" fill="none" stroke="#1c1c1c" stroke-opacity="0.95" stroke-width="4.6" stroke-linecap="round" filter="url(#b1)"/>
<rect x="111" y="374" width="22.0" height="9.0" rx="3" fill="#666" fill-opacity="0.35" filter="url(#b2)"/>
<path d="M140.5 373.6Q152.0 371.6 163.5 373.2" fill="none" stroke="#000" stroke-opacity="1" stroke-width="5.6" stroke-linecap="round" filter="url(#b1)"/>
</g>
<rect x="45.50" y="362.30" width="126.20" height="30.20" fill="none" stroke="#111" stroke-width="1.35"/>
<clipPath id="cp4"><rect x="174.5" y="362.3" width="125.30" height="30.20"/></clipPath>
<rect x="174.50" y="362.30" width="125.30" height="30.20" fill="#d6d6d6" stroke="none" stroke-width="1"/>
<g clip-path="url(#cp4)">
<rect x="174.50" y="362.30" width="125.30" height="30.20" fill="url(#gv)" stroke="none" stroke-width="1"/>
<path d="M241.5 380.0Q250.5 382.8 259.5 379.2" fill="none" stroke="#000" stroke-opacity="1" stroke-width="8.6" stroke-linecap="round" filter="url(#b1)"/>
<path d="M270.0 379.4Q276.5 381.2 283.0 379.8" fill="none" stroke="#000" stroke-opacity="1" stroke-width="8.2" stroke-linecap="round" filter="url(#b1)"/>
<path d="M281.0 380.0Q287.0 378.6 293.0 373.6" fill="none" stroke="#000" stroke-opacity="1" stroke-width="6.2" stroke-linecap="round" filter="url(#b1)"/>
</g>
<rect x="174.50" y="362.30" width="125.30" height="30.20" fill="none" stroke="#111" stroke-width="1.35"/>
<clipPath id="cp5"><rect x="45.5" y="397.7" width="126.20" height="30.30"/></clipPath>
<rect x="45.50" y="397.70" width="126.20" height="30.30" fill="#d8d8d8" stroke="none" stroke-width="1"/>
<g clip-path="url(#cp5)">
<rect x="45.50" y="397.70" width="126.20" height="30.30" fill="url(#gv)" stroke="none" stroke-width="1"/>
<path d="M53.0 416.6Q57.5 416.7 62.0 416.8" fill="none" stroke="#000" stroke-opacity="1" stroke-width="7.4" stroke-linecap="round" filter="url(#b1)"/>
<path d="M58.0 416.4Q67.0 415.8 76.0 413.2" fill="none" stroke="#000" stroke-opacity="1" stroke-width="4.6" stroke-linecap="round" filter="url(#b1)"/>
<path d="M86.5 413.6Q93.5 412.6 100.5 412.9" fill="none" stroke="#000" stroke-opacity="1" stroke-width="8.0" stroke-linecap="round" filter="url(#b1)"/>
<path d="M111.0 415.0Q117.5 415.0 124.0 415.0" fill="none" stroke="#999" stroke-opacity="0.25" stroke-width="3" stroke-linecap="round" filter="url(#b2)"/>
</g>
<rect x="45.50" y="397.70" width="126.20" height="30.30" fill="none" stroke="#111" stroke-width="1.35"/>
<clipPath id="cp6"><rect x="174.5" y="397.7" width="125.30" height="30.30"/></clipPath>
<rect x="174.50" y="397.70" width="125.30" height="30.30" fill="#d8d8d8" stroke="none" stroke-width="1"/>
<g clip-path="url(#cp6)">
<rect x="174.50" y="397.70" width="125.30" height="30.30" fill="url(#gv)" stroke="none" stroke-width="1"/>
<path d="M184.5 421.6Q189.2 421.9 194.0 421.0" fill="none" stroke="#000" stroke-opacity="1" stroke-width="7.2" stroke-linecap="round" filter="url(#b1)"/>
<path d="M190.0 420.6Q199.5 417.6 209.0 413.0" fill="none" stroke="#000" stroke-opacity="1" stroke-width="5.6" stroke-linecap="round" filter="url(#b1)"/>
<path d="M211.0 413.2Q220.2 414.1 229.5 413.8" fill="none" stroke="#000" stroke-opacity="1" stroke-width="5.4" stroke-linecap="round" filter="url(#b1)"/>
</g>
<rect x="174.50" y="397.70" width="125.30" height="30.30" fill="none" stroke="#111" stroke-width="1.35"/>
<text x="141.80" y="666.59" font-size="8.9" text-anchor="middle" fill="#1a1a1a">MGC803</text>
<text x="258.80" y="666.59" font-size="8.9" text-anchor="middle" fill="#1a1a1a">HGC27</text>
<line x1="97.10" y1="672.30" x2="186.70" y2="672.30" stroke="#111" stroke-width="1.1" stroke-linecap="butt"/>
<line x1="216.10" y1="672.30" x2="306.30" y2="672.30" stroke="#111" stroke-width="1.1" stroke-linecap="butt"/>
<text x="88.70" y="682.49" font-size="8.9" text-anchor="end" fill="#1a1a1a">EF1a-ALDH3A2</text>
<text x="68.60" y="696.19" font-size="8.9" text-anchor="end" fill="#1a1a1a">DMF</text>
<text x="101.70" y="681.88" font-size="7.5" text-anchor="middle" fill="#222">-</text>
<text x="101.70" y="695.48" font-size="7.5" text-anchor="middle" fill="#222">-</text>
<text x="141.80" y="681.88" font-size="7.5" text-anchor="middle" fill="#222">+</text>
<text x="141.80" y="695.48" font-size="7.5" text-anchor="middle" fill="#222">-</text>
<text x="178.30" y="681.88" font-size="7.5" text-anchor="middle" fill="#222">+</text>
<text x="178.30" y="695.48" font-size="7.5" text-anchor="middle" fill="#222">+</text>
<text x="224.30" y="681.88" font-size="7.5" text-anchor="middle" fill="#222">-</text>
<text x="224.30" y="695.48" font-size="7.5" text-anchor="middle" fill="#222">-</text>
<text x="260.80" y="681.88" font-size="7.5" text-anchor="middle" fill="#222">+</text>
<text x="260.80" y="695.48" font-size="7.5" text-anchor="middle" fill="#222">-</text>
<text x="299.10" y="681.88" font-size="7.5" text-anchor="middle" fill="#222">+</text>
<text x="299.10" y="695.48" font-size="7.5" text-anchor="middle" fill="#222">+</text>
<text x="62.00" y="720.49" font-size="8.9" text-anchor="middle" fill="#1a1a1a">LONP1</text>
<text x="62.00" y="769.79" font-size="8.9" text-anchor="middle" fill="#1a1a1a">HSP60</text>
<text x="62.00" y="820.09" font-size="8.9" text-anchor="middle" fill="#1a1a1a">GPX4</text>
<text x="62.00" y="871.19" font-size="8.9" text-anchor="middle" fill="#1a1a1a">β-actin</text>
<text x="106.00" y="745.29" font-size="8.9" text-anchor="middle" fill="#1a1a1a">1.00</text>
<text x="141.30" y="745.29" font-size="8.9" text-anchor="middle" fill="#1a1a1a">0.18</text>
<text x="179.60" y="745.29" font-size="8.9" text-anchor="middle" fill="#1a1a1a">0.47</text>
<text x="227.60" y="745.29" font-size="8.9" text-anchor="middle" fill="#1a1a1a">1.00</text>
<text x="262.90" y="745.29" font-size="8.9" text-anchor="middle" fill="#1a1a1a">0.35</text>
<text x="298.60" y="745.29" font-size="8.9" text-anchor="middle" fill="#1a1a1a">0.72</text>
<text x="106.00" y="797.09" font-size="8.9" text-anchor="middle" fill="#1a1a1a">1.00</text>
<text x="141.30" y="797.09" font-size="8.9" text-anchor="middle" fill="#1a1a1a">0.62</text>
<text x="179.60" y="797.09" font-size="8.9" text-anchor="middle" fill="#1a1a1a">0.81</text>
<text x="227.60" y="797.09" font-size="8.9" text-anchor="middle" fill="#1a1a1a">1.00</text>
<text x="262.90" y="797.09" font-size="8.9" text-anchor="middle" fill="#1a1a1a">0.67</text>
<text x="298.60" y="797.09" font-size="8.9" text-anchor="middle" fill="#1a1a1a">0.87</text>
<text x="106.00" y="847.19" font-size="8.9" text-anchor="middle" fill="#1a1a1a">1.00</text>
<text x="141.30" y="847.19" font-size="8.9" text-anchor="middle" fill="#1a1a1a">0.49</text>
<text x="179.60" y="847.19" font-size="8.9" text-anchor="middle" fill="#1a1a1a">0.94</text>
<text x="227.60" y="847.19" font-size="8.9" text-anchor="middle" fill="#1a1a1a">1.00</text>
<text x="262.90" y="847.19" font-size="8.9" text-anchor="middle" fill="#1a1a1a">0.62</text>
<text x="298.60" y="847.19" font-size="8.9" text-anchor="middle" fill="#1a1a1a">0.96</text>
<clipPath id="cp7"><rect x="83" y="701.7" width="117.30" height="28.20"/></clipPath>
<rect x="83.00" y="701.70" width="117.30" height="28.20" fill="#c0c0c0" stroke="none" stroke-width="1"/>
<g clip-path="url(#cp7)">
<rect x="83.00" y="701.70" width="117.30" height="28.20" fill="url(#gv)" stroke="none" stroke-width="1"/>
<path d="M94.2 717.5Q107.3 717.8 120.4 716.8" fill="none" stroke="#000" stroke-opacity="1" stroke-width="3.4" stroke-linecap="round" filter="url(#b1)"/>
<path d="M129.0 716.6Q141.5 716.5 154.0 716.3" fill="none" stroke="#777" stroke-opacity="0.6" stroke-width="2.0" stroke-linecap="round" filter="url(#b1)"/>
<path d="M163.7 715.9Q177.7 716.0 191.7 715.4" fill="none" stroke="#3a3a3a" stroke-opacity="0.85" stroke-width="2.6" stroke-linecap="round" filter="url(#b1)"/>
</g>
<rect x="83.00" y="701.70" width="117.30" height="28.20" fill="none" stroke="#111" stroke-width="1.35"/>
<clipPath id="cp8"><rect x="203.2" y="701.7" width="117.20" height="28.20"/></clipPath>
<rect x="203.20" y="701.70" width="117.20" height="28.20" fill="#b9b9b9" stroke="none" stroke-width="1"/>
<g clip-path="url(#cp8)">
<rect x="203.20" y="701.70" width="117.20" height="28.20" fill="url(#gv)" stroke="none" stroke-width="1"/>
<path d="M213.3 718.6Q225.8 718.0 238.3 717.4" fill="none" stroke="#000" stroke-opacity="1" stroke-width="6.6" stroke-linecap="round" filter="url(#b1)"/>
<path d="M248.2 716.5Q261.4 716.8 274.7 716.2" fill="none" stroke="#666" stroke-opacity="0.7" stroke-width="2.4" stroke-linecap="round" filter="url(#b1)"/>
<path d="M283.8 715.8Q295.2 718.2 306.6 718.6" fill="none" stroke="#1a1a1a" stroke-opacity="0.95" stroke-width="2.8" stroke-linecap="round" filter="url(#b1)"/>
<path d="M301.6 718.6Q306.2 719.1 310.8 718.4" fill="none" stroke="#000" stroke-opacity="1" stroke-width="5.2" stroke-linecap="round" filter="url(#b1)"/>
</g>
<rect x="203.20" y="701.70" width="117.20" height="28.20" fill="none" stroke="#111" stroke-width="1.35"/>
<clipPath id="cp9"><rect x="83" y="752.8" width="117.30" height="28.20"/></clipPath>
<rect x="83.00" y="752.80" width="117.30" height="28.20" fill="#dddddd" stroke="none" stroke-width="1"/>
<g clip-path="url(#cp9)">
<rect x="83.00" y="752.80" width="117.30" height="28.20" fill="url(#gv)" stroke="none" stroke-width="1"/>
<path d="M91.4 769.2Q105.3 769.2 119.2 766.8" fill="none" stroke="#000" stroke-opacity="1" stroke-width="4.8" stroke-linecap="round" filter="url(#b1)"/>
<path d="M128.9 767.2Q142.4 766.4 155.8 763.6" fill="none" stroke="#1e1e1e" stroke-opacity="0.95" stroke-width="3.8" stroke-linecap="round" filter="url(#b1)"/>
<rect x="128" y="765" width="29.0" height="6.0" rx="2" fill="#666" fill-opacity="0.3" filter="url(#b2)"/>
<path d="M165.5 763.6Q179.9 764.2 194.4 761.6" fill="none" stroke="#000" stroke-opacity="1" stroke-width="4.4" stroke-linecap="round" filter="url(#b1)"/>
</g>
<rect x="83.00" y="752.80" width="117.30" height="28.20" fill="none" stroke="#111" stroke-width="1.35"/>
<clipPath id="cp10"><rect x="203.2" y="752.8" width="117.20" height="28.20"/></clipPath>
<rect x="203.20" y="752.80" width="117.20" height="28.20" fill="#dadada" stroke="none" stroke-width="1"/>
<g clip-path="url(#cp10)">
<rect x="203.20" y="752.80" width="117.20" height="28.20" fill="url(#gv)" stroke="none" stroke-width="1"/>
<path d="M211.8 768.8Q223.7 769.1 235.6 768.6" fill="none" stroke="#000" stroke-opacity="1" stroke-width="6.4" stroke-linecap="round" filter="url(#b1)"/>
<path d="M247.7 768.4Q259.4 768.7 271.2 768.6" fill="none" stroke="#000" stroke-opacity="1" stroke-width="4.8" stroke-linecap="round" filter="url(#b1)"/>
<path d="M282.8 768.2Q295.1 768.3 307.5 767.6" fill="none" stroke="#000" stroke-opacity="1" stroke-width="6.4" stroke-linecap="round" filter="url(#b1)"/>
</g>
<rect x="203.20" y="752.80" width="117.20" height="28.20" fill="none" stroke="#111" stroke-width="1.35"/>
<clipPath id="cp11"><rect x="83" y="804.5" width="117.30" height="28.20"/></clipPath>
<rect x="83.00" y="804.50" width="117.30" height="28.20" fill="#c9c9c9" stroke="none" stroke-width="1"/>
<g clip-path="url(#cp11)">
<rect x="83.00" y="804.50" width="117.30" height="28.20" fill="url(#gv)" stroke="none" stroke-width="1"/>
<path d="M96.9 819.4Q106.3 818.6 115.7 821.4" fill="none" stroke="#0a0a0a" stroke-opacity="1" stroke-width="4.4" stroke-linecap="round" filter="url(#b1)"/>
<path d="M127.0 820.4Q137.8 820.4 148.6 820.0" fill="none" stroke="#444" stroke-opacity="0.85" stroke-width="3.4" stroke-linecap="round" filter="url(#b1)"/>
<path d="M162.5 820.4Q174.8 817.2 187.2 817.6" fill="none" stroke="#151515" stroke-opacity="1" stroke-width="4.0" stroke-linecap="round" filter="url(#b1)"/>
</g>
<rect x="83.00" y="804.50" width="117.30" height="28.20" fill="none" stroke="#111" stroke-width="1.35"/>
<clipPath id="cp12"><rect x="203.2" y="804.5" width="117.20" height="28.20"/></clipPath>
<rect x="203.20" y="804.50" width="117.20" height="28.20" fill="#cfcfcf" stroke="none" stroke-width="1"/>
<g clip-path="url(#cp12)">
<rect x="203.20" y="804.50" width="117.20" height="28.20" fill="url(#gv)" stroke="none" stroke-width="1"/>
<path d="M215.2 819.0Q226.9 817.0 238.6 819.0" fill="none" stroke="#000" stroke-opacity="1" stroke-width="4.8" stroke-linecap="round" filter="url(#b1)"/>
<path d="M236.9 819.2Q240.0 820.9 243.1 822.6" fill="none" stroke="#222" stroke-opacity="0.8" stroke-width="1.8" stroke-linecap="round" filter="url(#b1)"/>
<path d="M253.4 819.2Q266.1 820.8 278.9 819.6" fill="none" stroke="#222" stroke-opacity="0.95" stroke-width="3.2" stroke-linecap="round" filter="url(#b1)"/>
<path d="M287.5 819.8Q299.0 819.3 310.5 819.6" fill="none" stroke="#000" stroke-opacity="1" stroke-width="4.8" stroke-linecap="round" filter="url(#b1)"/>
</g>
<rect x="203.20" y="804.50" width="117.20" height="28.20" fill="none" stroke="#111" stroke-width="1.35"/>
<clipPath id="cp13"><rect x="83" y="855" width="117.30" height="28.50"/></clipPath>
<rect x="83.00" y="855.00" width="117.30" height="28.50" fill="#9c9c9c" stroke="none" stroke-width="1"/>
<g clip-path="url(#cp13)">
<rect x="83.00" y="855.00" width="117.30" height="28.50" fill="url(#gv)" stroke="none" stroke-width="1"/>
<path d="M91.6 867.0Q103.0 869.4 114.5 867.0" fill="none" stroke="#000" stroke-opacity="1" stroke-width="6.8" stroke-linecap="round" filter="url(#b1)"/>
<path d="M127.7 867.2Q141.0 869.7 154.3 867.0" fill="none" stroke="#000" stroke-opacity="1" stroke-width="6.8" stroke-linecap="round" filter="url(#b1)"/>
<path d="M165.4 867.4Q179.5 868.4 193.6 865.4" fill="none" stroke="#000" stroke-opacity="1" stroke-width="6.0" stroke-linecap="round" filter="url(#b1)"/>
</g>
<rect x="83.00" y="855.00" width="117.30" height="28.50" fill="none" stroke="#111" stroke-width="1.35"/>
<clipPath id="cp14"><rect x="203.2" y="855" width="117.20" height="28.50"/></clipPath>
<rect x="203.20" y="855.00" width="117.20" height="28.50" fill="#747474" stroke="none" stroke-width="1"/>
<g clip-path="url(#cp14)">
<rect x="203.20" y="855.00" width="117.20" height="28.50" fill="url(#gv)" stroke="none" stroke-width="1"/>
<path d="M211.9 870.2Q224.9 870.9 237.9 870.0" fill="none" stroke="#000" stroke-opacity="1" stroke-width="7.4" stroke-linecap="round" filter="url(#b1)"/>
<path d="M247.6 869.6Q261.4 871.5 275.3 870.2" fill="none" stroke="#000" stroke-opacity="1" stroke-width="6.6" stroke-linecap="round" filter="url(#b1)"/>
<path d="M285.5 869.6Q299.1 869.5 312.6 866.6" fill="none" stroke="#000" stroke-opacity="1" stroke-width="6.2" stroke-linecap="round" filter="url(#b1)"/>
</g>
<rect x="203.20" y="855.00" width="117.20" height="28.50" fill="none" stroke="#111" stroke-width="1.35"/>
<text x="444.00" y="227.39" font-size="8.9" text-anchor="middle" fill="#1a1a1a">MGC803</text>
<text x="444.00" y="347.59" font-size="8.9" text-anchor="middle" fill="#1a1a1a">HGC27</text>
<line x1="383.00" y1="233.60" x2="500.90" y2="233.60" stroke="#111" stroke-width="1.1" stroke-linecap="butt"/>
<line x1="383.00" y1="354.40" x2="500.90" y2="354.40" stroke="#111" stroke-width="1.1" stroke-linecap="butt"/>
<text x="389.40" y="245.09" font-size="8.9" text-anchor="middle" fill="#1a1a1a">NRF2</text>
<text x="389.40" y="366.49" font-size="8.9" text-anchor="middle" fill="#1a1a1a">NRF2</text>
<text x="442.10" y="245.09" font-size="8.9" text-anchor="middle" fill="#1a1a1a">DAPI</text>
<text x="442.10" y="366.49" font-size="8.9" text-anchor="middle" fill="#1a1a1a">DAPI</text>
<text x="495.30" y="245.09" font-size="8.9" text-anchor="middle" fill="#1a1a1a">Merge</text>
<text x="495.30" y="366.49" font-size="8.9" text-anchor="middle" fill="#1a1a1a">Merge</text>
<text x="351.10" y="275.09" font-size="8.9" text-anchor="middle" fill="#1a1a1a" transform="rotate(-90 351.10 271.90)">Con</text>
<text x="351.10" y="394.19" font-size="8.9" text-anchor="middle" fill="#1a1a1a" transform="rotate(-90 351.10 391.00)">Con</text>
<text x="346.90" y="316.69" font-size="8.9" text-anchor="middle" fill="#1a1a1a" transform="rotate(-90 346.90 313.50)">EF1a-</text>
<text x="357.00" y="316.69" font-size="8.9" text-anchor="middle" fill="#1a1a1a" transform="rotate(-90 357.00 313.50)">ALDH3A2</text>
<text x="346.90" y="437.19" font-size="8.9" text-anchor="middle" fill="#1a1a1a" transform="rotate(-90 346.90 434.00)">EF1a-</text>
<text x="357.00" y="437.19" font-size="8.9" text-anchor="middle" fill="#1a1a1a" transform="rotate(-90 357.00 434.00)">ALDH3A2</text>
<clipPath id="cp15"><rect x="363.6" y="248.3" width="51.3" height="41.6"/></clipPath>
<rect x="363.60" y="248.30" width="51.30" height="41.60" fill="#000" stroke="none" stroke-width="1"/>
<g clip-path="url(#cp15)">
<ellipse cx="384.4" cy="268.4" rx="5.9" ry="7.4" fill="#35dc2c" fill-opacity="1" filter="url(#c1)" transform="rotate(18 384.4 268.4)"/>
<g fill="#9cff6a" filter="url(#c1)"><circle cx="383.3" cy="268.4" r="0.67" fill-opacity="0.58"/><circle cx="383.6" cy="268.9" r="0.37" fill-opacity="0.61"/><circle cx="383.9" cy="271.6" r="0.34" fill-opacity="0.48"/><circle cx="384.8" cy="269.6" r="0.36" fill-opacity="0.31"/><circle cx="385.8" cy="263.0" r="0.38" fill-opacity="0.45"/><circle cx="382.1" cy="271.6" r="0.51" fill-opacity="0.68"/><circle cx="383.3" cy="269.8" r="0.48" fill-opacity="0.47"/><circle cx="386.0" cy="271.2" r="0.43" fill-opacity="0.44"/><circle cx="386.5" cy="267.5" r="0.64" fill-opacity="0.53"/><circle cx="387.5" cy="268.7" r="0.69" fill-opacity="0.54"/><circle cx="379.8" cy="268.2" r="0.61" fill-opacity="0.46"/><circle cx="381.0" cy="264.8" r="0.69" fill-opacity="0.75"/><circle cx="381.6" cy="263.9" r="0.34" fill-opacity="0.34"/><circle cx="387.6" cy="265.0" r="0.52" fill-opacity="0.57"/><circle cx="380.4" cy="269.7" r="0.35" fill-opacity="0.69"/><circle cx="380.9" cy="265.9" r="0.39" fill-opacity="0.46"/><circle cx="380.8" cy="271.7" r="0.38" fill-opacity="0.54"/><circle cx="386.4" cy="270.5" r="0.34" fill-opacity="0.89"/><circle cx="382.3" cy="264.3" r="0.61" fill-opacity="0.50"/><circle cx="380.1" cy="267.7" r="0.40" fill-opacity="0.66"/><circle cx="383.0" cy="267.0" r="0.68" fill-opacity="0.59"/><circle cx="383.2" cy="272.3" r="0.37" fill-opacity="0.39"/><circle cx="382.9" cy="263.7" r="0.60" fill-opacity="0.86"/><circle cx="386.8" cy="270.1" r="0.47" fill-opacity="0.36"/><circle cx="380.9" cy="269.5" r="0.40" fill-opacity="0.79"/></g>
</g>
<clipPath id="cp16"><rect x="417.0" y="248.3" width="51.3" height="41.6"/></clipPath>
<rect x="417.00" y="248.30" width="51.30" height="41.60" fill="#000" stroke="none" stroke-width="1"/>
<g clip-path="url(#cp16)">
<ellipse cx="438.2" cy="268.4" rx="6.2" ry="7.5" fill="#1c22ff" fill-opacity="1" filter="url(#c1)" transform="rotate(18 438.2 268.4)"/>
<line x1="437.50" y1="261.40" x2="437.00" y2="256.60" stroke="#1c22ff" stroke-width="0.8" stroke-linecap="butt"/>
</g>
<clipPath id="cp17"><rect x="470.3" y="248.3" width="51.3" height="41.6"/></clipPath>
<rect x="470.30" y="248.30" width="51.30" height="41.60" fill="#000" stroke="none" stroke-width="1"/>
<g clip-path="url(#cp17)">
<line x1="490.80" y1="261.40" x2="490.30" y2="256.60" stroke="#2a40ff" stroke-width="0.8" stroke-linecap="butt"/>
<ellipse cx="491.4" cy="268.4" rx="6.1" ry="7.5" fill="#2a50ff" fill-opacity="1" filter="url(#c1)" transform="rotate(18 491.4 268.4)"/>
<ellipse cx="490.5" cy="268.0" rx="4.9" ry="6.6" fill="#45e0e8" fill-opacity="0.92" filter="url(#c1)" transform="rotate(18 490.5 268.0)"/>
<ellipse cx="493.7" cy="269.9" rx="2.2" ry="4.6" fill="#2f62ff" fill-opacity="0.55" filter="url(#c2)" transform="rotate(18 493.7 269.9)"/>
</g>
<clipPath id="cp18"><rect x="363.6" y="292.2" width="51.3" height="41.6"/></clipPath>
<rect x="363.60" y="292.20" width="51.30" height="41.60" fill="#000" stroke="none" stroke-width="1"/>
<g clip-path="url(#cp18)">
<path d="M371.0 328.5 Q372.0 316 379.0 311.5 Q385.5 315 391.0 310.5 Q399.0 315 401.0 328.5 Q386.0 331 371.0 328.5Z" fill="#1f8a1c" fill-opacity="0.36" filter="url(#c2)"/>
<ellipse cx="380.6" cy="320.8" rx="4.6" ry="5.2" fill="#000" fill-opacity="0.75" filter="url(#c2)" transform="rotate(0 380.6 320.8)"/>
<ellipse cx="391.4" cy="318.8" rx="4.4" ry="5.3" fill="#000" fill-opacity="0.75" filter="url(#c2)" transform="rotate(0 391.4 318.8)"/>
<g fill="#3fcf30" filter="url(#c1)"><circle cx="383.9" cy="328.2" r="0.33" fill-opacity="0.31"/><circle cx="374.0" cy="319.0" r="0.41" fill-opacity="0.66"/><circle cx="382.1" cy="327.2" r="0.41" fill-opacity="0.42"/><circle cx="385.9" cy="323.9" r="0.45" fill-opacity="0.49"/><circle cx="384.9" cy="326.5" r="0.66" fill-opacity="0.69"/><circle cx="376.8" cy="315.7" r="0.36" fill-opacity="0.22"/><circle cx="388.5" cy="322.5" r="0.58" fill-opacity="0.68"/><circle cx="387.6" cy="322.6" r="0.49" fill-opacity="0.57"/><circle cx="377.2" cy="328.9" r="0.33" fill-opacity="0.47"/><circle cx="380.0" cy="314.2" r="0.58" fill-opacity="0.60"/><circle cx="386.8" cy="317.9" r="0.66" fill-opacity="0.64"/><circle cx="374.0" cy="325.3" r="0.65" fill-opacity="0.49"/><circle cx="375.7" cy="316.6" r="0.54" fill-opacity="0.24"/><circle cx="375.6" cy="315.7" r="0.59" fill-opacity="0.39"/><circle cx="380.0" cy="314.9" r="0.64" fill-opacity="0.24"/><circle cx="375.9" cy="317.9" r="0.58" fill-opacity="0.45"/><circle cx="376.1" cy="317.4" r="0.30" fill-opacity="0.35"/><circle cx="384.4" cy="328.4" r="0.56" fill-opacity="0.42"/><circle cx="386.2" cy="317.0" r="0.38" fill-opacity="0.42"/><circle cx="383.3" cy="314.3" r="0.45" fill-opacity="0.49"/><circle cx="378.3" cy="327.2" r="0.50" fill-opacity="0.62"/><circle cx="385.3" cy="315.2" r="0.41" fill-opacity="0.28"/><circle cx="374.9" cy="323.6" r="0.39" fill-opacity="0.41"/><circle cx="376.3" cy="317.0" r="0.64" fill-opacity="0.69"/><circle cx="375.4" cy="323.4" r="0.31" fill-opacity="0.64"/><circle cx="387.7" cy="323.5" r="0.53" fill-opacity="0.35"/><circle cx="384.9" cy="326.7" r="0.31" fill-opacity="0.61"/><circle cx="381.0" cy="327.7" r="0.32" fill-opacity="0.51"/><circle cx="373.9" cy="324.0" r="0.56" fill-opacity="0.60"/><circle cx="386.2" cy="320.0" r="0.49" fill-opacity="0.29"/><circle cx="387.2" cy="322.1" r="0.59" fill-opacity="0.29"/><circle cx="379.7" cy="328.1" r="0.58" fill-opacity="0.46"/><circle cx="375.8" cy="317.2" r="0.62" fill-opacity="0.65"/><circle cx="387.4" cy="325.7" r="0.59" fill-opacity="0.26"/><circle cx="373.8" cy="323.7" r="0.66" fill-opacity="0.39"/><circle cx="373.7" cy="318.4" r="0.68" fill-opacity="0.43"/><circle cx="379.4" cy="314.5" r="0.59" fill-opacity="0.31"/><circle cx="387.2" cy="316.9" r="0.51" fill-opacity="0.60"/><circle cx="377.2" cy="328.7" r="0.64" fill-opacity="0.37"/><circle cx="386.3" cy="325.0" r="0.52" fill-opacity="0.58"/><circle cx="375.3" cy="322.1" r="0.62" fill-opacity="0.23"/><circle cx="376.7" cy="328.1" r="0.36" fill-opacity="0.27"/><circle cx="372.9" cy="320.8" r="0.58" fill-opacity="0.67"/><circle cx="372.6" cy="322.0" r="0.33" fill-opacity="0.31"/><circle cx="379.7" cy="314.7" r="0.64" fill-opacity="0.48"/><circle cx="378.2" cy="327.7" r="0.64" fill-opacity="0.65"/><circle cx="382.6" cy="329.0" r="0.69" fill-opacity="0.46"/><circle cx="373.8" cy="320.0" r="0.31" fill-opacity="0.68"/><circle cx="383.7" cy="319.2" r="0.53" fill-opacity="0.45"/><circle cx="383.4" cy="318.0" r="0.67" fill-opacity="0.33"/><circle cx="386.0" cy="321.0" r="0.47" fill-opacity="0.61"/><circle cx="396.3" cy="316.1" r="0.38" fill-opacity="0.51"/><circle cx="393.4" cy="326.0" r="0.57" fill-opacity="0.36"/><circle cx="387.0" cy="325.9" r="0.34" fill-opacity="0.57"/><circle cx="396.2" cy="325.0" r="0.40" fill-opacity="0.30"/><circle cx="385.2" cy="318.7" r="0.47" fill-opacity="0.46"/><circle cx="394.5" cy="325.4" r="0.55" fill-opacity="0.52"/><circle cx="384.4" cy="318.6" r="0.64" fill-opacity="0.32"/><circle cx="390.9" cy="311.7" r="0.43" fill-opacity="0.36"/><circle cx="396.9" cy="319.9" r="0.40" fill-opacity="0.56"/><circle cx="391.1" cy="326.1" r="0.63" fill-opacity="0.41"/><circle cx="385.4" cy="324.4" r="0.31" fill-opacity="0.30"/><circle cx="388.0" cy="312.2" r="0.35" fill-opacity="0.45"/><circle cx="391.8" cy="312.3" r="0.38" fill-opacity="0.24"/><circle cx="395.4" cy="323.7" r="0.52" fill-opacity="0.46"/><circle cx="393.7" cy="325.8" r="0.64" fill-opacity="0.70"/><circle cx="399.0" cy="323.2" r="0.48" fill-opacity="0.58"/><circle cx="388.3" cy="326.3" r="0.51" fill-opacity="0.42"/><circle cx="389.7" cy="314.0" r="0.48" fill-opacity="0.57"/><circle cx="386.7" cy="323.6" r="0.37" fill-opacity="0.46"/><circle cx="399.4" cy="320.8" r="0.62" fill-opacity="0.55"/><circle cx="395.5" cy="314.7" r="0.54" fill-opacity="0.45"/><circle cx="397.2" cy="319.3" r="0.66" fill-opacity="0.57"/><circle cx="392.5" cy="313.2" r="0.66" fill-opacity="0.64"/><circle cx="388.8" cy="312.5" r="0.46" fill-opacity="0.56"/><circle cx="397.0" cy="322.9" r="0.49" fill-opacity="0.21"/><circle cx="387.0" cy="326.0" r="0.55" fill-opacity="0.32"/><circle cx="397.2" cy="317.7" r="0.56" fill-opacity="0.48"/><circle cx="383.2" cy="318.2" r="0.56" fill-opacity="0.55"/><circle cx="391.8" cy="314.2" r="0.55" fill-opacity="0.57"/><circle cx="391.1" cy="326.9" r="0.32" fill-opacity="0.30"/><circle cx="387.6" cy="324.3" r="0.40" fill-opacity="0.65"/><circle cx="383.5" cy="317.4" r="0.53" fill-opacity="0.70"/><circle cx="388.0" cy="315.4" r="0.54" fill-opacity="0.58"/><circle cx="399.2" cy="322.4" r="0.36" fill-opacity="0.44"/><circle cx="394.7" cy="326.3" r="0.54" fill-opacity="0.23"/><circle cx="397.8" cy="317.5" r="0.54" fill-opacity="0.38"/><circle cx="389.8" cy="327.4" r="0.52" fill-opacity="0.34"/><circle cx="397.2" cy="320.6" r="0.32" fill-opacity="0.28"/><circle cx="391.6" cy="311.7" r="0.60" fill-opacity="0.23"/><circle cx="396.6" cy="319.6" r="0.66" fill-opacity="0.41"/><circle cx="383.2" cy="321.2" r="0.40" fill-opacity="0.46"/><circle cx="397.5" cy="317.3" r="0.69" fill-opacity="0.61"/><circle cx="387.4" cy="315.5" r="0.32" fill-opacity="0.46"/><circle cx="396.0" cy="325.0" r="0.57" fill-opacity="0.43"/><circle cx="390.9" cy="327.4" r="0.47" fill-opacity="0.59"/></g>
</g>
<clipPath id="cp19"><rect x="417.0" y="292.2" width="51.3" height="41.6"/></clipPath>
<rect x="417.00" y="292.20" width="51.30" height="41.60" fill="#000" stroke="none" stroke-width="1"/>
<g clip-path="url(#cp19)">
<ellipse cx="434.0" cy="320.8" rx="5.6" ry="6.3" fill="#1c22ff" fill-opacity="1" filter="url(#c1)" transform="rotate(-8 434.0 320.8)"/>
<ellipse cx="444.8" cy="318.8" rx="5.3" ry="6.5" fill="#1c22ff" fill-opacity="1" filter="url(#c1)" transform="rotate(12 444.8 318.8)"/>
</g>
<clipPath id="cp20"><rect x="470.3" y="292.2" width="51.3" height="41.6"/></clipPath>
<rect x="470.30" y="292.20" width="51.30" height="41.60" fill="#000" stroke="none" stroke-width="1"/>
<g clip-path="url(#cp20)">
<path d="M477.7 328.5 Q478.7 316 485.7 311.5 Q492.2 315 497.7 310.5 Q505.7 315 507.7 328.5 Q492.7 331 477.7 328.5Z" fill="#1f8a1c" fill-opacity="0.36" filter="url(#c2)"/>
<g fill="#3fcf30" filter="url(#c1)"><circle cx="479.4" cy="320.1" r="0.59" fill-opacity="0.32"/><circle cx="493.2" cy="326.7" r="0.61" fill-opacity="0.51"/><circle cx="483.5" cy="326.6" r="0.57" fill-opacity="0.48"/><circle cx="481.0" cy="317.5" r="0.38" fill-opacity="0.32"/><circle cx="495.1" cy="320.6" r="0.32" fill-opacity="0.23"/><circle cx="486.5" cy="328.3" r="0.55" fill-opacity="0.25"/><circle cx="493.5" cy="325.4" r="0.52" fill-opacity="0.52"/><circle cx="482.7" cy="326.5" r="0.38" fill-opacity="0.37"/><circle cx="487.1" cy="315.6" r="0.35" fill-opacity="0.60"/><circle cx="483.1" cy="317.2" r="0.47" fill-opacity="0.33"/><circle cx="489.9" cy="314.9" r="0.70" fill-opacity="0.36"/><circle cx="479.7" cy="319.2" r="0.47" fill-opacity="0.38"/><circle cx="493.7" cy="326.0" r="0.33" fill-opacity="0.24"/><circle cx="480.6" cy="318.7" r="0.42" fill-opacity="0.59"/><circle cx="492.5" cy="324.5" r="0.56" fill-opacity="0.24"/><circle cx="484.9" cy="328.6" r="0.58" fill-opacity="0.34"/><circle cx="491.2" cy="326.8" r="0.59" fill-opacity="0.38"/><circle cx="492.7" cy="326.5" r="0.53" fill-opacity="0.66"/><circle cx="493.4" cy="319.1" r="0.62" fill-opacity="0.35"/><circle cx="484.7" cy="327.7" r="0.67" fill-opacity="0.65"/><circle cx="487.4" cy="328.2" r="0.45" fill-opacity="0.38"/><circle cx="482.3" cy="325.7" r="0.38" fill-opacity="0.48"/><circle cx="489.5" cy="314.3" r="0.53" fill-opacity="0.29"/><circle cx="487.6" cy="315.2" r="0.31" fill-opacity="0.46"/><circle cx="479.5" cy="319.4" r="0.56" fill-opacity="0.60"/><circle cx="493.6" cy="324.3" r="0.62" fill-opacity="0.24"/><circle cx="493.8" cy="325.2" r="0.66" fill-opacity="0.24"/><circle cx="487.1" cy="315.3" r="0.39" fill-opacity="0.58"/><circle cx="481.0" cy="320.7" r="0.44" fill-opacity="0.68"/><circle cx="484.1" cy="315.4" r="0.59" fill-opacity="0.55"/><circle cx="493.9" cy="317.7" r="0.57" fill-opacity="0.63"/><circle cx="490.0" cy="314.3" r="0.68" fill-opacity="0.52"/><circle cx="479.8" cy="320.5" r="0.47" fill-opacity="0.41"/><circle cx="491.8" cy="327.5" r="0.70" fill-opacity="0.39"/><circle cx="490.2" cy="327.0" r="0.47" fill-opacity="0.35"/><circle cx="485.3" cy="327.2" r="0.56" fill-opacity="0.59"/><circle cx="489.6" cy="327.0" r="0.48" fill-opacity="0.49"/><circle cx="491.8" cy="325.5" r="0.39" fill-opacity="0.32"/><circle cx="486.1" cy="315.4" r="0.37" fill-opacity="0.34"/><circle cx="490.8" cy="328.2" r="0.42" fill-opacity="0.47"/><circle cx="489.7" cy="315.8" r="0.65" fill-opacity="0.66"/><circle cx="483.6" cy="327.5" r="0.68" fill-opacity="0.44"/><circle cx="488.3" cy="327.4" r="0.68" fill-opacity="0.60"/><circle cx="482.2" cy="326.2" r="0.51" fill-opacity="0.34"/><circle cx="493.2" cy="321.2" r="0.30" fill-opacity="0.44"/><circle cx="482.1" cy="327.1" r="0.59" fill-opacity="0.50"/><circle cx="490.4" cy="326.7" r="0.43" fill-opacity="0.33"/><circle cx="492.1" cy="316.3" r="0.70" fill-opacity="0.33"/><circle cx="501.5" cy="312.7" r="0.33" fill-opacity="0.33"/><circle cx="491.6" cy="320.9" r="0.68" fill-opacity="0.49"/><circle cx="502.9" cy="313.7" r="0.47" fill-opacity="0.66"/><circle cx="504.7" cy="324.4" r="0.38" fill-opacity="0.47"/><circle cx="501.1" cy="314.2" r="0.33" fill-opacity="0.35"/><circle cx="490.8" cy="321.6" r="0.44" fill-opacity="0.54"/><circle cx="503.1" cy="324.3" r="0.48" fill-opacity="0.68"/><circle cx="500.5" cy="314.9" r="0.45" fill-opacity="0.56"/><circle cx="498.6" cy="327.4" r="0.48" fill-opacity="0.21"/><circle cx="503.8" cy="319.7" r="0.55" fill-opacity="0.35"/><circle cx="493.2" cy="325.1" r="0.42" fill-opacity="0.37"/><circle cx="492.4" cy="324.8" r="0.40" fill-opacity="0.30"/><circle cx="497.1" cy="311.6" r="0.53" fill-opacity="0.56"/><circle cx="494.3" cy="327.1" r="0.34" fill-opacity="0.27"/><circle cx="504.2" cy="324.3" r="0.58" fill-opacity="0.29"/><circle cx="491.7" cy="324.7" r="0.54" fill-opacity="0.25"/><circle cx="498.9" cy="326.2" r="0.35" fill-opacity="0.40"/><circle cx="505.4" cy="323.7" r="0.47" fill-opacity="0.46"/><circle cx="493.4" cy="313.5" r="0.45" fill-opacity="0.37"/><circle cx="493.8" cy="323.1" r="0.46" fill-opacity="0.55"/><circle cx="505.3" cy="319.1" r="0.54" fill-opacity="0.21"/><circle cx="495.1" cy="325.9" r="0.56" fill-opacity="0.25"/><circle cx="493.3" cy="325.0" r="0.62" fill-opacity="0.61"/><circle cx="498.8" cy="312.7" r="0.44" fill-opacity="0.45"/><circle cx="502.8" cy="326.1" r="0.69" fill-opacity="0.46"/><circle cx="496.9" cy="313.8" r="0.68" fill-opacity="0.51"/><circle cx="499.8" cy="325.7" r="0.40" fill-opacity="0.49"/><circle cx="495.4" cy="312.1" r="0.44" fill-opacity="0.43"/><circle cx="504.0" cy="326.0" r="0.35" fill-opacity="0.65"/><circle cx="491.5" cy="318.0" r="0.41" fill-opacity="0.65"/><circle cx="505.1" cy="319.6" r="0.35" fill-opacity="0.61"/><circle cx="496.2" cy="328.1" r="0.40" fill-opacity="0.49"/><circle cx="503.6" cy="321.3" r="0.69" fill-opacity="0.67"/><circle cx="494.1" cy="313.6" r="0.60" fill-opacity="0.39"/><circle cx="493.9" cy="316.8" r="0.38" fill-opacity="0.43"/><circle cx="502.0" cy="325.4" r="0.53" fill-opacity="0.29"/><circle cx="491.6" cy="316.9" r="0.32" fill-opacity="0.54"/><circle cx="503.2" cy="326.7" r="0.54" fill-opacity="0.43"/><circle cx="492.1" cy="324.0" r="0.58" fill-opacity="0.58"/><circle cx="498.2" cy="311.4" r="0.64" fill-opacity="0.63"/><circle cx="492.7" cy="323.8" r="0.53" fill-opacity="0.65"/><circle cx="491.7" cy="318.9" r="0.66" fill-opacity="0.36"/><circle cx="505.1" cy="322.6" r="0.66" fill-opacity="0.57"/><circle cx="493.2" cy="316.2" r="0.54" fill-opacity="0.23"/><circle cx="502.7" cy="325.0" r="0.50" fill-opacity="0.40"/><circle cx="505.1" cy="322.5" r="0.51" fill-opacity="0.32"/><circle cx="495.9" cy="326.5" r="0.39" fill-opacity="0.23"/><circle cx="504.3" cy="315.9" r="0.65" fill-opacity="0.41"/></g>
<ellipse cx="487.3" cy="320.8" rx="5.6" ry="6.3" fill="#1c22ff" fill-opacity="1" filter="url(#c1)" transform="rotate(-8 487.3 320.8)"/>
<ellipse cx="498.1" cy="318.8" rx="5.3" ry="6.5" fill="#1c22ff" fill-opacity="1" filter="url(#c1)" transform="rotate(12 498.1 318.8)"/>
</g>
<clipPath id="cp21"><rect x="363.6" y="369.0" width="51.3" height="41.6"/></clipPath>
<rect x="363.60" y="369.00" width="51.30" height="41.60" fill="#000" stroke="none" stroke-width="1"/>
<g clip-path="url(#cp21)">
<ellipse cx="382.9" cy="384.1" rx="6.3" ry="4.2" fill="#2fc828" fill-opacity="0.95" filter="url(#c1)" transform="rotate(-15 382.9 384.1)"/>
<ellipse cx="380.5" cy="397.3" rx="4.5" ry="5.6" fill="#2bb424" fill-opacity="0.9" filter="url(#c1)" transform="rotate(25 380.5 397.3)"/>
<g fill="#8cff5c" filter="url(#c1)"><circle cx="385.7" cy="381.3" r="0.60" fill-opacity="0.64"/><circle cx="384.1" cy="387.1" r="0.30" fill-opacity="0.45"/><circle cx="380.4" cy="383.5" r="0.33" fill-opacity="0.84"/><circle cx="386.1" cy="382.5" r="0.44" fill-opacity="0.65"/><circle cx="386.9" cy="381.6" r="0.50" fill-opacity="0.86"/><circle cx="379.3" cy="383.5" r="0.67" fill-opacity="0.84"/><circle cx="380.2" cy="387.3" r="0.44" fill-opacity="0.58"/><circle cx="383.8" cy="381.6" r="0.65" fill-opacity="0.33"/><circle cx="379.1" cy="386.8" r="0.43" fill-opacity="0.84"/><circle cx="387.3" cy="384.5" r="0.35" fill-opacity="0.72"/><circle cx="387.5" cy="382.4" r="0.33" fill-opacity="0.43"/><circle cx="381.2" cy="386.1" r="0.38" fill-opacity="0.41"/><circle cx="380.3" cy="386.0" r="0.62" fill-opacity="0.52"/><circle cx="385.4" cy="386.3" r="0.54" fill-opacity="0.44"/><circle cx="384.3" cy="382.1" r="0.56" fill-opacity="0.35"/><circle cx="383.3" cy="384.2" r="0.32" fill-opacity="0.66"/><circle cx="380.1" cy="383.0" r="0.62" fill-opacity="0.35"/><circle cx="381.1" cy="386.5" r="0.40" fill-opacity="0.47"/><circle cx="382.8" cy="381.8" r="0.66" fill-opacity="0.89"/><circle cx="385.4" cy="382.6" r="0.67" fill-opacity="0.60"/><circle cx="379.5" cy="385.4" r="0.56" fill-opacity="0.52"/><circle cx="385.1" cy="385.6" r="0.51" fill-opacity="0.60"/><circle cx="387.0" cy="384.4" r="0.51" fill-opacity="0.87"/><circle cx="379.9" cy="387.0" r="0.37" fill-opacity="0.66"/><circle cx="379.9" cy="384.5" r="0.61" fill-opacity="0.77"/><circle cx="385.6" cy="381.4" r="0.50" fill-opacity="0.43"/><circle cx="383.8" cy="383.9" r="0.31" fill-opacity="0.66"/><circle cx="385.4" cy="384.0" r="0.65" fill-opacity="0.41"/><circle cx="382.7" cy="383.7" r="0.48" fill-opacity="0.46"/><circle cx="387.4" cy="383.4" r="0.52" fill-opacity="0.77"/></g>
<g fill="#7df052" filter="url(#c1)"><circle cx="380.2" cy="393.3" r="0.42" fill-opacity="0.33"/><circle cx="378.7" cy="397.8" r="0.51" fill-opacity="0.46"/><circle cx="382.8" cy="393.9" r="0.63" fill-opacity="0.40"/><circle cx="380.2" cy="393.5" r="0.58" fill-opacity="0.80"/><circle cx="380.4" cy="395.8" r="0.39" fill-opacity="0.88"/><circle cx="377.4" cy="395.7" r="0.60" fill-opacity="0.89"/><circle cx="378.2" cy="395.8" r="0.60" fill-opacity="0.32"/><circle cx="378.5" cy="395.2" r="0.42" fill-opacity="0.55"/><circle cx="383.2" cy="395.7" r="0.40" fill-opacity="0.63"/><circle cx="378.9" cy="396.1" r="0.67" fill-opacity="0.52"/><circle cx="379.2" cy="398.3" r="0.32" fill-opacity="0.51"/><circle cx="380.3" cy="401.2" r="0.54" fill-opacity="0.83"/><circle cx="380.7" cy="396.2" r="0.64" fill-opacity="0.53"/><circle cx="383.6" cy="395.7" r="0.44" fill-opacity="0.41"/><circle cx="382.2" cy="394.5" r="0.38" fill-opacity="0.43"/><circle cx="381.1" cy="395.5" r="0.48" fill-opacity="0.90"/><circle cx="380.2" cy="401.1" r="0.38" fill-opacity="0.53"/><circle cx="380.5" cy="394.9" r="0.31" fill-opacity="0.41"/><circle cx="379.3" cy="395.6" r="0.67" fill-opacity="0.73"/><circle cx="379.5" cy="395.3" r="0.36" fill-opacity="0.86"/><circle cx="378.4" cy="399.2" r="0.59" fill-opacity="0.84"/><circle cx="381.4" cy="393.2" r="0.65" fill-opacity="0.50"/><circle cx="382.3" cy="398.3" r="0.32" fill-opacity="0.54"/><circle cx="377.7" cy="397.0" r="0.31" fill-opacity="0.49"/><circle cx="379.8" cy="397.4" r="0.35" fill-opacity="0.72"/><circle cx="377.9" cy="398.5" r="0.57" fill-opacity="0.39"/></g>
<g fill="#0a3a08" filter="url(#c1)"><circle cx="379.4" cy="394.4" r="0.61" fill-opacity="0.54"/><circle cx="378.2" cy="400.2" r="0.47" fill-opacity="0.48"/><circle cx="380.6" cy="394.3" r="0.41" fill-opacity="0.31"/><circle cx="381.1" cy="398.3" r="0.64" fill-opacity="0.89"/><circle cx="378.4" cy="398.2" r="0.68" fill-opacity="0.43"/><circle cx="381.1" cy="399.4" r="0.69" fill-opacity="0.82"/><circle cx="378.1" cy="397.6" r="0.43" fill-opacity="0.56"/><circle cx="381.6" cy="393.0" r="0.52" fill-opacity="0.50"/><circle cx="381.4" cy="395.3" r="0.45" fill-opacity="0.54"/><circle cx="381.7" cy="394.3" r="0.60" fill-opacity="0.44"/></g>
</g>
<clipPath id="cp22"><rect x="417.0" y="369.0" width="51.3" height="41.6"/></clipPath>
<rect x="417.00" y="369.00" width="51.30" height="41.60" fill="#000" stroke="none" stroke-width="1"/>
<g clip-path="url(#cp22)">
<ellipse cx="436.3" cy="384.1" rx="5.6" ry="3.9" fill="#1c22ff" fill-opacity="0.95" filter="url(#c1)" transform="rotate(-15 436.3 384.1)"/>
<ellipse cx="433.9" cy="397.3" rx="3.9" ry="5.0" fill="#1a20d8" fill-opacity="0.9" filter="url(#c1)" transform="rotate(25 433.9 397.3)"/>
<ellipse cx="437.3" cy="383.6" rx="1.1" ry="0.9" fill="#000" fill-opacity="0.6" filter="url(#c1)" transform="rotate(0 437.3 383.6)"/>
</g>
<clipPath id="cp23"><rect x="470.3" y="369.0" width="51.3" height="41.6"/></clipPath>
<rect x="470.30" y="369.00" width="51.30" height="41.60" fill="#000" stroke="none" stroke-width="1"/>
<g clip-path="url(#cp23)">
<ellipse cx="489.6" cy="384.1" rx="6.1" ry="4.1" fill="#2aa6b8" fill-opacity="0.95" filter="url(#c1)" transform="rotate(-15 489.6 384.1)"/>
<ellipse cx="487.2" cy="397.3" rx="4.3" ry="5.4" fill="#2440c8" fill-opacity="0.9" filter="url(#c1)" transform="rotate(25 487.2 397.3)"/>
<g fill="#62f0d8" filter="url(#c1)"><circle cx="485.1" cy="384.2" r="0.47" fill-opacity="0.39"/><circle cx="490.8" cy="385.2" r="0.52" fill-opacity="0.72"/><circle cx="487.4" cy="381.5" r="0.46" fill-opacity="0.33"/><circle cx="489.7" cy="384.7" r="0.49" fill-opacity="0.50"/><circle cx="488.7" cy="387.2" r="0.53" fill-opacity="0.46"/><circle cx="490.8" cy="381.5" r="0.49" fill-opacity="0.67"/><circle cx="491.2" cy="386.9" r="0.61" fill-opacity="0.68"/><circle cx="490.7" cy="383.2" r="0.47" fill-opacity="0.47"/><circle cx="489.1" cy="387.2" r="0.32" fill-opacity="0.38"/><circle cx="489.3" cy="382.8" r="0.44" fill-opacity="0.89"/><circle cx="487.1" cy="386.1" r="0.39" fill-opacity="0.30"/><circle cx="489.9" cy="383.3" r="0.40" fill-opacity="0.60"/><circle cx="491.3" cy="384.0" r="0.55" fill-opacity="0.64"/><circle cx="487.6" cy="383.5" r="0.65" fill-opacity="0.49"/><circle cx="492.2" cy="384.8" r="0.57" fill-opacity="0.88"/><circle cx="490.9" cy="383.7" r="0.53" fill-opacity="0.52"/><circle cx="487.8" cy="386.4" r="0.51" fill-opacity="0.44"/><circle cx="486.7" cy="383.6" r="0.37" fill-opacity="0.61"/><circle cx="491.0" cy="380.9" r="0.48" fill-opacity="0.76"/><circle cx="488.8" cy="381.9" r="0.65" fill-opacity="0.82"/><circle cx="490.2" cy="386.1" r="0.46" fill-opacity="0.73"/><circle cx="487.4" cy="386.3" r="0.43" fill-opacity="0.50"/><circle cx="492.9" cy="385.7" r="0.63" fill-opacity="0.64"/><circle cx="489.1" cy="385.7" r="0.55" fill-opacity="0.80"/><circle cx="488.6" cy="385.6" r="0.39" fill-opacity="0.41"/><circle cx="486.1" cy="386.4" r="0.47" fill-opacity="0.68"/><circle cx="489.3" cy="387.3" r="0.70" fill-opacity="0.33"/><circle cx="491.1" cy="380.9" r="0.32" fill-opacity="0.47"/><circle cx="485.3" cy="384.0" r="0.31" fill-opacity="0.63"/><circle cx="489.2" cy="383.3" r="0.42" fill-opacity="0.78"/></g>
<g fill="#48d890" filter="url(#c1)"><circle cx="490.3" cy="396.5" r="0.46" fill-opacity="0.67"/><circle cx="485.7" cy="398.6" r="0.52" fill-opacity="0.78"/><circle cx="485.6" cy="396.4" r="0.35" fill-opacity="0.49"/><circle cx="484.3" cy="397.3" r="0.41" fill-opacity="0.44"/><circle cx="487.6" cy="396.1" r="0.40" fill-opacity="0.33"/><circle cx="485.1" cy="396.2" r="0.70" fill-opacity="0.42"/><circle cx="489.7" cy="398.3" r="0.47" fill-opacity="0.78"/><circle cx="488.3" cy="393.1" r="0.52" fill-opacity="0.69"/><circle cx="488.9" cy="395.7" r="0.68" fill-opacity="0.82"/><circle cx="488.5" cy="400.3" r="0.37" fill-opacity="0.32"/><circle cx="484.9" cy="394.7" r="0.60" fill-opacity="0.49"/><circle cx="488.1" cy="400.8" r="0.59" fill-opacity="0.54"/><circle cx="487.9" cy="401.1" r="0.61" fill-opacity="0.89"/><circle cx="485.7" cy="398.8" r="0.40" fill-opacity="0.85"/><circle cx="485.8" cy="395.5" r="0.45" fill-opacity="0.69"/><circle cx="489.8" cy="397.1" r="0.56" fill-opacity="0.51"/><circle cx="487.7" cy="393.2" r="0.43" fill-opacity="0.74"/><circle cx="484.3" cy="398.5" r="0.52" fill-opacity="0.71"/><circle cx="485.4" cy="394.9" r="0.47" fill-opacity="0.31"/><circle cx="487.6" cy="396.5" r="0.43" fill-opacity="0.62"/><circle cx="490.5" cy="396.9" r="0.60" fill-opacity="0.37"/><circle cx="485.7" cy="398.8" r="0.37" fill-opacity="0.46"/><circle cx="487.3" cy="394.0" r="0.44" fill-opacity="0.89"/><circle cx="484.3" cy="397.4" r="0.45" fill-opacity="0.69"/></g>
</g>
<clipPath id="cp24"><rect x="363.6" y="413.0" width="51.3" height="41.6"/></clipPath>
<rect x="363.60" y="413.00" width="51.30" height="41.60" fill="#000" stroke="none" stroke-width="1"/>
<g clip-path="url(#cp24)">
<path d="M368.6 431.2 L385.0 432.4 L384.0 434 L376.0 432.8Z" fill="#2aa822" fill-opacity="0.6" filter="url(#c1)"/>
<path d="M383.0 432 Q391.0 430.4 397.0 432.8 L403.4 434 Q396.0 438 388.0 436 Z" fill="#30c428" fill-opacity="0.85" filter="url(#c1)"/>
<g fill="#86ff5a" filter="url(#c1)"><circle cx="378.4" cy="432.0" r="0.45" fill-opacity="0.74"/><circle cx="397.7" cy="434.9" r="0.46" fill-opacity="0.55"/><circle cx="389.0" cy="433.3" r="0.33" fill-opacity="0.72"/><circle cx="392.7" cy="434.4" r="0.41" fill-opacity="0.63"/><circle cx="384.6" cy="433.0" r="0.40" fill-opacity="0.42"/><circle cx="390.0" cy="433.1" r="0.44" fill-opacity="0.56"/><circle cx="373.0" cy="431.3" r="0.46" fill-opacity="0.52"/><circle cx="389.8" cy="434.3" r="0.45" fill-opacity="0.77"/><circle cx="376.6" cy="432.0" r="0.42" fill-opacity="0.80"/><circle cx="394.1" cy="433.4" r="0.38" fill-opacity="0.67"/><circle cx="401.7" cy="434.0" r="0.40" fill-opacity="0.73"/><circle cx="375.8" cy="432.5" r="0.55" fill-opacity="0.55"/><circle cx="379.0" cy="432.4" r="0.51" fill-opacity="0.62"/><circle cx="400.1" cy="434.5" r="0.51" fill-opacity="0.70"/><circle cx="387.3" cy="432.9" r="0.55" fill-opacity="0.33"/><circle cx="398.1" cy="435.8" r="0.48" fill-opacity="0.43"/><circle cx="396.2" cy="434.9" r="0.41" fill-opacity="0.57"/><circle cx="398.0" cy="435.2" r="0.35" fill-opacity="0.44"/><circle cx="391.3" cy="433.7" r="0.32" fill-opacity="0.58"/><circle cx="395.6" cy="433.9" r="0.42" fill-opacity="0.42"/><circle cx="396.0" cy="434.2" r="0.51" fill-opacity="0.69"/><circle cx="388.5" cy="432.9" r="0.53" fill-opacity="0.70"/><circle cx="376.6" cy="432.2" r="0.39" fill-opacity="0.35"/><circle cx="373.1" cy="431.7" r="0.39" fill-opacity="0.73"/><circle cx="397.0" cy="435.3" r="0.33" fill-opacity="0.39"/><circle cx="383.7" cy="432.6" r="0.51" fill-opacity="0.61"/><circle cx="399.1" cy="434.6" r="0.32" fill-opacity="0.79"/><circle cx="378.2" cy="432.2" r="0.46" fill-opacity="0.74"/><circle cx="393.8" cy="435.3" r="0.35" fill-opacity="0.63"/><circle cx="384.9" cy="432.6" r="0.30" fill-opacity="0.47"/></g>
</g>
<clipPath id="cp25"><rect x="417.0" y="413.0" width="51.3" height="41.6"/></clipPath>
<rect x="417.00" y="413.00" width="51.30" height="41.60" fill="#000" stroke="none" stroke-width="1"/>
<g clip-path="url(#cp25)">
<ellipse cx="426.8" cy="431.9" rx="3.7" ry="2.3" fill="#1c22ff" fill-opacity="1" filter="url(#c1)" transform="rotate(0 426.8 431.9)"/>
<ellipse cx="446.1" cy="434.3" rx="4.2" ry="2.3" fill="#1c22ff" fill-opacity="1" filter="url(#c1)" transform="rotate(0 446.1 434.3)"/>
</g>
<clipPath id="cp26"><rect x="470.3" y="413.0" width="51.3" height="41.6"/></clipPath>
<rect x="470.30" y="413.00" width="51.30" height="41.60" fill="#000" stroke="none" stroke-width="1"/>
<g clip-path="url(#cp26)">
<path d="M475.3 431.2 L491.7 432.4 L490.7 434 L482.7 432.8Z" fill="#2aa822" fill-opacity="0.6" filter="url(#c1)"/>
<path d="M489.7 432 Q497.7 430.4 503.7 432.8 L510.1 434 Q502.7 438 494.7 436 Z" fill="#30c428" fill-opacity="0.85" filter="url(#c1)"/>
<g fill="#86ff5a" filter="url(#c1)"><circle cx="499.8" cy="434.9" r="0.36" fill-opacity="0.59"/><circle cx="487.2" cy="432.2" r="0.52" fill-opacity="0.44"/><circle cx="504.3" cy="434.6" r="0.47" fill-opacity="0.53"/><circle cx="506.7" cy="433.9" r="0.40" fill-opacity="0.67"/><circle cx="496.7" cy="434.1" r="0.41" fill-opacity="0.33"/><circle cx="491.3" cy="432.4" r="0.37" fill-opacity="0.52"/><circle cx="507.3" cy="433.9" r="0.37" fill-opacity="0.65"/><circle cx="498.9" cy="434.1" r="0.36" fill-opacity="0.51"/><circle cx="482.7" cy="431.8" r="0.52" fill-opacity="0.43"/><circle cx="491.3" cy="433.1" r="0.39" fill-opacity="0.71"/><circle cx="504.2" cy="434.0" r="0.45" fill-opacity="0.57"/><circle cx="481.7" cy="431.8" r="0.52" fill-opacity="0.34"/><circle cx="489.6" cy="432.1" r="0.39" fill-opacity="0.66"/><circle cx="498.8" cy="433.4" r="0.39" fill-opacity="0.75"/><circle cx="507.2" cy="434.7" r="0.31" fill-opacity="0.62"/><circle cx="492.8" cy="433.7" r="0.39" fill-opacity="0.53"/><circle cx="488.2" cy="432.5" r="0.47" fill-opacity="0.60"/><circle cx="507.8" cy="435.7" r="0.54" fill-opacity="0.80"/><circle cx="490.6" cy="432.3" r="0.51" fill-opacity="0.62"/><circle cx="499.7" cy="435.0" r="0.55" fill-opacity="0.33"/><circle cx="492.6" cy="432.7" r="0.40" fill-opacity="0.63"/><circle cx="485.2" cy="432.8" r="0.55" fill-opacity="0.40"/><circle cx="489.8" cy="432.7" r="0.34" fill-opacity="0.50"/><circle cx="501.0" cy="434.0" r="0.32" fill-opacity="0.38"/><circle cx="498.2" cy="434.3" r="0.46" fill-opacity="0.67"/><circle cx="486.3" cy="432.8" r="0.50" fill-opacity="0.67"/><circle cx="502.0" cy="435.5" r="0.33" fill-opacity="0.53"/><circle cx="479.2" cy="431.6" r="0.51" fill-opacity="0.77"/><circle cx="505.6" cy="433.5" r="0.31" fill-opacity="0.48"/><circle cx="494.8" cy="432.9" r="0.43" fill-opacity="0.36"/></g>
<ellipse cx="480.1" cy="431.9" rx="3.7" ry="2.3" fill="#1c22ff" fill-opacity="1" filter="url(#c1)" transform="rotate(0 480.1 431.9)"/>
<ellipse cx="499.4" cy="434.3" rx="4.2" ry="2.3" fill="#1c22ff" fill-opacity="1" filter="url(#c1)" transform="rotate(0 499.4 434.3)"/>
</g>
<line x1="366.80" y1="330.10" x2="374.00" y2="330.10" stroke="#fff" stroke-width="1.9" stroke-linecap="butt"/>
<line x1="368.00" y1="450.40" x2="375.00" y2="450.40" stroke="#f4f4f4" stroke-width="1.7" stroke-linecap="butt"/>
</svg>
</body></html>
